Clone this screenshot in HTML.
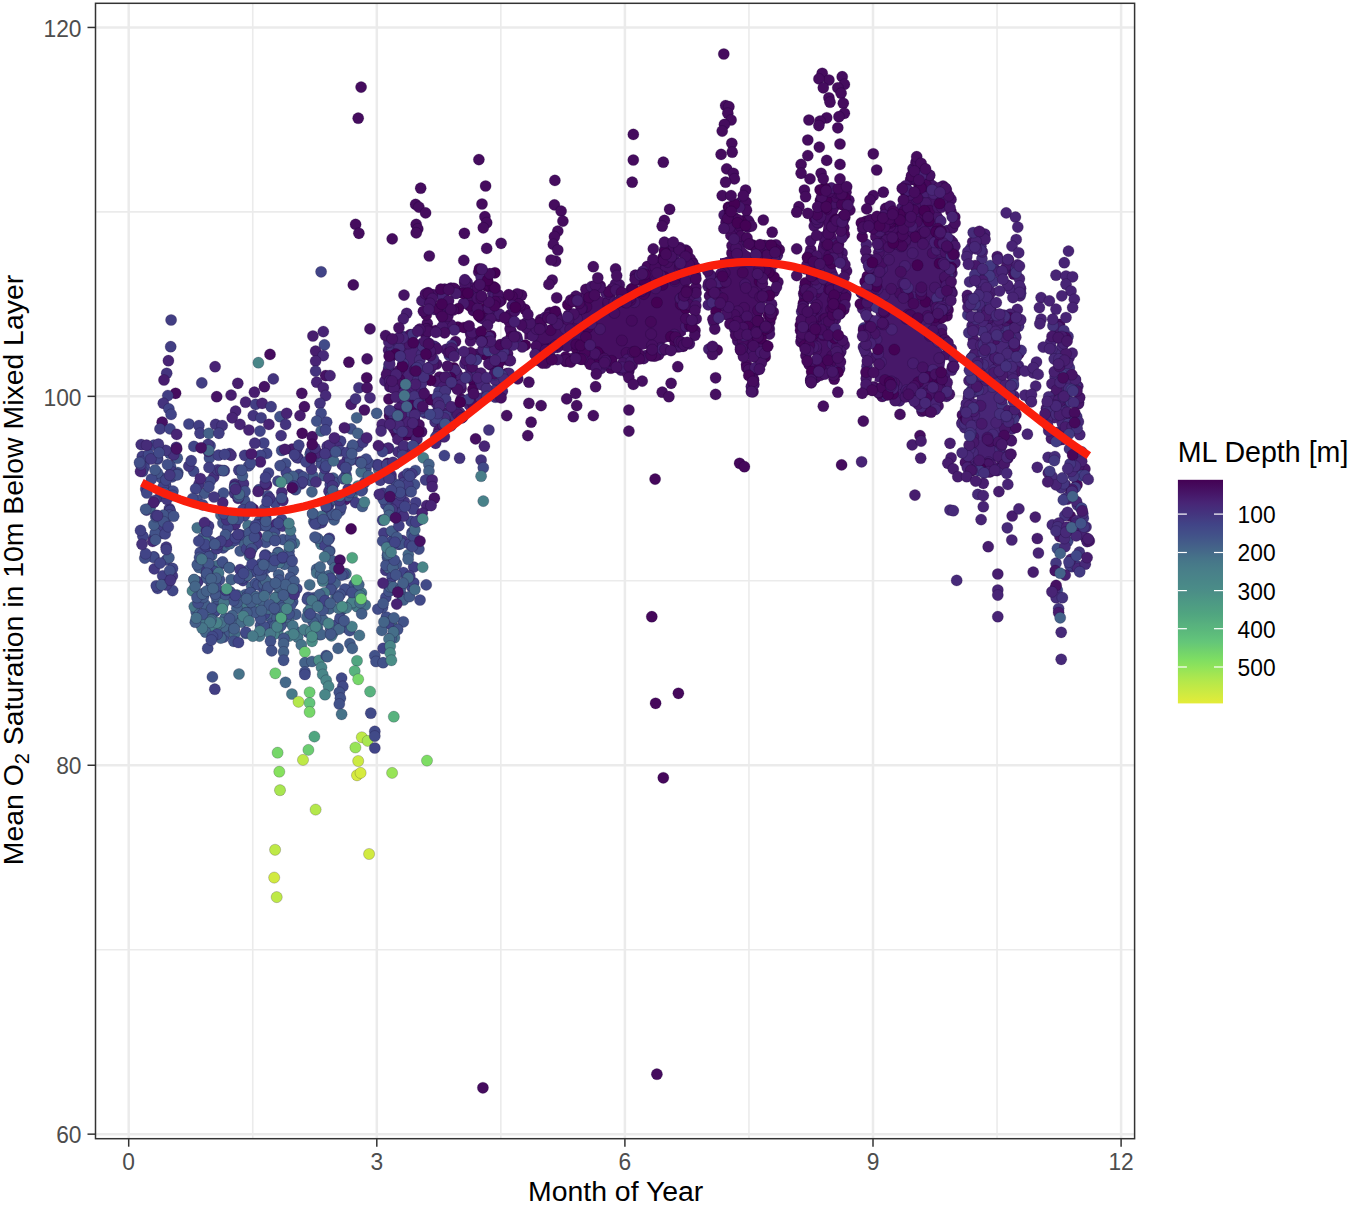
<!DOCTYPE html><html><head><meta charset="utf-8"><style>html,body{margin:0;padding:0;background:#fff;}svg{display:block;}text{font-family:"Liberation Sans",sans-serif;}g.pts circle{stroke:rgba(20,0,45,0.2);stroke-width:1.0}</style></head><body>
<svg width="1350" height="1205" viewBox="0 0 1350 1205">
<rect x="0" y="0" width="1350" height="1205" fill="#fff"/>
<line x1="252.75" y1="3.3" x2="252.75" y2="1138.7" stroke="#ebebeb" stroke-width="1.6"/><line x1="500.85" y1="3.3" x2="500.85" y2="1138.7" stroke="#ebebeb" stroke-width="1.6"/><line x1="748.95" y1="3.3" x2="748.95" y2="1138.7" stroke="#ebebeb" stroke-width="1.6"/><line x1="997.05" y1="3.3" x2="997.05" y2="1138.7" stroke="#ebebeb" stroke-width="1.6"/><line x1="95.5" y1="949.70" x2="1134.6" y2="949.70" stroke="#ebebeb" stroke-width="1.6"/><line x1="95.5" y1="580.80" x2="1134.6" y2="580.80" stroke="#ebebeb" stroke-width="1.6"/><line x1="95.5" y1="211.90" x2="1134.6" y2="211.90" stroke="#ebebeb" stroke-width="1.6"/><line x1="128.70" y1="3.3" x2="128.70" y2="1138.7" stroke="#ebebeb" stroke-width="2.5"/><line x1="376.80" y1="3.3" x2="376.80" y2="1138.7" stroke="#ebebeb" stroke-width="2.5"/><line x1="624.90" y1="3.3" x2="624.90" y2="1138.7" stroke="#ebebeb" stroke-width="2.5"/><line x1="873.00" y1="3.3" x2="873.00" y2="1138.7" stroke="#ebebeb" stroke-width="2.5"/><line x1="1121.10" y1="3.3" x2="1121.10" y2="1138.7" stroke="#ebebeb" stroke-width="2.5"/><line x1="95.5" y1="1134.15" x2="1134.6" y2="1134.15" stroke="#ebebeb" stroke-width="2.5"/><line x1="95.5" y1="765.25" x2="1134.6" y2="765.25" stroke="#ebebeb" stroke-width="2.5"/><line x1="95.5" y1="396.35" x2="1134.6" y2="396.35" stroke="#ebebeb" stroke-width="2.5"/><line x1="95.5" y1="27.45" x2="1134.6" y2="27.45" stroke="#ebebeb" stroke-width="2.5"/>
<g class="pts"><path d="M740.9,240.0 L740.8,239.7 L740.7,238.3 L740.7,236.9 L740.8,235.5 L741.9,227.8 L740.4,225.6 L739.7,224.4 L739.1,223.2 L738.7,221.9 L738.3,220.6 L738.1,219.2 L737.5,212.8 L736.3,213.1 L733.0,215.7 L733.0,237.8 L733.0,239.2 L732.9,240.0 L740.9,240.0Z" fill="#450d60"/><path d="M837.2,240.0 L837.3,239.2 L834.2,228.3 L833.8,227.0 L833.7,225.6 L833.6,224.2 L833.7,222.9 L833.9,221.5 L834.3,220.2 L834.8,218.9 L839.8,207.2 L838.0,197.4 L830.2,196.5 L828.6,196.7 L828.6,200.0 L828.5,201.7 L828.2,203.4 L824.0,220.2 L822.1,238.9 L822.0,240.0 L837.2,240.0Z" fill="#450d60"/><path d="M930.0,240.0 L930.0,164.4 L914.4,195.6 L911.2,198.8 L911.2,199.0 L911.5,200.3 L911.6,201.7 L911.6,203.1 L911.5,204.5 L911.2,205.9 L910.8,207.2 L910.3,208.5 L909.6,209.7 L908.9,210.9 L908.0,211.9 L907.0,212.9 L905.9,213.8 L904.8,214.6 L903.6,215.2 L902.3,215.8 L900.9,216.2 L899.6,216.4 L898.2,216.6 L896.8,216.6 L895.4,216.4 L894.1,216.2 L892.1,215.7 L884.5,223.3 L883.5,224.2 L882.5,225.0 L881.4,225.7 L880.3,226.2 L879.1,226.7 L877.9,227.1 L870.8,228.8 L870.8,237.8 L870.8,239.2 L870.6,240.0 L930.0,240.0Z" fill="#450d60"/><path d="M900.0,320.0 L936.9,320.0 L937.0,318.6 L937.2,317.2 L937.5,315.9 L938.0,314.6 L938.6,313.3 L939.3,312.1 L940.2,311.0 L941.1,310.0 L941.5,309.6 L942.3,301.9 L942.3,286.0 L942.3,284.9 L942.4,283.9 L944.8,268.3 L944.8,253.7 L944.8,252.3 L945.0,250.9 L945.4,249.6 L945.6,249.1 L944.9,248.6 L943.9,247.7 L942.9,246.7 L942.1,245.6 L941.3,244.4 L940.7,243.2 L940.1,241.9 L939.6,240.5 L939.3,239.1 L939.0,237.7 L939.0,236.2 L939.0,234.8 L939.2,233.3 L939.6,231.9 L940.1,230.6 L940.7,229.3 L941.5,228.1 L945.5,222.4 L945.8,220.6 L942.5,215.1 L941.9,213.9 L941.4,212.7 L941.0,211.4 L940.8,210.2 L940.6,208.8 L940.6,207.5 L940.7,206.2 L941.7,198.4 L938.8,194.4 L931.4,190.9 L930.2,190.3 L929.1,189.6 L928.0,188.7 L927.0,187.8 L926.1,186.7 L925.3,185.6 L924.7,184.4 L921.6,178.3 L921.3,177.9 L921.2,178.2 L920.8,179.5 L920.3,180.8 L919.6,182.0 L918.9,183.2 L918.0,184.2 L914.2,188.5 L914.2,200.5 L914.1,201.9 L913.9,203.2 L913.6,204.6 L913.1,205.9 L912.5,207.2 L911.8,208.3 L910.9,209.5 L910.0,210.5 L909.0,211.4 L907.9,212.3 L906.7,213.0 L905.4,213.6 L904.1,214.0 L902.8,214.4 L901.4,214.6 L900.0,214.6 L900.0,320.0Z" fill="#461466"/><path d="M992.9,320.0 L992.1,286.0 L990.5,277.7 L990.5,272.7 L990.2,272.7 L988.9,272.7 L987.5,272.6 L986.1,272.3 L984.8,271.9 L983.5,271.4 L982.3,270.7 L981.1,269.9 L980.0,269.1 L979.1,268.1 L978.2,267.0 L977.9,266.6 L978.0,268.1 L979.6,280.9 L979.7,282.2 L979.7,283.5 L979.6,284.8 L979.3,286.1 L976.5,297.4 L976.9,311.5 L977.4,312.1 L978.1,313.3 L978.7,314.6 L979.2,315.9 L979.5,317.2 L979.7,318.6 L979.8,320.0 L992.9,320.0Z" fill="#482676"/><path d="M420.0,440.0 L420.0,338.1 L417.7,339.9 L416.7,340.7 L415.7,341.3 L414.5,341.9 L413.4,342.3 L401.8,346.2 L397.7,348.9 L398.4,353.2 L398.6,354.5 L398.6,355.7 L398.5,356.9 L398.4,358.2 L395.3,374.3 L396.3,394.5 L398.3,414.4 L405.5,432.2 L405.9,433.6 L406.3,434.9 L406.4,436.3 L406.5,437.7 L406.4,439.1 L406.3,440.0 L420.0,440.0Z" fill="#482273"/><path d="M524.4,339.4 L524.8,339.3 L526.2,339.4 L527.6,339.5 L529.0,339.8 L530.3,340.3 L531.6,340.8 L532.8,341.5 L533.9,342.3 L535.0,343.2 L535.9,344.2 L536.8,345.3 L537.5,346.5 L538.2,347.7 L538.7,349.0 L538.8,349.3 L544.1,353.6 L545.5,352.7 L546.7,352.0 L547.9,351.4 L549.2,350.9 L550.6,350.6 L551.9,350.4 L553.3,350.3 L560.0,350.3 L561.4,350.4 L562.8,350.6 L564.1,350.9 L565.4,351.4 L566.7,352.0 L567.7,352.6 L569.2,351.8 L570.4,351.2 L571.7,350.8 L572.9,350.5 L574.2,350.3 L575.6,350.3 L584.4,350.3 L585.9,350.4 L587.3,350.6 L588.8,351.0 L590.1,351.5 L591.4,352.1 L592.7,352.9 L593.8,353.8 L594.8,354.8 L595.8,355.9 L597.8,358.6 L598.5,358.3 L599.8,357.7 L601.2,357.3 L602.6,357.1 L604.0,357.0 L605.4,357.0 L606.8,357.1 L608.1,357.4 L609.5,357.9 L610.8,358.4 L614.4,360.3 L615.5,359.9 L616.9,359.5 L618.3,359.3 L619.7,359.2 L621.1,359.2 L622.6,359.4 L623.9,359.7 L625.3,360.2 L626.1,360.6 L632.2,354.4 L633.2,353.6 L634.2,352.8 L635.2,352.1 L636.4,351.5 L637.6,351.1 L638.8,350.7 L655.6,346.5 L665.9,342.4 L667.2,341.9 L680.7,338.1 L685.9,334.6 L686.3,274.1 L684.7,259.2 L674.2,255.4 L671.6,256.7 L661.3,263.5 L654.0,274.5 L653.2,275.6 L652.4,276.5 L651.4,277.4 L650.4,278.2 L649.3,278.9 L648.1,279.5 L646.9,280.0 L645.7,280.4 L644.7,280.6 L642.5,288.3 L642.1,289.6 L641.5,290.9 L640.8,292.1 L640.0,293.2 L639.1,294.3 L638.1,295.2 L637.0,296.1 L635.8,296.8 L634.6,297.4 L633.3,297.9 L632.0,298.3 L630.6,298.5 L629.2,298.6 L627.9,298.6 L626.5,298.4 L625.1,298.1 L623.8,297.7 L622.6,297.1 L618.3,295.0 L618.2,295.1 L617.1,296.0 L615.9,296.7 L614.7,297.4 L613.4,297.9 L612.0,298.3 L610.7,298.5 L609.3,298.6 L607.9,298.6 L606.5,298.4 L605.1,298.1 L603.8,297.7 L602.6,297.1 L596.3,294.0 L594.2,295.3 L585.5,300.8 L580.1,304.3 L572.2,312.2 L571.3,313.1 L570.2,313.9 L569.1,314.6 L567.9,315.2 L566.7,315.7 L556.0,319.2 L550.3,324.1 L549.2,324.9 L548.1,325.7 L546.8,326.3 L545.5,326.8 L544.2,327.2 L536.6,328.8 L535.3,329.1 L533.9,329.2 L532.5,329.1 L531.1,329.0 L529.7,328.7 L528.4,328.2 L527.2,327.6 L526.7,327.4 L524.4,333.3 L524.4,339.4Z" fill="#460f61"/><path d="M720.0,311.6 L720.1,311.6 L721.5,311.4 L722.9,311.4 L724.2,311.5 L725.6,311.7 L727.0,312.1 L728.3,312.6 L735.8,315.9 L737.0,316.6 L738.1,317.3 L739.2,318.1 L740.2,319.1 L741.1,320.1 L741.9,321.2 L742.6,322.4 L743.2,323.7 L743.6,324.9 L743.9,326.3 L747.0,342.8 L753.3,359.5 L753.4,359.8 L758.2,351.8 L761.1,343.1 L759.3,330.9 L759.2,329.4 L759.2,327.9 L759.4,326.4 L759.7,325.0 L763.6,311.4 L763.6,295.6 L763.7,294.3 L763.8,293.0 L764.1,291.8 L764.5,290.6 L765.0,289.4 L765.6,288.3 L768.0,284.3 L763.3,275.9 L762.7,274.7 L762.2,273.5 L761.8,272.2 L761.5,270.9 L761.4,269.6 L761.4,268.2 L761.5,266.9 L761.8,265.6 L762.2,264.3 L762.7,263.1 L763.3,261.9 L767.7,254.2 L757.0,254.2 L755.6,254.1 L754.2,253.9 L752.9,253.6 L751.6,253.1 L750.3,252.5 L749.1,251.8 L748.0,250.9 L747.0,250.0 L746.0,249.0 L745.2,247.9 L744.5,246.7 L743.9,245.4 L743.4,244.1 L743.1,242.8 L742.9,241.4 L742.8,240.0 L733.9,240.0 L734.1,241.1 L734.2,242.5 L734.2,244.2 L734.1,245.6 L733.9,246.9 L733.6,248.3 L733.1,249.6 L732.5,250.8 L731.8,252.0 L730.9,253.2 L730.0,254.2 L729.0,255.1 L727.9,255.9 L726.7,256.7 L725.4,257.3 L724.1,257.7 L722.8,258.1 L721.4,258.3 L720.0,258.3 L720.0,311.6Z" fill="#460f61"/><path d="M819.4,240.0 L819.4,241.4 L819.2,242.8 L818.8,244.1 L818.4,245.4 L818.1,246.0 L816.3,263.6 L811.9,308.1 L809.8,328.6 L811.7,341.5 L815.8,355.8 L819.1,365.7 L820.3,365.1 L821.6,364.6 L822.9,364.1 L824.3,363.8 L825.7,363.7 L827.1,363.6 L828.4,363.7 L829.8,364.0 L830.3,364.1 L830.3,355.6 L830.3,354.2 L830.5,352.9 L830.8,351.7 L831.2,350.4 L831.8,349.2 L834.5,343.7 L833.1,341.8 L826.4,332.9 L825.7,331.8 L825.0,330.6 L824.5,329.4 L824.1,328.1 L823.8,326.8 L823.7,325.4 L823.6,324.1 L823.7,322.7 L823.9,321.4 L824.3,320.1 L824.8,318.8 L825.4,317.6 L826.1,316.5 L826.9,315.4 L836.3,304.1 L838.2,298.3 L834.7,289.9 L834.2,288.6 L833.9,287.3 L833.7,286.0 L833.6,284.6 L833.7,283.3 L833.8,281.9 L834.1,280.6 L834.6,279.3 L835.1,278.1 L837.7,272.9 L833.7,263.4 L833.1,261.9 L832.8,260.5 L832.6,259.0 L832.5,257.5 L832.6,256.0 L834.5,240.7 L834.7,240.0 L819.4,240.0Z" fill="#461163"/><path d="M953.3,302.2 L951.1,284.4 L955.6,262.2 L956.3,254.6 L956.3,254.6 L954.9,254.4 L953.6,254.0 L952.3,253.6 L951.0,253.0 L949.8,252.3 L948.7,251.4 L947.7,250.5 L946.8,249.5 L945.9,248.3 L945.2,247.2 L944.6,245.9 L944.6,245.8 L944.4,245.4 L944.0,244.1 L943.6,242.8 L943.4,241.4 L943.4,240.0 L872.4,240.0 L876.0,254.3 L876.3,256.0 L876.4,257.8 L876.4,275.6 L876.3,277.0 L876.1,278.5 L875.7,279.9 L875.2,281.3 L868.0,297.4 L868.1,297.8 L868.5,299.1 L869.0,301.5 L874.4,310.5 L875.0,311.8 L875.6,313.1 L876.0,314.5 L876.3,315.9 L876.4,317.4 L876.3,318.8 L876.2,320.3 L875.8,321.7 L875.4,323.0 L871.9,331.6 L871.9,344.9 L876.0,361.0 L876.2,362.3 L876.4,363.6 L876.4,364.9 L876.3,366.2 L874.4,381.4 L874.7,381.5 L876.1,381.7 L877.4,382.0 L878.8,382.5 L880.0,383.1 L881.2,383.8 L882.3,384.6 L883.3,385.5 L884.3,386.5 L885.5,386.3 L886.8,386.0 L888.2,385.9 L889.5,385.9 L890.9,386.0 L892.2,386.2 L893.5,386.6 L894.8,387.1 L896.0,387.8 L897.2,388.5 L898.2,389.4 L899.2,390.3 L899.4,390.5 L904.4,388.8 L905.8,388.4 L907.2,388.2 L908.6,388.1 L910.0,388.1 L911.4,388.3 L912.8,388.6 L914.2,389.1 L915.5,389.7 L916.7,390.4 L917.8,391.3 L918.9,392.2 L925.6,398.9 L926.5,399.9 L927.3,401.0 L927.6,401.4 L929.7,401.4 L932.2,398.9 L933.3,397.9 L934.6,397.0 L935.9,396.2 L939.2,394.6 L938.4,393.0 L937.9,391.7 L937.4,390.3 L937.1,388.8 L937.0,387.4 L937.0,385.9 L937.1,384.5 L937.4,383.1 L937.9,381.7 L938.4,380.3 L944.1,369.1 L945.5,359.1 L942.9,351.3 L935.6,342.2 L934.8,341.0 L934.0,339.8 L933.5,338.4 L933.0,337.1 L932.7,335.6 L932.5,334.2 L932.5,332.8 L932.6,331.3 L934.2,320.5 L934.5,319.1 L934.9,317.8 L935.4,316.5 L936.0,315.3 L936.8,314.1 L937.7,313.0 L938.6,312.1 L939.7,311.2 L940.9,310.4 L942.1,309.7 L943.4,309.2 L944.7,308.8 L946.1,308.5 L947.4,308.4 L948.8,308.4 L950.2,308.5 L951.5,308.7 L953.3,302.2Z" fill="#471869"/><path d="M1006.1,440.0 L1005.9,438.9 L1005.8,437.5 L1005.8,372.7 L1005.9,371.3 L1006.1,370.0 L1006.4,368.6 L1006.9,367.3 L1007.5,366.1 L1008.2,364.9 L1009.1,363.7 L1010.0,362.7 L1011.0,361.8 L1012.1,361.0 L1013.3,360.2 L1014.6,359.6 L1015.9,359.2 L1017.2,358.8 L1018.6,358.6 L1020.0,358.6 L1020.0,313.3 L979.5,315.0 L979.9,315.6 L980.5,316.9 L981.0,318.2 L981.4,319.5 L981.6,320.9 L981.7,322.3 L981.7,323.7 L981.5,325.0 L981.2,326.4 L979.3,333.0 L982.3,342.2 L982.7,343.6 L983.0,345.1 L983.0,346.5 L983.0,348.0 L982.8,349.4 L978.6,370.3 L978.6,384.4 L978.5,386.4 L976.2,402.0 L976.0,403.3 L975.7,404.5 L971.6,416.6 L970.1,427.1 L972.2,432.4 L972.7,433.7 L973.0,435.1 L973.2,436.5 L973.2,437.9 L973.1,439.2 L973.0,440.0 L1006.1,440.0Z" fill="#482676"/><path d="M1068.9,440.0 L1068.9,439.1 L1069.0,437.7 L1070.4,428.8 L1068.9,414.0 L1068.8,412.4 L1068.9,410.9 L1070.3,399.6 L1067.7,383.8 L1063.9,376.3 L1063.9,376.7 L1063.8,378.2 L1063.5,379.7 L1063.1,381.1 L1058.5,393.3 L1055.7,407.4 L1055.7,420.6 L1059.5,433.9 L1059.8,435.3 L1060.0,436.7 L1060.0,438.1 L1059.9,439.4 L1059.8,440.0 L1068.9,440.0ZM1059.4,343.7 L1059.8,344.5 L1059.4,343.6 L1059.4,343.5 L1059.4,343.7Z" fill="#482676"/><path d="M973.0,440.0 L973.1,440.8 L973.2,442.1 L973.2,443.5 L973.0,444.9 L972.7,446.3 L972.2,447.6 L970.8,451.1 L973.1,457.0 L975.3,462.4 L978.3,463.6 L985.3,463.6 L994.7,461.7 L995.0,461.7 L995.2,461.0 L995.6,459.6 L996.2,458.2 L996.9,456.8 L997.8,455.6 L1004.4,447.4 L1005.6,440.2 L1005.7,440.0 L973.0,440.0Z" fill="#471f70"/><circle cx="800.9" cy="341.7" r="5.6" fill="#460e61"/><circle cx="984.7" cy="234.0" r="5.6" fill="#471d6f"/><circle cx="1057.5" cy="438.5" r="5.6" fill="#471b6d"/><circle cx="993.4" cy="281.3" r="5.6" fill="#45307c"/><circle cx="842.1" cy="252.9" r="5.6" fill="#461668"/><circle cx="223.1" cy="547.9" r="5.6" fill="#414a88"/><circle cx="399.2" cy="544.3" r="5.6" fill="#435e89"/><circle cx="951.1" cy="253.3" r="5.6" fill="#461567"/><circle cx="490.7" cy="335.5" r="5.6" fill="#45075a"/><circle cx="211.4" cy="585.1" r="5.6" fill="#414787"/><circle cx="608.2" cy="304.4" r="5.6" fill="#460e61"/><circle cx="901.6" cy="245.9" r="5.6" fill="#47196b"/><circle cx="1057.4" cy="548.6" r="5.6" fill="#424e88"/><circle cx="972.0" cy="357.3" r="5.6" fill="#462f7b"/><circle cx="913.1" cy="363.3" r="5.6" fill="#471c6e"/><circle cx="464.9" cy="363.7" r="5.6" fill="#471e70"/><circle cx="223.8" cy="637.1" r="5.6" fill="#425089"/><circle cx="259.4" cy="521.2" r="5.6" fill="#425489"/><circle cx="921.0" cy="392.4" r="5.6" fill="#471d6f"/><circle cx="758.9" cy="351.4" r="5.6" fill="#450b5d"/><circle cx="327.4" cy="510.1" r="5.6" fill="#472777"/><circle cx="477.5" cy="299.9" r="5.6" fill="#461062"/><circle cx="402.7" cy="336.8" r="5.6" fill="#482172"/><circle cx="431.8" cy="414.9" r="5.6" fill="#414888"/><circle cx="987.7" cy="469.8" r="5.6" fill="#45075a"/><circle cx="936.2" cy="304.4" r="5.6" fill="#471769"/><circle cx="387.5" cy="557.6" r="5.6" fill="#435889"/><circle cx="582.9" cy="302.3" r="5.6" fill="#450d5f"/><circle cx="193.6" cy="471.2" r="5.6" fill="#414988"/><circle cx="355.9" cy="600.2" r="5.6" fill="#477989"/><circle cx="492.7" cy="293.4" r="5.6" fill="#471b6c"/><circle cx="402.6" cy="365.7" r="5.6" fill="#471f71"/><circle cx="943.0" cy="395.5" r="5.6" fill="#47186a"/><circle cx="476.9" cy="299.3" r="5.6" fill="#461567"/><circle cx="866.4" cy="244.4" r="5.6" fill="#482071"/><circle cx="403.6" cy="476.6" r="5.6" fill="#45327d"/><circle cx="645.1" cy="290.3" r="5.6" fill="#450a5c"/><circle cx="313.8" cy="521.4" r="5.6" fill="#445f89"/><circle cx="969.3" cy="422.9" r="5.6" fill="#482172"/><circle cx="142.3" cy="456.4" r="5.6" fill="#423f84"/><circle cx="809.3" cy="331.6" r="5.6" fill="#45085a"/><circle cx="981.4" cy="346.6" r="5.6" fill="#462c7a"/><circle cx="946.7" cy="298.0" r="5.6" fill="#440154"/><circle cx="896.5" cy="385.8" r="5.6" fill="#471c6d"/><circle cx="826.4" cy="245.0" r="5.6" fill="#450c5f"/><circle cx="1013.7" cy="411.9" r="5.6" fill="#443780"/><circle cx="1055.8" cy="353.4" r="5.6" fill="#462c79"/><circle cx="1012.2" cy="428.9" r="5.6" fill="#482576"/><circle cx="905.0" cy="241.9" r="5.6" fill="#461264"/><circle cx="740.1" cy="204.0" r="5.6" fill="#450c5e"/><circle cx="839.6" cy="293.9" r="5.6" fill="#45085b"/><circle cx="814.6" cy="219.2" r="5.6" fill="#440255"/><circle cx="835.9" cy="219.4" r="5.6" fill="#440154"/><circle cx="940.8" cy="220.9" r="5.6" fill="#482374"/><circle cx="731.9" cy="252.9" r="5.6" fill="#45085b"/><circle cx="656.9" cy="302.5" r="5.6" fill="#440154"/><circle cx="550.4" cy="357.1" r="5.6" fill="#460f62"/><circle cx="207.5" cy="611.4" r="5.6" fill="#414a88"/><circle cx="774.1" cy="263.9" r="5.6" fill="#461062"/><circle cx="732.2" cy="323.8" r="5.6" fill="#440154"/><circle cx="141.2" cy="444.6" r="5.6" fill="#45317c"/><circle cx="392.0" cy="423.0" r="5.6" fill="#472777"/><circle cx="245.0" cy="604.9" r="5.6" fill="#467889"/><circle cx="995.3" cy="269.8" r="5.6" fill="#471f70"/><circle cx="1069.3" cy="389.6" r="5.6" fill="#472a78"/><circle cx="734.7" cy="329.0" r="5.6" fill="#461567"/><circle cx="469.8" cy="301.9" r="5.6" fill="#461365"/><circle cx="345.0" cy="495.4" r="5.6" fill="#488089"/><circle cx="916.4" cy="206.0" r="5.6" fill="#461063"/><circle cx="456.6" cy="372.7" r="5.6" fill="#461264"/><circle cx="203.0" cy="537.5" r="5.6" fill="#435789"/><circle cx="942.1" cy="242.8" r="5.6" fill="#462b79"/><circle cx="880.2" cy="323.7" r="5.6" fill="#471f71"/><circle cx="999.1" cy="364.4" r="5.6" fill="#471a6b"/><circle cx="204.5" cy="561.0" r="5.6" fill="#424e88"/><circle cx="438.2" cy="410.0" r="5.6" fill="#462f7b"/><circle cx="968.9" cy="393.3" r="5.6" fill="#471d6f"/><circle cx="871.2" cy="358.3" r="5.6" fill="#461566"/><circle cx="1016.5" cy="366.6" r="5.6" fill="#472777"/><circle cx="831.4" cy="288.0" r="5.6" fill="#450659"/><circle cx="383.8" cy="533.1" r="5.6" fill="#433d83"/><circle cx="835.3" cy="319.4" r="5.6" fill="#461567"/><circle cx="511.9" cy="314.1" r="5.6" fill="#461567"/><circle cx="235.0" cy="484.0" r="5.6" fill="#45307c"/><circle cx="210.1" cy="445.8" r="5.6" fill="#414687"/><circle cx="331.5" cy="579.4" r="5.6" fill="#467489"/><circle cx="1015.9" cy="414.7" r="5.6" fill="#461365"/><circle cx="666.7" cy="255.4" r="5.6" fill="#450a5c"/><circle cx="1058.6" cy="403.3" r="5.6" fill="#471a6b"/><circle cx="336.0" cy="596.8" r="5.6" fill="#456a89"/><circle cx="278.0" cy="552.4" r="5.6" fill="#424c88"/><circle cx="404.2" cy="336.8" r="5.6" fill="#423f84"/><circle cx="628.9" cy="370.8" r="5.6" fill="#450e60"/><circle cx="947.1" cy="315.8" r="5.6" fill="#45095b"/><circle cx="245.5" cy="594.5" r="5.6" fill="#435989"/><circle cx="469.7" cy="405.4" r="5.6" fill="#482375"/><circle cx="932.9" cy="369.9" r="5.6" fill="#482374"/><circle cx="507.6" cy="353.8" r="5.6" fill="#461466"/><circle cx="236.9" cy="608.3" r="5.6" fill="#446089"/><circle cx="951.9" cy="273.1" r="5.6" fill="#47196b"/><circle cx="863.4" cy="347.0" r="5.6" fill="#482273"/><circle cx="197.3" cy="527.8" r="5.6" fill="#457089"/><circle cx="966.4" cy="423.5" r="5.6" fill="#482273"/><circle cx="1052.1" cy="402.2" r="5.6" fill="#450e60"/><circle cx="275.2" cy="503.0" r="5.6" fill="#414687"/><circle cx="815.6" cy="377.7" r="5.6" fill="#460e61"/><circle cx="392.7" cy="532.2" r="5.6" fill="#414286"/><circle cx="352.0" cy="496.1" r="5.6" fill="#456d89"/><circle cx="230.0" cy="631.9" r="5.6" fill="#435a89"/><circle cx="865.7" cy="297.5" r="5.6" fill="#461466"/><circle cx="758.7" cy="348.1" r="5.6" fill="#461264"/><circle cx="899.6" cy="400.8" r="5.6" fill="#471f70"/><circle cx="321.1" cy="544.3" r="5.6" fill="#467489"/><circle cx="962.4" cy="415.0" r="5.6" fill="#461163"/><circle cx="631.5" cy="299.5" r="5.6" fill="#460f61"/><circle cx="1060.7" cy="397.0" r="5.6" fill="#472776"/><circle cx="833.8" cy="334.8" r="5.6" fill="#450d5f"/><circle cx="361.4" cy="592.9" r="5.6" fill="#467689"/><circle cx="276.1" cy="597.7" r="5.6" fill="#446089"/><circle cx="211.6" cy="555.4" r="5.6" fill="#435e89"/><circle cx="949.9" cy="271.9" r="5.6" fill="#461062"/><circle cx="473.9" cy="382.0" r="5.6" fill="#440356"/><circle cx="250.0" cy="572.9" r="5.6" fill="#435889"/><circle cx="950.3" cy="275.1" r="5.6" fill="#461567"/><circle cx="898.7" cy="219.9" r="5.6" fill="#450a5c"/><circle cx="815.1" cy="264.4" r="5.6" fill="#471e6f"/><circle cx="1004.8" cy="410.9" r="5.6" fill="#482374"/><circle cx="295.8" cy="614.4" r="5.6" fill="#435c89"/><circle cx="455.5" cy="341.6" r="5.6" fill="#450d5f"/><circle cx="674.8" cy="281.1" r="5.6" fill="#461466"/><circle cx="823.9" cy="236.8" r="5.6" fill="#461163"/><circle cx="590.8" cy="356.1" r="5.6" fill="#440356"/><circle cx="1058.2" cy="404.2" r="5.6" fill="#44367f"/><circle cx="415.4" cy="470.5" r="5.6" fill="#425089"/><circle cx="978.8" cy="247.1" r="5.6" fill="#47196b"/><circle cx="708.8" cy="349.1" r="5.6" fill="#471f70"/><circle cx="584.1" cy="307.7" r="5.6" fill="#450c5e"/><circle cx="472.3" cy="296.7" r="5.6" fill="#471a6c"/><circle cx="204.8" cy="553.1" r="5.6" fill="#423e84"/><circle cx="599.9" cy="329.1" r="5.6" fill="#461768"/><circle cx="973.4" cy="460.5" r="5.6" fill="#482172"/><circle cx="277.2" cy="609.5" r="5.6" fill="#457089"/><circle cx="333.4" cy="632.3" r="5.6" fill="#456d89"/><circle cx="939.5" cy="378.5" r="5.6" fill="#471e6f"/><circle cx="662.6" cy="284.9" r="5.6" fill="#440154"/><circle cx="916.6" cy="319.9" r="5.6" fill="#450c5f"/><circle cx="913.0" cy="168.6" r="5.6" fill="#461264"/><circle cx="336.8" cy="624.7" r="5.6" fill="#424d88"/><circle cx="1010.4" cy="439.8" r="5.6" fill="#482172"/><circle cx="483.2" cy="318.7" r="5.6" fill="#482374"/><circle cx="766.2" cy="345.7" r="5.6" fill="#440154"/><circle cx="1068.0" cy="336.5" r="5.6" fill="#45317d"/><circle cx="995.1" cy="339.3" r="5.6" fill="#461264"/><circle cx="901.1" cy="246.5" r="5.6" fill="#461365"/><circle cx="651.9" cy="356.0" r="5.6" fill="#450a5d"/><circle cx="686.0" cy="326.5" r="5.6" fill="#47196b"/><circle cx="831.1" cy="309.7" r="5.6" fill="#45095c"/><circle cx="492.5" cy="315.0" r="5.6" fill="#461667"/><circle cx="842.8" cy="222.1" r="5.6" fill="#461668"/><circle cx="506.8" cy="373.5" r="5.6" fill="#440154"/><circle cx="628.6" cy="298.4" r="5.6" fill="#440558"/><circle cx="328.8" cy="504.9" r="5.6" fill="#414286"/><circle cx="929.9" cy="191.1" r="5.6" fill="#440356"/><circle cx="1078.6" cy="402.6" r="5.6" fill="#472877"/><circle cx="385.0" cy="380.9" r="5.6" fill="#482172"/><circle cx="511.2" cy="331.8" r="5.6" fill="#461567"/><circle cx="144.0" cy="462.7" r="5.6" fill="#425089"/><circle cx="390.8" cy="357.1" r="5.6" fill="#471769"/><circle cx="243.0" cy="580.6" r="5.6" fill="#423f84"/><circle cx="1071.8" cy="566.7" r="5.6" fill="#443880"/><circle cx="925.5" cy="301.8" r="5.6" fill="#440154"/><circle cx="476.4" cy="334.3" r="5.6" fill="#450d5f"/><circle cx="949.2" cy="263.7" r="5.6" fill="#471a6c"/><circle cx="868.6" cy="340.3" r="5.6" fill="#471769"/><circle cx="258.7" cy="525.0" r="5.6" fill="#472877"/><circle cx="254.6" cy="545.0" r="5.6" fill="#435789"/><circle cx="752.9" cy="245.2" r="5.6" fill="#45085b"/><circle cx="774.2" cy="291.2" r="5.6" fill="#460e61"/><circle cx="967.7" cy="299.7" r="5.6" fill="#47196b"/><circle cx="969.0" cy="380.6" r="5.6" fill="#471e6f"/><circle cx="385.7" cy="501.1" r="5.6" fill="#472877"/><circle cx="866.7" cy="373.5" r="5.6" fill="#461163"/><circle cx="389.5" cy="415.8" r="5.6" fill="#460e60"/><circle cx="411.7" cy="586.7" r="5.6" fill="#414687"/><circle cx="257.8" cy="602.4" r="5.6" fill="#446189"/><circle cx="385.8" cy="570.4" r="5.6" fill="#433a81"/><circle cx="971.9" cy="358.2" r="5.6" fill="#472978"/><circle cx="873.0" cy="264.0" r="5.6" fill="#440154"/><circle cx="763.8" cy="298.2" r="5.6" fill="#461163"/><circle cx="768.1" cy="291.6" r="5.6" fill="#450b5d"/><circle cx="900.7" cy="294.2" r="5.6" fill="#482374"/><circle cx="389.7" cy="622.9" r="5.6" fill="#414888"/><circle cx="975.1" cy="368.4" r="5.6" fill="#482676"/><circle cx="670.7" cy="257.7" r="5.6" fill="#461062"/><circle cx="744.0" cy="307.9" r="5.6" fill="#460e60"/><circle cx="400.7" cy="515.8" r="5.6" fill="#435b89"/><circle cx="377.2" cy="464.7" r="5.6" fill="#424c88"/><circle cx="299.0" cy="474.6" r="5.6" fill="#414487"/><circle cx="922.2" cy="233.8" r="5.6" fill="#45095b"/><circle cx="920.3" cy="172.3" r="5.6" fill="#47196b"/><circle cx="1057.3" cy="590.1" r="5.6" fill="#414988"/><circle cx="842.4" cy="260.0" r="5.6" fill="#461365"/><circle cx="398.2" cy="451.9" r="5.6" fill="#462e7a"/><circle cx="777.4" cy="255.2" r="5.6" fill="#47196a"/><circle cx="484.1" cy="273.0" r="5.6" fill="#461264"/><circle cx="400.6" cy="512.2" r="5.6" fill="#456a89"/><circle cx="946.1" cy="299.1" r="5.6" fill="#461062"/><circle cx="251.7" cy="586.5" r="5.6" fill="#446589"/><circle cx="289.0" cy="551.3" r="5.6" fill="#435a89"/><circle cx="910.6" cy="179.7" r="5.6" fill="#450a5d"/><circle cx="894.2" cy="382.9" r="5.6" fill="#461163"/><circle cx="423.5" cy="396.4" r="5.6" fill="#482676"/><circle cx="275.0" cy="558.7" r="5.6" fill="#425389"/><circle cx="995.1" cy="357.6" r="5.6" fill="#471e6f"/><circle cx="495.2" cy="295.3" r="5.6" fill="#471d6e"/><circle cx="883.3" cy="222.5" r="5.6" fill="#450659"/><circle cx="320.4" cy="541.1" r="5.6" fill="#467889"/><circle cx="946.7" cy="354.5" r="5.6" fill="#461163"/><circle cx="260.5" cy="625.4" r="5.6" fill="#425289"/><circle cx="913.9" cy="170.4" r="5.6" fill="#471f70"/><circle cx="587.6" cy="327.7" r="5.6" fill="#440456"/><circle cx="908.1" cy="314.5" r="5.6" fill="#450b5d"/><circle cx="277.8" cy="632.6" r="5.6" fill="#487d89"/><circle cx="820.4" cy="200.4" r="5.6" fill="#450759"/><circle cx="453.7" cy="351.5" r="5.6" fill="#462d7a"/><circle cx="446.1" cy="349.4" r="5.6" fill="#471b6d"/><circle cx="752.6" cy="385.0" r="5.6" fill="#450d5f"/><circle cx="288.7" cy="621.6" r="5.6" fill="#467489"/><circle cx="233.4" cy="623.0" r="5.6" fill="#446789"/><circle cx="416.8" cy="439.4" r="5.6" fill="#443880"/><circle cx="207.9" cy="444.4" r="5.6" fill="#433a81"/><circle cx="1018.8" cy="353.8" r="5.6" fill="#460f61"/><circle cx="258.9" cy="489.7" r="5.6" fill="#414888"/><circle cx="737.7" cy="311.3" r="5.6" fill="#461062"/><circle cx="1086.0" cy="527.0" r="5.6" fill="#462c79"/><circle cx="1011.5" cy="374.9" r="5.6" fill="#482475"/><circle cx="214.8" cy="611.8" r="5.6" fill="#425089"/><circle cx="1056.5" cy="432.7" r="5.6" fill="#472877"/><circle cx="316.6" cy="569.2" r="5.6" fill="#446189"/><circle cx="774.2" cy="255.7" r="5.6" fill="#45095b"/><circle cx="823.1" cy="335.1" r="5.6" fill="#45095b"/><circle cx="238.8" cy="470.2" r="5.6" fill="#423e84"/><circle cx="366.0" cy="468.8" r="5.6" fill="#424d88"/><circle cx="669.1" cy="254.4" r="5.6" fill="#471869"/><circle cx="669.3" cy="247.6" r="5.6" fill="#450c5f"/><circle cx="599.7" cy="365.9" r="5.6" fill="#440154"/><circle cx="248.7" cy="465.9" r="5.6" fill="#424d88"/><circle cx="406.3" cy="435.2" r="5.6" fill="#440154"/><circle cx="981.0" cy="285.1" r="5.6" fill="#462b79"/><circle cx="175.6" cy="457.0" r="5.6" fill="#471e6f"/><circle cx="229.5" cy="453.7" r="5.6" fill="#423f84"/><circle cx="396.7" cy="505.2" r="5.6" fill="#414386"/><circle cx="753.5" cy="292.4" r="5.6" fill="#460f61"/><circle cx="938.1" cy="405.9" r="5.6" fill="#461163"/><circle cx="735.6" cy="326.3" r="5.6" fill="#440154"/><circle cx="154.3" cy="568.9" r="5.6" fill="#433a82"/><circle cx="810.8" cy="249.7" r="5.6" fill="#460f61"/><circle cx="1059.7" cy="439.9" r="5.6" fill="#482676"/><circle cx="576.9" cy="349.7" r="5.6" fill="#450658"/><circle cx="396.4" cy="564.0" r="5.6" fill="#425689"/><circle cx="583.1" cy="297.6" r="5.6" fill="#450e60"/><circle cx="226.0" cy="539.3" r="5.6" fill="#425289"/><circle cx="521.5" cy="295.2" r="5.6" fill="#450d5f"/><circle cx="884.5" cy="312.4" r="5.6" fill="#45075a"/><circle cx="843.4" cy="228.3" r="5.6" fill="#450c5f"/><circle cx="1001.1" cy="466.5" r="5.6" fill="#461264"/><circle cx="203.8" cy="593.6" r="5.6" fill="#425589"/><circle cx="972.4" cy="361.8" r="5.6" fill="#462f7b"/><circle cx="225.8" cy="545.3" r="5.6" fill="#446289"/><circle cx="905.1" cy="234.1" r="5.6" fill="#461365"/><circle cx="967.1" cy="410.8" r="5.6" fill="#482273"/><circle cx="1015.5" cy="318.8" r="5.6" fill="#462c79"/><circle cx="287.1" cy="590.1" r="5.6" fill="#414386"/><circle cx="421.7" cy="354.2" r="5.6" fill="#472b79"/><circle cx="319.2" cy="603.4" r="5.6" fill="#425189"/><circle cx="281.7" cy="519.5" r="5.6" fill="#414487"/><circle cx="1057.2" cy="360.3" r="5.6" fill="#471f71"/><circle cx="623.6" cy="367.7" r="5.6" fill="#450b5e"/><circle cx="1014.9" cy="335.7" r="5.6" fill="#471d6f"/><circle cx="906.1" cy="396.2" r="5.6" fill="#471869"/><circle cx="492.0" cy="345.2" r="5.6" fill="#450659"/><circle cx="644.8" cy="292.1" r="5.6" fill="#45085b"/><circle cx="498.7" cy="316.3" r="5.6" fill="#450b5e"/><circle cx="385.8" cy="597.4" r="5.6" fill="#414a88"/><circle cx="540.6" cy="319.6" r="5.6" fill="#45075a"/><circle cx="664.1" cy="277.0" r="5.6" fill="#440456"/><circle cx="935.7" cy="241.6" r="5.6" fill="#461668"/><circle cx="1057.3" cy="337.9" r="5.6" fill="#471a6b"/><circle cx="816.0" cy="292.6" r="5.6" fill="#450a5d"/><circle cx="392.6" cy="625.9" r="5.6" fill="#456b89"/><circle cx="204.3" cy="493.4" r="5.6" fill="#435889"/><circle cx="993.0" cy="440.1" r="5.6" fill="#450759"/><circle cx="743.3" cy="320.4" r="5.6" fill="#450d5f"/><circle cx="1054.9" cy="589.2" r="5.6" fill="#462b79"/><circle cx="981.1" cy="235.9" r="5.6" fill="#472777"/><circle cx="467.2" cy="282.5" r="5.6" fill="#47196b"/><circle cx="498.1" cy="384.4" r="5.6" fill="#45337d"/><circle cx="292.7" cy="601.6" r="5.6" fill="#425389"/><circle cx="160.5" cy="496.4" r="5.6" fill="#423e84"/><circle cx="451.5" cy="424.4" r="5.6" fill="#471f71"/><circle cx="848.9" cy="200.3" r="5.6" fill="#460f62"/><circle cx="1008.4" cy="371.0" r="5.6" fill="#471c6e"/><circle cx="296.6" cy="449.6" r="5.6" fill="#45327d"/><circle cx="943.0" cy="186.0" r="5.6" fill="#450c5f"/><circle cx="880.8" cy="362.1" r="5.6" fill="#471d6e"/><circle cx="449.4" cy="378.3" r="5.6" fill="#472a79"/><circle cx="209.4" cy="458.0" r="5.6" fill="#424e88"/><circle cx="401.2" cy="338.2" r="5.6" fill="#461466"/><circle cx="317.6" cy="524.1" r="5.6" fill="#435d89"/><circle cx="695.9" cy="287.5" r="5.6" fill="#450b5e"/><circle cx="1004.9" cy="428.6" r="5.6" fill="#471769"/><circle cx="470.3" cy="353.8" r="5.6" fill="#460f61"/><circle cx="277.1" cy="584.4" r="5.6" fill="#487c89"/><circle cx="874.3" cy="272.9" r="5.6" fill="#450d5f"/><circle cx="1059.5" cy="324.4" r="5.6" fill="#460f61"/><circle cx="358.9" cy="488.9" r="5.6" fill="#425189"/><circle cx="1085.7" cy="537.8" r="5.6" fill="#472777"/><circle cx="484.2" cy="383.6" r="5.6" fill="#460f61"/><circle cx="986.8" cy="465.3" r="5.6" fill="#471d6f"/><circle cx="429.8" cy="368.3" r="5.6" fill="#482172"/><circle cx="979.8" cy="346.7" r="5.6" fill="#471d6e"/><circle cx="322.8" cy="456.6" r="5.6" fill="#414888"/><circle cx="800.3" cy="325.1" r="5.6" fill="#440456"/><circle cx="417.8" cy="384.1" r="5.6" fill="#482576"/><circle cx="635.3" cy="275.2" r="5.6" fill="#450d5f"/><circle cx="826.6" cy="321.9" r="5.6" fill="#461567"/><circle cx="549.7" cy="312.5" r="5.6" fill="#450c5e"/><circle cx="328.8" cy="581.9" r="5.6" fill="#435a89"/><circle cx="908.0" cy="318.5" r="5.6" fill="#461668"/><circle cx="935.4" cy="319.0" r="5.6" fill="#471d6e"/><circle cx="157.6" cy="588.4" r="5.6" fill="#414587"/><circle cx="386.4" cy="617.0" r="5.6" fill="#424f89"/><circle cx="945.7" cy="279.9" r="5.6" fill="#440154"/><circle cx="310.2" cy="454.3" r="5.6" fill="#435c89"/><circle cx="354.2" cy="597.6" r="5.6" fill="#456f89"/><circle cx="983.8" cy="351.8" r="5.6" fill="#482273"/><circle cx="457.2" cy="292.7" r="5.6" fill="#461365"/><circle cx="403.2" cy="483.2" r="5.6" fill="#424185"/><circle cx="745.2" cy="284.4" r="5.6" fill="#461567"/><circle cx="309.4" cy="462.2" r="5.6" fill="#433a81"/><circle cx="761.4" cy="278.2" r="5.6" fill="#45075a"/><circle cx="810.7" cy="380.4" r="5.6" fill="#461365"/><circle cx="713.8" cy="322.2" r="5.6" fill="#482576"/><circle cx="396.3" cy="433.2" r="5.6" fill="#461062"/><circle cx="990.1" cy="441.2" r="5.6" fill="#450e60"/><circle cx="264.7" cy="508.8" r="5.6" fill="#424c88"/><circle cx="934.9" cy="330.1" r="5.6" fill="#471a6c"/><circle cx="993.1" cy="268.3" r="5.6" fill="#472a79"/><circle cx="619.3" cy="284.7" r="5.6" fill="#461163"/><circle cx="203.3" cy="568.9" r="5.6" fill="#446389"/><circle cx="1078.4" cy="403.8" r="5.6" fill="#461668"/><circle cx="760.2" cy="297.0" r="5.6" fill="#450c5e"/><circle cx="631.4" cy="292.6" r="5.6" fill="#440457"/><circle cx="1069.2" cy="401.9" r="5.6" fill="#472978"/><circle cx="368.6" cy="462.9" r="5.6" fill="#424c88"/><circle cx="247.5" cy="570.7" r="5.6" fill="#425189"/><circle cx="393.4" cy="634.9" r="5.6" fill="#477a89"/><circle cx="237.0" cy="602.4" r="5.6" fill="#435b89"/><circle cx="878.7" cy="252.6" r="5.6" fill="#461365"/><circle cx="548.1" cy="349.1" r="5.6" fill="#440154"/><circle cx="891.7" cy="329.5" r="5.6" fill="#482273"/><circle cx="470.4" cy="367.8" r="5.6" fill="#443880"/><circle cx="1056.1" cy="585.4" r="5.6" fill="#461163"/><circle cx="169.7" cy="453.2" r="5.6" fill="#425089"/><circle cx="324.1" cy="475.7" r="5.6" fill="#435989"/><circle cx="1073.0" cy="420.5" r="5.6" fill="#462d7a"/><circle cx="841.8" cy="221.3" r="5.6" fill="#440154"/><circle cx="487.2" cy="286.4" r="5.6" fill="#440255"/><circle cx="1060.4" cy="334.4" r="5.6" fill="#482273"/><circle cx="1065.4" cy="485.2" r="5.6" fill="#482374"/><circle cx="645.8" cy="355.6" r="5.6" fill="#461264"/><circle cx="922.0" cy="411.2" r="5.6" fill="#461365"/><circle cx="586.4" cy="306.8" r="5.6" fill="#45075a"/><circle cx="540.3" cy="356.6" r="5.6" fill="#450b5d"/><circle cx="457.2" cy="410.6" r="5.6" fill="#433c82"/><circle cx="1014.6" cy="363.7" r="5.6" fill="#461062"/><circle cx="388.5" cy="369.3" r="5.6" fill="#471e70"/><circle cx="430.2" cy="369.6" r="5.6" fill="#482071"/><circle cx="1083.3" cy="518.2" r="5.6" fill="#443780"/><circle cx="832.2" cy="326.5" r="5.6" fill="#450b5e"/><circle cx="197.7" cy="581.7" r="5.6" fill="#443880"/><circle cx="1013.5" cy="355.2" r="5.6" fill="#471b6d"/><circle cx="285.6" cy="463.6" r="5.6" fill="#425089"/><circle cx="884.4" cy="294.8" r="5.6" fill="#47196b"/><circle cx="1070.3" cy="516.1" r="5.6" fill="#461062"/><circle cx="1067.0" cy="399.7" r="5.6" fill="#471a6c"/><circle cx="1063.3" cy="439.4" r="5.6" fill="#471869"/><circle cx="229.9" cy="543.7" r="5.6" fill="#446589"/><circle cx="935.7" cy="303.9" r="5.6" fill="#461163"/><circle cx="573.2" cy="358.7" r="5.6" fill="#461466"/><circle cx="466.9" cy="377.7" r="5.6" fill="#471f70"/><circle cx="464.6" cy="282.3" r="5.6" fill="#461567"/><circle cx="213.7" cy="477.1" r="5.6" fill="#45307c"/><circle cx="1017.3" cy="309.4" r="5.6" fill="#482172"/><circle cx="341.6" cy="610.0" r="5.6" fill="#435c89"/><circle cx="1059.4" cy="409.2" r="5.6" fill="#45327d"/><circle cx="461.1" cy="388.5" r="5.6" fill="#461365"/><circle cx="403.0" cy="449.4" r="5.6" fill="#44367f"/><circle cx="976.0" cy="465.9" r="5.6" fill="#482172"/><circle cx="965.5" cy="409.5" r="5.6" fill="#472978"/><circle cx="734.5" cy="315.0" r="5.6" fill="#450d5f"/><circle cx="494.9" cy="379.8" r="5.6" fill="#472777"/><circle cx="972.1" cy="325.8" r="5.6" fill="#482475"/><circle cx="358.2" cy="600.8" r="5.6" fill="#467289"/><circle cx="436.6" cy="364.1" r="5.6" fill="#461365"/><circle cx="478.8" cy="284.7" r="5.6" fill="#450b5d"/><circle cx="929.6" cy="191.4" r="5.6" fill="#450a5d"/><circle cx="1006.4" cy="319.5" r="5.6" fill="#45337d"/><circle cx="415.7" cy="502.5" r="5.6" fill="#423e84"/><circle cx="812.9" cy="365.5" r="5.6" fill="#461365"/><circle cx="757.8" cy="330.3" r="5.6" fill="#45075a"/><circle cx="442.9" cy="293.0" r="5.6" fill="#472a78"/><circle cx="676.3" cy="252.6" r="5.6" fill="#461466"/><circle cx="237.2" cy="595.2" r="5.6" fill="#456e89"/><circle cx="345.8" cy="627.4" r="5.6" fill="#424d88"/><circle cx="1002.6" cy="318.9" r="5.6" fill="#462f7b"/><circle cx="268.3" cy="615.7" r="5.6" fill="#446689"/><circle cx="153.7" cy="537.9" r="5.6" fill="#424f89"/><circle cx="219.4" cy="565.1" r="5.6" fill="#425389"/><circle cx="457.2" cy="387.7" r="5.6" fill="#45327d"/><circle cx="294.3" cy="543.2" r="5.6" fill="#456f89"/><circle cx="837.8" cy="303.6" r="5.6" fill="#45075a"/><circle cx="809.7" cy="254.1" r="5.6" fill="#461264"/><circle cx="749.3" cy="222.9" r="5.6" fill="#450e60"/><circle cx="428.1" cy="292.7" r="5.6" fill="#460f61"/><circle cx="916.8" cy="221.7" r="5.6" fill="#450b5e"/><circle cx="571.7" cy="314.0" r="5.6" fill="#450d60"/><circle cx="967.8" cy="314.9" r="5.6" fill="#44367f"/><circle cx="234.5" cy="493.3" r="5.6" fill="#44377f"/><circle cx="1073.7" cy="471.0" r="5.6" fill="#433b82"/><circle cx="816.5" cy="308.9" r="5.6" fill="#461365"/><circle cx="421.9" cy="300.6" r="5.6" fill="#471b6c"/><circle cx="709.5" cy="295.9" r="5.6" fill="#450d5f"/><circle cx="948.2" cy="276.6" r="5.6" fill="#462d7a"/><circle cx="334.1" cy="519.9" r="5.6" fill="#435d89"/><circle cx="806.7" cy="345.8" r="5.6" fill="#450c5e"/><circle cx="1080.9" cy="533.9" r="5.6" fill="#482273"/><circle cx="988.7" cy="317.8" r="5.6" fill="#471e6f"/><circle cx="976.4" cy="267.8" r="5.6" fill="#471a6b"/><circle cx="649.7" cy="274.5" r="5.6" fill="#461062"/><circle cx="425.1" cy="413.0" r="5.6" fill="#462e7b"/><circle cx="802.6" cy="339.8" r="5.6" fill="#450e60"/><circle cx="837.4" cy="280.5" r="5.6" fill="#461062"/><circle cx="928.4" cy="411.2" r="5.6" fill="#482576"/><circle cx="242.7" cy="535.5" r="5.6" fill="#456989"/><circle cx="621.1" cy="370.1" r="5.6" fill="#471769"/><circle cx="1014.2" cy="369.9" r="5.6" fill="#472777"/><circle cx="1074.1" cy="448.3" r="5.6" fill="#482676"/><circle cx="1050.3" cy="410.7" r="5.6" fill="#450b5d"/><circle cx="647.4" cy="266.3" r="5.6" fill="#450a5d"/><circle cx="758.1" cy="310.4" r="5.6" fill="#45085b"/><circle cx="240.2" cy="551.0" r="5.6" fill="#435789"/><circle cx="924.6" cy="410.1" r="5.6" fill="#45095b"/><circle cx="388.5" cy="502.1" r="5.6" fill="#44357e"/><circle cx="255.7" cy="583.1" r="5.6" fill="#425389"/><circle cx="310.8" cy="480.7" r="5.6" fill="#424f89"/><circle cx="768.5" cy="315.3" r="5.6" fill="#440457"/><circle cx="1055.1" cy="377.0" r="5.6" fill="#472877"/><circle cx="421.9" cy="411.4" r="5.6" fill="#424085"/><circle cx="944.5" cy="376.4" r="5.6" fill="#461567"/><circle cx="436.5" cy="403.4" r="5.6" fill="#472978"/><circle cx="537.9" cy="360.3" r="5.6" fill="#461466"/><circle cx="749.7" cy="353.4" r="5.6" fill="#450b5d"/><circle cx="985.6" cy="464.6" r="5.6" fill="#471b6c"/><circle cx="1001.0" cy="458.4" r="5.6" fill="#47196b"/><circle cx="410.3" cy="334.7" r="5.6" fill="#461264"/><circle cx="929.9" cy="335.9" r="5.6" fill="#461163"/><circle cx="831.6" cy="263.4" r="5.6" fill="#440457"/><circle cx="319.3" cy="597.9" r="5.6" fill="#446289"/><circle cx="954.0" cy="358.9" r="5.6" fill="#471f71"/><circle cx="435.1" cy="421.8" r="5.6" fill="#45307c"/><circle cx="283.0" cy="539.6" r="5.6" fill="#425489"/><circle cx="818.6" cy="223.0" r="5.6" fill="#450b5d"/><circle cx="761.9" cy="267.0" r="5.6" fill="#440154"/><circle cx="975.2" cy="370.1" r="5.6" fill="#482273"/><circle cx="383.0" cy="449.1" r="5.6" fill="#45337d"/><circle cx="974.8" cy="305.2" r="5.6" fill="#482676"/><circle cx="361.2" cy="472.0" r="5.6" fill="#456c89"/><circle cx="445.4" cy="391.1" r="5.6" fill="#44357e"/><circle cx="901.9" cy="395.1" r="5.6" fill="#461668"/><circle cx="772.9" cy="245.9" r="5.6" fill="#440255"/><circle cx="1015.9" cy="427.5" r="5.6" fill="#460e61"/><circle cx="877.4" cy="289.2" r="5.6" fill="#47196a"/><circle cx="1051.9" cy="383.8" r="5.6" fill="#471f70"/><circle cx="968.8" cy="397.1" r="5.6" fill="#461365"/><circle cx="869.4" cy="267.9" r="5.6" fill="#471b6d"/><circle cx="722.5" cy="282.8" r="5.6" fill="#450659"/><circle cx="200.2" cy="552.4" r="5.6" fill="#414b88"/><circle cx="274.4" cy="628.2" r="5.6" fill="#456789"/><circle cx="565.9" cy="361.5" r="5.6" fill="#45095c"/><circle cx="459.2" cy="376.8" r="5.6" fill="#471f70"/><circle cx="1008.6" cy="390.1" r="5.6" fill="#47186a"/><circle cx="891.2" cy="381.4" r="5.6" fill="#471769"/><circle cx="685.9" cy="250.1" r="5.6" fill="#450e60"/><circle cx="403.4" cy="572.5" r="5.6" fill="#414487"/><circle cx="474.4" cy="288.1" r="5.6" fill="#460f61"/><circle cx="1048.3" cy="472.9" r="5.6" fill="#482173"/><circle cx="593.2" cy="354.2" r="5.6" fill="#450b5e"/><circle cx="925.7" cy="203.0" r="5.6" fill="#471769"/><circle cx="488.8" cy="285.0" r="5.6" fill="#440356"/><circle cx="1055.8" cy="437.9" r="5.6" fill="#482375"/><circle cx="233.5" cy="600.6" r="5.6" fill="#425189"/><circle cx="213.6" cy="627.1" r="5.6" fill="#414787"/><circle cx="832.2" cy="319.8" r="5.6" fill="#461264"/><circle cx="329.0" cy="491.2" r="5.6" fill="#44347e"/><circle cx="481.0" cy="317.7" r="5.6" fill="#461668"/><circle cx="583.0" cy="352.1" r="5.6" fill="#461466"/><circle cx="393.6" cy="428.2" r="5.6" fill="#461668"/><circle cx="332.1" cy="586.5" r="5.6" fill="#435d89"/><circle cx="321.7" cy="522.6" r="5.6" fill="#423e83"/><circle cx="217.0" cy="601.0" r="5.6" fill="#456d89"/><circle cx="683.2" cy="346.3" r="5.6" fill="#45075a"/><circle cx="878.0" cy="353.7" r="5.6" fill="#471d6f"/><circle cx="509.7" cy="318.3" r="5.6" fill="#461365"/><circle cx="193.9" cy="446.4" r="5.6" fill="#414687"/><circle cx="814.3" cy="364.9" r="5.6" fill="#450e60"/><circle cx="807.5" cy="350.4" r="5.6" fill="#461567"/><circle cx="984.4" cy="466.9" r="5.6" fill="#482374"/><circle cx="142.9" cy="536.3" r="5.6" fill="#414387"/><circle cx="893.2" cy="387.6" r="5.6" fill="#47196b"/><circle cx="936.9" cy="325.3" r="5.6" fill="#450c5f"/><circle cx="805.8" cy="341.4" r="5.6" fill="#460f61"/><circle cx="675.9" cy="338.8" r="5.6" fill="#461768"/><circle cx="836.1" cy="283.6" r="5.6" fill="#461264"/><circle cx="408.5" cy="431.7" r="5.6" fill="#471a6c"/><circle cx="1000.4" cy="335.8" r="5.6" fill="#44347e"/><circle cx="708.3" cy="304.9" r="5.6" fill="#471f71"/><circle cx="265.7" cy="542.4" r="5.6" fill="#425289"/><circle cx="457.9" cy="327.0" r="5.6" fill="#440356"/><circle cx="145.8" cy="489.0" r="5.6" fill="#424185"/><circle cx="972.8" cy="452.6" r="5.6" fill="#472877"/><circle cx="862.3" cy="236.9" r="5.6" fill="#45075a"/><circle cx="329.7" cy="514.2" r="5.6" fill="#414587"/><circle cx="1002.9" cy="441.0" r="5.6" fill="#482071"/><circle cx="689.8" cy="325.5" r="5.6" fill="#440255"/><circle cx="761.3" cy="262.8" r="5.6" fill="#440456"/><circle cx="834.3" cy="222.1" r="5.6" fill="#45075a"/><circle cx="252.2" cy="611.4" r="5.6" fill="#477989"/><circle cx="321.2" cy="463.6" r="5.6" fill="#424d88"/><circle cx="206.5" cy="530.4" r="5.6" fill="#45317c"/><circle cx="941.9" cy="298.1" r="5.6" fill="#471c6e"/><circle cx="224.3" cy="470.7" r="5.6" fill="#433c83"/><circle cx="510.1" cy="328.8" r="5.6" fill="#450e60"/><circle cx="868.5" cy="289.3" r="5.6" fill="#461365"/><circle cx="1011.4" cy="440.8" r="5.6" fill="#461668"/><circle cx="935.0" cy="287.6" r="5.6" fill="#461668"/><circle cx="1007.3" cy="267.2" r="5.6" fill="#462c7a"/><circle cx="819.3" cy="288.2" r="5.6" fill="#47196b"/><circle cx="421.3" cy="396.0" r="5.6" fill="#44367f"/><circle cx="877.7" cy="322.2" r="5.6" fill="#461062"/><circle cx="713.9" cy="277.8" r="5.6" fill="#440154"/><circle cx="289.1" cy="636.1" r="5.6" fill="#488089"/><circle cx="382.8" cy="495.7" r="5.6" fill="#424c88"/><circle cx="1084.9" cy="468.9" r="5.6" fill="#471769"/><circle cx="615.6" cy="284.0" r="5.6" fill="#461264"/><circle cx="769.8" cy="322.1" r="5.6" fill="#45095c"/><circle cx="680.8" cy="304.5" r="5.6" fill="#440456"/><circle cx="459.7" cy="412.8" r="5.6" fill="#472a78"/><circle cx="243.5" cy="483.7" r="5.6" fill="#45327d"/><circle cx="392.2" cy="620.2" r="5.6" fill="#477989"/><circle cx="829.3" cy="255.5" r="5.6" fill="#450a5d"/><circle cx="479.1" cy="311.7" r="5.6" fill="#471e6f"/><circle cx="382.5" cy="607.4" r="5.6" fill="#424f89"/><circle cx="656.2" cy="263.0" r="5.6" fill="#450d5f"/><circle cx="270.4" cy="583.9" r="5.6" fill="#446389"/><circle cx="292.0" cy="449.2" r="5.6" fill="#471d6e"/><circle cx="497.4" cy="357.1" r="5.6" fill="#45337d"/><circle cx="332.5" cy="514.2" r="5.6" fill="#435789"/><circle cx="494.2" cy="390.6" r="5.6" fill="#45337d"/><circle cx="652.8" cy="352.3" r="5.6" fill="#471a6c"/><circle cx="415.1" cy="369.6" r="5.6" fill="#462b79"/><circle cx="872.6" cy="390.3" r="5.6" fill="#461163"/><circle cx="339.7" cy="503.0" r="5.6" fill="#424f89"/><circle cx="233.3" cy="524.8" r="5.6" fill="#414888"/><circle cx="348.2" cy="488.9" r="5.6" fill="#443780"/><circle cx="912.3" cy="397.6" r="5.6" fill="#450659"/><circle cx="422.9" cy="346.4" r="5.6" fill="#45317c"/><circle cx="220.9" cy="515.0" r="5.6" fill="#446389"/><circle cx="724.1" cy="215.1" r="5.6" fill="#461466"/><circle cx="392.0" cy="413.2" r="5.6" fill="#461466"/><circle cx="1015.8" cy="337.2" r="5.6" fill="#482575"/><circle cx="966.5" cy="403.9" r="5.6" fill="#461466"/><circle cx="439.5" cy="377.0" r="5.6" fill="#450e60"/><circle cx="169.4" cy="508.6" r="5.6" fill="#433b82"/><circle cx="223.4" cy="493.1" r="5.6" fill="#425289"/><circle cx="329.4" cy="608.8" r="5.6" fill="#446389"/><circle cx="399.4" cy="355.1" r="5.6" fill="#461769"/><circle cx="450.8" cy="324.7" r="5.6" fill="#461567"/><circle cx="1010.3" cy="338.1" r="5.6" fill="#44347e"/><circle cx="258.2" cy="584.8" r="5.6" fill="#424f89"/><circle cx="161.3" cy="477.8" r="5.6" fill="#424e88"/><circle cx="280.2" cy="605.2" r="5.6" fill="#425689"/><circle cx="442.8" cy="431.7" r="5.6" fill="#433a81"/><circle cx="280.8" cy="625.7" r="5.6" fill="#435889"/><circle cx="507.0" cy="360.0" r="5.6" fill="#482374"/><circle cx="962.3" cy="422.7" r="5.6" fill="#450e60"/><circle cx="437.7" cy="310.0" r="5.6" fill="#461365"/><circle cx="230.0" cy="591.8" r="5.6" fill="#425589"/><circle cx="157.4" cy="472.9" r="5.6" fill="#425489"/><circle cx="414.6" cy="447.2" r="5.6" fill="#414787"/><circle cx="879.1" cy="246.7" r="5.6" fill="#471b6d"/><circle cx="213.4" cy="633.3" r="5.6" fill="#487e89"/><circle cx="841.7" cy="203.9" r="5.6" fill="#440154"/><circle cx="322.8" cy="619.6" r="5.6" fill="#446489"/><circle cx="748.7" cy="339.3" r="5.6" fill="#450b5d"/><circle cx="245.9" cy="612.9" r="5.6" fill="#456d89"/><circle cx="916.0" cy="162.3" r="5.6" fill="#450c5e"/><circle cx="164.9" cy="493.9" r="5.6" fill="#414387"/><circle cx="988.6" cy="462.2" r="5.6" fill="#471d6e"/><circle cx="769.3" cy="329.0" r="5.6" fill="#461465"/><circle cx="264.4" cy="590.3" r="5.6" fill="#414a88"/><circle cx="921.1" cy="396.8" r="5.6" fill="#461668"/><circle cx="918.8" cy="164.2" r="5.6" fill="#461264"/><circle cx="594.9" cy="362.7" r="5.6" fill="#450558"/><circle cx="750.3" cy="244.4" r="5.6" fill="#45085b"/><circle cx="593.3" cy="287.0" r="5.6" fill="#461768"/><circle cx="216.7" cy="548.7" r="5.6" fill="#433d83"/><circle cx="550.6" cy="330.1" r="5.6" fill="#450659"/><circle cx="390.9" cy="478.4" r="5.6" fill="#462e7b"/><circle cx="925.9" cy="192.2" r="5.6" fill="#471e6f"/><circle cx="210.8" cy="581.3" r="5.6" fill="#456a89"/><circle cx="413.7" cy="567.0" r="5.6" fill="#423f84"/><circle cx="979.2" cy="463.3" r="5.6" fill="#471d6e"/><circle cx="598.1" cy="364.6" r="5.6" fill="#450e60"/><circle cx="918.6" cy="177.6" r="5.6" fill="#45075a"/><circle cx="882.2" cy="396.5" r="5.6" fill="#461062"/><circle cx="312.1" cy="630.7" r="5.6" fill="#445e89"/><circle cx="162.7" cy="575.8" r="5.6" fill="#424085"/><circle cx="1006.3" cy="392.8" r="5.6" fill="#482374"/><circle cx="325.0" cy="468.5" r="5.6" fill="#433981"/><circle cx="974.6" cy="331.1" r="5.6" fill="#45327d"/><circle cx="948.8" cy="259.9" r="5.6" fill="#471f70"/><circle cx="869.4" cy="319.4" r="5.6" fill="#450b5d"/><circle cx="1054.2" cy="417.6" r="5.6" fill="#482071"/><circle cx="412.1" cy="532.5" r="5.6" fill="#414787"/><circle cx="352.1" cy="447.1" r="5.6" fill="#435889"/><circle cx="453.9" cy="367.9" r="5.6" fill="#440154"/><circle cx="278.3" cy="553.2" r="5.6" fill="#446589"/><circle cx="593.7" cy="359.6" r="5.6" fill="#440154"/><circle cx="950.7" cy="290.1" r="5.6" fill="#45085b"/><circle cx="740.9" cy="202.2" r="5.6" fill="#461264"/><circle cx="1067.5" cy="499.1" r="5.6" fill="#482172"/><circle cx="946.7" cy="230.7" r="5.6" fill="#482071"/><circle cx="208.8" cy="556.7" r="5.6" fill="#425089"/><circle cx="313.1" cy="476.1" r="5.6" fill="#435a89"/><circle cx="921.0" cy="407.0" r="5.6" fill="#472777"/><circle cx="421.6" cy="431.8" r="5.6" fill="#461365"/><circle cx="414.6" cy="387.4" r="5.6" fill="#472071"/><circle cx="980.1" cy="374.1" r="5.6" fill="#45317c"/><circle cx="511.2" cy="337.1" r="5.6" fill="#440558"/><circle cx="873.1" cy="304.5" r="5.6" fill="#461567"/><circle cx="263.6" cy="584.3" r="5.6" fill="#435b89"/><circle cx="404.4" cy="501.6" r="5.6" fill="#44367f"/><circle cx="316.7" cy="573.1" r="5.6" fill="#467289"/><circle cx="177.3" cy="458.2" r="5.6" fill="#435889"/><circle cx="391.4" cy="637.3" r="5.6" fill="#425389"/><circle cx="905.0" cy="191.2" r="5.6" fill="#461466"/><circle cx="546.1" cy="363.1" r="5.6" fill="#461062"/><circle cx="427.9" cy="370.2" r="5.6" fill="#45337e"/><circle cx="168.3" cy="516.6" r="5.6" fill="#435689"/><circle cx="819.4" cy="327.7" r="5.6" fill="#460f61"/><circle cx="1008.8" cy="364.4" r="5.6" fill="#45307c"/><circle cx="414.6" cy="370.3" r="5.6" fill="#461365"/><circle cx="637.1" cy="292.1" r="5.6" fill="#45095b"/><circle cx="388.4" cy="567.8" r="5.6" fill="#446489"/><circle cx="806.5" cy="312.6" r="5.6" fill="#461566"/><circle cx="974.4" cy="354.3" r="5.6" fill="#462c79"/><circle cx="402.4" cy="596.7" r="5.6" fill="#456889"/><circle cx="833.7" cy="203.1" r="5.6" fill="#461365"/><circle cx="816.1" cy="350.2" r="5.6" fill="#461062"/><circle cx="157.7" cy="459.1" r="5.6" fill="#414787"/><circle cx="188.8" cy="466.1" r="5.6" fill="#433981"/><circle cx="695.5" cy="275.4" r="5.6" fill="#461264"/><circle cx="929.3" cy="210.7" r="5.6" fill="#45075a"/><circle cx="840.3" cy="197.4" r="5.6" fill="#450a5c"/><circle cx="436.2" cy="381.6" r="5.6" fill="#47196b"/><circle cx="1077.4" cy="505.1" r="5.6" fill="#45327d"/><circle cx="985.1" cy="274.9" r="5.6" fill="#472877"/><circle cx="952.1" cy="260.8" r="5.6" fill="#471f71"/><circle cx="920.5" cy="171.4" r="5.6" fill="#461264"/><circle cx="509.4" cy="321.5" r="5.6" fill="#450a5d"/><circle cx="274.7" cy="561.4" r="5.6" fill="#435989"/><circle cx="1077.1" cy="459.8" r="5.6" fill="#462c7a"/><circle cx="770.7" cy="261.6" r="5.6" fill="#450c5e"/><circle cx="975.7" cy="352.9" r="5.6" fill="#471d6e"/><circle cx="203.7" cy="594.5" r="5.6" fill="#467389"/><circle cx="1008.4" cy="259.8" r="5.6" fill="#461466"/><circle cx="397.8" cy="544.0" r="5.6" fill="#414487"/><circle cx="490.8" cy="306.8" r="5.6" fill="#482173"/><circle cx="811.8" cy="340.6" r="5.6" fill="#450b5e"/><circle cx="757.3" cy="369.8" r="5.6" fill="#461163"/><circle cx="431.2" cy="356.1" r="5.6" fill="#471c6e"/><circle cx="162.1" cy="533.4" r="5.6" fill="#414587"/><circle cx="417.3" cy="397.6" r="5.6" fill="#471b6d"/><circle cx="416.6" cy="438.4" r="5.6" fill="#482374"/><circle cx="1067.9" cy="373.0" r="5.6" fill="#462e7b"/><circle cx="147.6" cy="486.1" r="5.6" fill="#414387"/><circle cx="745.7" cy="219.7" r="5.6" fill="#460f61"/><circle cx="408.6" cy="491.1" r="5.6" fill="#414b88"/><circle cx="205.6" cy="546.3" r="5.6" fill="#424185"/><circle cx="844.2" cy="344.9" r="5.6" fill="#461264"/><circle cx="455.7" cy="290.1" r="5.6" fill="#45085a"/><circle cx="980.9" cy="246.2" r="5.6" fill="#472777"/><circle cx="970.8" cy="248.4" r="5.6" fill="#45317c"/><circle cx="806.8" cy="324.4" r="5.6" fill="#440154"/><circle cx="822.7" cy="333.7" r="5.6" fill="#47196b"/><circle cx="429.6" cy="367.0" r="5.6" fill="#471e70"/><circle cx="408.3" cy="554.6" r="5.6" fill="#446789"/><circle cx="244.5" cy="500.4" r="5.6" fill="#425389"/><circle cx="1069.5" cy="448.9" r="5.6" fill="#45347e"/><circle cx="1074.3" cy="428.2" r="5.6" fill="#45317c"/><circle cx="762.6" cy="264.3" r="5.6" fill="#461466"/><circle cx="234.8" cy="486.4" r="5.6" fill="#462d7a"/><circle cx="804.6" cy="299.3" r="5.6" fill="#461668"/><circle cx="194.0" cy="579.7" r="5.6" fill="#477b89"/><circle cx="1079.7" cy="397.5" r="5.6" fill="#461768"/><circle cx="928.4" cy="376.9" r="5.6" fill="#440457"/><circle cx="982.3" cy="275.5" r="5.6" fill="#472877"/><circle cx="443.7" cy="313.6" r="5.6" fill="#461163"/><circle cx="205.1" cy="604.7" r="5.6" fill="#445f89"/><circle cx="357.1" cy="606.7" r="5.6" fill="#477b89"/><circle cx="416.5" cy="401.3" r="5.6" fill="#462d7a"/><circle cx="347.3" cy="459.7" r="5.6" fill="#45327d"/><circle cx="290.7" cy="537.7" r="5.6" fill="#425689"/><circle cx="173.7" cy="454.7" r="5.6" fill="#45307c"/><circle cx="937.1" cy="384.0" r="5.6" fill="#45095b"/><circle cx="365.3" cy="605.1" r="5.6" fill="#467389"/><circle cx="470.7" cy="302.7" r="5.6" fill="#460f61"/><circle cx="809.7" cy="320.7" r="5.6" fill="#45095b"/><circle cx="249.6" cy="555.8" r="5.6" fill="#446289"/><circle cx="267.2" cy="590.0" r="5.6" fill="#435789"/><circle cx="403.3" cy="621.8" r="5.6" fill="#425389"/><circle cx="468.1" cy="376.8" r="5.6" fill="#45347e"/><circle cx="555.7" cy="317.7" r="5.6" fill="#461264"/><circle cx="510.1" cy="314.8" r="5.6" fill="#450b5d"/><circle cx="893.3" cy="221.5" r="5.6" fill="#450c5e"/><circle cx="331.8" cy="499.8" r="5.6" fill="#425489"/><circle cx="165.1" cy="484.3" r="5.6" fill="#425589"/><circle cx="939.3" cy="358.1" r="5.6" fill="#471869"/><circle cx="873.3" cy="387.5" r="5.6" fill="#471a6c"/><circle cx="456.6" cy="413.1" r="5.6" fill="#472877"/><circle cx="238.1" cy="498.4" r="5.6" fill="#472b79"/><circle cx="335.3" cy="583.1" r="5.6" fill="#446089"/><circle cx="758.9" cy="274.8" r="5.6" fill="#461062"/><circle cx="981.9" cy="258.8" r="5.6" fill="#462c79"/><circle cx="708.1" cy="286.2" r="5.6" fill="#471b6c"/><circle cx="746.9" cy="316.6" r="5.6" fill="#461264"/><circle cx="954.3" cy="254.7" r="5.6" fill="#471769"/><circle cx="655.3" cy="267.0" r="5.6" fill="#450b5e"/><circle cx="938.2" cy="233.9" r="5.6" fill="#461163"/><circle cx="668.7" cy="257.9" r="5.6" fill="#45085a"/><circle cx="867.4" cy="276.3" r="5.6" fill="#450659"/><circle cx="843.6" cy="188.3" r="5.6" fill="#45085b"/><circle cx="517.5" cy="339.7" r="5.6" fill="#462e7b"/><circle cx="983.4" cy="352.3" r="5.6" fill="#472978"/><circle cx="939.2" cy="314.0" r="5.6" fill="#471d6e"/><circle cx="450.8" cy="288.2" r="5.6" fill="#461062"/><circle cx="947.6" cy="256.3" r="5.6" fill="#471a6c"/><circle cx="260.5" cy="525.2" r="5.6" fill="#435c89"/><circle cx="992.1" cy="386.9" r="5.6" fill="#462d7a"/><circle cx="1059.9" cy="536.6" r="5.6" fill="#461667"/><circle cx="311.5" cy="469.0" r="5.6" fill="#443780"/><circle cx="769.5" cy="334.1" r="5.6" fill="#461365"/><circle cx="455.0" cy="370.2" r="5.6" fill="#472877"/><circle cx="885.6" cy="208.4" r="5.6" fill="#461163"/><circle cx="279.9" cy="592.5" r="5.6" fill="#498489"/><circle cx="948.1" cy="309.9" r="5.6" fill="#450b5d"/><circle cx="545.7" cy="317.0" r="5.6" fill="#461567"/><circle cx="587.3" cy="355.2" r="5.6" fill="#461264"/><circle cx="1002.1" cy="404.5" r="5.6" fill="#45317c"/><circle cx="1009.8" cy="316.1" r="5.6" fill="#482172"/><circle cx="340.0" cy="510.9" r="5.6" fill="#425189"/><circle cx="837.7" cy="252.2" r="5.6" fill="#450d60"/><circle cx="557.2" cy="347.4" r="5.6" fill="#450c5e"/><circle cx="1059.1" cy="438.4" r="5.6" fill="#45347e"/><circle cx="757.2" cy="328.2" r="5.6" fill="#450d5f"/><circle cx="197.0" cy="500.1" r="5.6" fill="#425089"/><circle cx="386.0" cy="565.3" r="5.6" fill="#425389"/><circle cx="1010.5" cy="289.3" r="5.6" fill="#482576"/><circle cx="801.6" cy="311.6" r="5.6" fill="#482071"/><circle cx="726.0" cy="222.5" r="5.6" fill="#450c5f"/><circle cx="824.1" cy="193.3" r="5.6" fill="#450b5e"/><circle cx="878.7" cy="273.0" r="5.6" fill="#471d6e"/><circle cx="346.0" cy="475.2" r="5.6" fill="#414a88"/><circle cx="617.4" cy="302.0" r="5.6" fill="#45085b"/><circle cx="441.4" cy="436.7" r="5.6" fill="#433c82"/><circle cx="430.5" cy="399.7" r="5.6" fill="#450659"/><circle cx="260.3" cy="564.9" r="5.6" fill="#424f89"/><circle cx="1078.5" cy="466.3" r="5.6" fill="#471769"/><circle cx="983.5" cy="312.6" r="5.6" fill="#443880"/><circle cx="427.3" cy="323.5" r="5.6" fill="#460e60"/><circle cx="1061.2" cy="487.9" r="5.6" fill="#45317c"/><circle cx="717.2" cy="350.0" r="5.6" fill="#45085b"/><circle cx="398.3" cy="502.4" r="5.6" fill="#443780"/><circle cx="473.3" cy="310.6" r="5.6" fill="#450d5f"/><circle cx="1014.1" cy="346.1" r="5.6" fill="#44357f"/><circle cx="832.6" cy="225.3" r="5.6" fill="#450b5d"/><circle cx="917.0" cy="180.4" r="5.6" fill="#461264"/><circle cx="567.8" cy="304.7" r="5.6" fill="#440255"/><circle cx="402.0" cy="345.8" r="5.6" fill="#471c6d"/><circle cx="542.3" cy="349.4" r="5.6" fill="#450b5e"/><circle cx="581.8" cy="308.2" r="5.6" fill="#461163"/><circle cx="991.2" cy="292.1" r="5.6" fill="#471f70"/><circle cx="243.7" cy="542.3" r="5.6" fill="#446189"/><circle cx="419.9" cy="360.1" r="5.6" fill="#472a78"/><circle cx="801.5" cy="337.3" r="5.6" fill="#450d5f"/><circle cx="758.3" cy="343.8" r="5.6" fill="#461163"/><circle cx="836.8" cy="255.9" r="5.6" fill="#461365"/><circle cx="874.6" cy="288.5" r="5.6" fill="#450e60"/><circle cx="866.0" cy="221.3" r="5.6" fill="#450b5d"/><circle cx="164.5" cy="490.7" r="5.6" fill="#435889"/><circle cx="612.4" cy="288.5" r="5.6" fill="#461264"/><circle cx="975.2" cy="265.5" r="5.6" fill="#47186a"/><circle cx="220.7" cy="638.1" r="5.6" fill="#446389"/><circle cx="488.9" cy="337.0" r="5.6" fill="#482273"/><circle cx="874.4" cy="387.1" r="5.6" fill="#450a5d"/><circle cx="360.1" cy="461.8" r="5.6" fill="#472a79"/><circle cx="415.0" cy="410.8" r="5.6" fill="#45095c"/><circle cx="355.6" cy="502.6" r="5.6" fill="#423e84"/><circle cx="929.5" cy="175.7" r="5.6" fill="#450d5f"/><circle cx="740.3" cy="226.2" r="5.6" fill="#45085b"/><circle cx="402.9" cy="542.0" r="5.6" fill="#414888"/><circle cx="162.8" cy="529.1" r="5.6" fill="#423e84"/><circle cx="1073.1" cy="429.8" r="5.6" fill="#482576"/><circle cx="1013.4" cy="349.6" r="5.6" fill="#482071"/><circle cx="481.9" cy="312.1" r="5.6" fill="#450b5d"/><circle cx="225.2" cy="618.0" r="5.6" fill="#446689"/><circle cx="982.6" cy="389.0" r="5.6" fill="#482676"/><circle cx="922.7" cy="367.4" r="5.6" fill="#461264"/><circle cx="345.3" cy="499.5" r="5.6" fill="#471a6c"/><circle cx="480.5" cy="383.9" r="5.6" fill="#482576"/><circle cx="217.6" cy="469.8" r="5.6" fill="#433c82"/><circle cx="946.5" cy="396.4" r="5.6" fill="#471e6f"/><circle cx="441.8" cy="421.6" r="5.6" fill="#471e6f"/><circle cx="978.3" cy="281.8" r="5.6" fill="#472777"/><circle cx="972.9" cy="318.7" r="5.6" fill="#472a78"/><circle cx="231.0" cy="455.3" r="5.6" fill="#462f7b"/><circle cx="804.7" cy="345.4" r="5.6" fill="#450558"/><circle cx="814.6" cy="281.2" r="5.6" fill="#461264"/><circle cx="169.9" cy="511.0" r="5.6" fill="#424f89"/><circle cx="816.1" cy="346.5" r="5.6" fill="#461567"/><circle cx="392.1" cy="576.9" r="5.6" fill="#414787"/><circle cx="402.5" cy="540.6" r="5.6" fill="#443880"/><circle cx="411.3" cy="521.4" r="5.6" fill="#414787"/><circle cx="973.3" cy="437.0" r="5.6" fill="#461567"/><circle cx="525.4" cy="345.1" r="5.6" fill="#440154"/><circle cx="443.2" cy="302.3" r="5.6" fill="#471e6f"/><circle cx="471.6" cy="335.2" r="5.6" fill="#450c5e"/><circle cx="222.7" cy="502.8" r="5.6" fill="#482576"/><circle cx="421.2" cy="408.5" r="5.6" fill="#462d7a"/><circle cx="166.2" cy="547.2" r="5.6" fill="#433a81"/><circle cx="1005.5" cy="384.8" r="5.6" fill="#471f70"/><circle cx="246.7" cy="548.8" r="5.6" fill="#414286"/><circle cx="267.8" cy="495.8" r="5.6" fill="#424c88"/><circle cx="871.0" cy="224.9" r="5.6" fill="#450558"/><circle cx="833.2" cy="258.2" r="5.6" fill="#47196a"/><circle cx="170.0" cy="510.6" r="5.6" fill="#423f84"/><circle cx="166.4" cy="559.9" r="5.6" fill="#414988"/><circle cx="575.9" cy="296.2" r="5.6" fill="#461062"/><circle cx="838.5" cy="192.5" r="5.6" fill="#461668"/><circle cx="1072.4" cy="428.9" r="5.6" fill="#45307c"/><circle cx="155.3" cy="533.0" r="5.6" fill="#425389"/><circle cx="497.6" cy="367.6" r="5.6" fill="#450659"/><circle cx="692.6" cy="271.0" r="5.6" fill="#440255"/><circle cx="997.1" cy="470.6" r="5.6" fill="#47186a"/><circle cx="194.1" cy="579.6" r="5.6" fill="#456a89"/><circle cx="391.8" cy="342.0" r="5.6" fill="#414888"/><circle cx="932.8" cy="253.1" r="5.6" fill="#460f62"/><circle cx="974.4" cy="391.9" r="5.6" fill="#472877"/><circle cx="313.5" cy="597.8" r="5.6" fill="#425289"/><circle cx="340.6" cy="441.2" r="5.6" fill="#424185"/><circle cx="501.0" cy="300.5" r="5.6" fill="#45075a"/><circle cx="1008.5" cy="319.4" r="5.6" fill="#47186a"/><circle cx="248.1" cy="525.5" r="5.6" fill="#467189"/><circle cx="944.4" cy="298.5" r="5.6" fill="#461163"/><circle cx="913.8" cy="392.0" r="5.6" fill="#471d6f"/><circle cx="1013.9" cy="418.6" r="5.6" fill="#44367f"/><circle cx="391.0" cy="475.1" r="5.6" fill="#472a78"/><circle cx="1056.2" cy="332.9" r="5.6" fill="#472776"/><circle cx="712.5" cy="354.5" r="5.6" fill="#461062"/><circle cx="983.1" cy="364.8" r="5.6" fill="#462c7a"/><circle cx="223.9" cy="626.6" r="5.6" fill="#456889"/><circle cx="349.7" cy="630.6" r="5.6" fill="#425289"/><circle cx="805.4" cy="268.8" r="5.6" fill="#471769"/><circle cx="740.9" cy="236.1" r="5.6" fill="#450a5c"/><circle cx="983.8" cy="319.9" r="5.6" fill="#482273"/><circle cx="447.5" cy="422.2" r="5.6" fill="#461667"/><circle cx="395.1" cy="464.1" r="5.6" fill="#424d88"/><circle cx="826.3" cy="209.5" r="5.6" fill="#45075a"/><circle cx="937.5" cy="243.2" r="5.6" fill="#461466"/><circle cx="895.6" cy="399.5" r="5.6" fill="#471f71"/><circle cx="846.6" cy="271.1" r="5.6" fill="#461063"/><circle cx="196.1" cy="611.7" r="5.6" fill="#445e89"/><circle cx="994.6" cy="320.0" r="5.6" fill="#471a6b"/><circle cx="399.4" cy="379.3" r="5.6" fill="#45095c"/><circle cx="997.5" cy="325.0" r="5.6" fill="#471e70"/><circle cx="1074.7" cy="430.1" r="5.6" fill="#461769"/><circle cx="898.7" cy="241.6" r="5.6" fill="#461163"/><circle cx="1070.6" cy="493.5" r="5.6" fill="#471f70"/><circle cx="634.3" cy="302.1" r="5.6" fill="#461466"/><circle cx="461.8" cy="417.2" r="5.6" fill="#424185"/><circle cx="333.1" cy="478.1" r="5.6" fill="#435b89"/><circle cx="1046.4" cy="408.4" r="5.6" fill="#471f70"/><circle cx="486.0" cy="351.6" r="5.6" fill="#461567"/><circle cx="816.1" cy="284.1" r="5.6" fill="#47196b"/><circle cx="678.1" cy="347.0" r="5.6" fill="#450b5d"/><circle cx="447.0" cy="386.8" r="5.6" fill="#472a78"/><circle cx="485.1" cy="354.7" r="5.6" fill="#440154"/><circle cx="233.0" cy="539.2" r="5.6" fill="#425089"/><circle cx="1067.7" cy="541.2" r="5.6" fill="#414687"/><circle cx="210.6" cy="611.2" r="5.6" fill="#457089"/><circle cx="329.8" cy="551.0" r="5.6" fill="#425689"/><circle cx="1075.4" cy="379.9" r="5.6" fill="#461365"/><circle cx="237.5" cy="620.7" r="5.6" fill="#446389"/><circle cx="469.0" cy="329.4" r="5.6" fill="#461567"/><circle cx="351.9" cy="459.9" r="5.6" fill="#424185"/><circle cx="587.5" cy="360.4" r="5.6" fill="#450b5e"/><circle cx="286.2" cy="617.1" r="5.6" fill="#456a89"/><circle cx="643.1" cy="271.2" r="5.6" fill="#47196a"/><circle cx="168.9" cy="557.7" r="5.6" fill="#435b89"/><circle cx="1077.0" cy="484.7" r="5.6" fill="#450b5d"/><circle cx="392.8" cy="542.5" r="5.6" fill="#414587"/><circle cx="169.6" cy="515.2" r="5.6" fill="#424c88"/><circle cx="626.5" cy="352.9" r="5.6" fill="#450b5d"/><circle cx="222.9" cy="523.1" r="5.6" fill="#425389"/><circle cx="905.4" cy="185.9" r="5.6" fill="#461466"/><circle cx="272.3" cy="623.5" r="5.6" fill="#425189"/><circle cx="994.4" cy="369.9" r="5.6" fill="#472777"/><circle cx="927.5" cy="218.4" r="5.6" fill="#440154"/><circle cx="589.6" cy="353.0" r="5.6" fill="#450b5d"/><circle cx="191.2" cy="460.7" r="5.6" fill="#424185"/><circle cx="990.2" cy="471.8" r="5.6" fill="#471a6b"/><circle cx="951.7" cy="370.2" r="5.6" fill="#471e6f"/><circle cx="751.3" cy="386.6" r="5.6" fill="#461567"/><circle cx="443.4" cy="391.4" r="5.6" fill="#44367f"/><circle cx="301.2" cy="483.8" r="5.6" fill="#433d83"/><circle cx="608.3" cy="302.0" r="5.6" fill="#450d5f"/><circle cx="1003.4" cy="270.6" r="5.6" fill="#482071"/><circle cx="544.3" cy="350.9" r="5.6" fill="#460e60"/><circle cx="397.6" cy="629.5" r="5.6" fill="#425289"/><circle cx="1072.3" cy="530.6" r="5.6" fill="#482374"/><circle cx="833.0" cy="247.5" r="5.6" fill="#460f61"/><circle cx="469.7" cy="305.8" r="5.6" fill="#440558"/><circle cx="828.2" cy="259.7" r="5.6" fill="#440356"/><circle cx="517.2" cy="293.8" r="5.6" fill="#450b5d"/><circle cx="971.6" cy="470.6" r="5.6" fill="#482071"/><circle cx="1058.6" cy="608.6" r="5.6" fill="#44367f"/><circle cx="821.3" cy="201.0" r="5.6" fill="#450659"/><circle cx="906.6" cy="390.2" r="5.6" fill="#471d6f"/><circle cx="172.7" cy="590.6" r="5.6" fill="#414787"/><circle cx="268.0" cy="584.2" r="5.6" fill="#467689"/><circle cx="509.7" cy="360.5" r="5.6" fill="#440154"/><circle cx="715.3" cy="319.6" r="5.6" fill="#460f61"/><circle cx="334.1" cy="483.0" r="5.6" fill="#414888"/><circle cx="241.6" cy="622.2" r="5.6" fill="#456b89"/><circle cx="202.6" cy="504.8" r="5.6" fill="#414787"/><circle cx="946.6" cy="261.7" r="5.6" fill="#462f7b"/><circle cx="941.7" cy="328.8" r="5.6" fill="#471e6f"/><circle cx="1011.0" cy="413.7" r="5.6" fill="#462e7b"/><circle cx="627.7" cy="373.5" r="5.6" fill="#461062"/><circle cx="263.7" cy="578.2" r="5.6" fill="#425489"/><circle cx="390.5" cy="583.8" r="5.6" fill="#424185"/><circle cx="219.1" cy="603.2" r="5.6" fill="#435789"/><circle cx="397.7" cy="418.2" r="5.6" fill="#461264"/><circle cx="906.3" cy="318.7" r="5.6" fill="#460f62"/><circle cx="234.0" cy="629.7" r="5.6" fill="#446589"/><circle cx="396.2" cy="424.2" r="5.6" fill="#482575"/><circle cx="952.6" cy="227.9" r="5.6" fill="#461264"/><circle cx="389.7" cy="410.8" r="5.6" fill="#461668"/><circle cx="398.2" cy="428.6" r="5.6" fill="#443880"/><circle cx="972.7" cy="242.0" r="5.6" fill="#47186a"/><circle cx="351.3" cy="603.7" r="5.6" fill="#477c89"/><circle cx="937.8" cy="302.2" r="5.6" fill="#461466"/><circle cx="695.9" cy="299.4" r="5.6" fill="#482273"/><circle cx="927.4" cy="186.3" r="5.6" fill="#450659"/><circle cx="813.2" cy="347.2" r="5.6" fill="#47196b"/><circle cx="941.6" cy="333.9" r="5.6" fill="#450d60"/><circle cx="747.1" cy="226.2" r="5.6" fill="#461567"/><circle cx="1069.0" cy="357.7" r="5.6" fill="#471e6f"/><circle cx="235.1" cy="524.4" r="5.6" fill="#462e7a"/><circle cx="218.5" cy="455.2" r="5.6" fill="#424085"/><circle cx="946.2" cy="387.8" r="5.6" fill="#461365"/><circle cx="592.2" cy="354.3" r="5.6" fill="#45095c"/><circle cx="493.6" cy="286.9" r="5.6" fill="#440154"/><circle cx="898.5" cy="216.3" r="5.6" fill="#45085b"/><circle cx="835.5" cy="220.8" r="5.6" fill="#450659"/><circle cx="476.9" cy="354.4" r="5.6" fill="#461264"/><circle cx="227.6" cy="528.2" r="5.6" fill="#414888"/><circle cx="972.4" cy="362.2" r="5.6" fill="#44367f"/><circle cx="728.4" cy="207.1" r="5.6" fill="#440154"/><circle cx="388.6" cy="350.2" r="5.6" fill="#471d6e"/><circle cx="277.9" cy="481.1" r="5.6" fill="#414687"/><circle cx="242.5" cy="475.7" r="5.6" fill="#435b89"/><circle cx="146.6" cy="510.1" r="5.6" fill="#423f84"/><circle cx="736.9" cy="321.7" r="5.6" fill="#450b5e"/><circle cx="172.4" cy="575.9" r="5.6" fill="#443881"/><circle cx="338.0" cy="596.9" r="5.6" fill="#456789"/><circle cx="844.9" cy="264.7" r="5.6" fill="#461264"/><circle cx="322.4" cy="603.6" r="5.6" fill="#414a88"/><circle cx="951.0" cy="247.6" r="5.6" fill="#482071"/><circle cx="329.3" cy="538.3" r="5.6" fill="#424085"/><circle cx="1054.8" cy="395.0" r="5.6" fill="#471f70"/><circle cx="773.3" cy="311.9" r="5.6" fill="#450a5c"/><circle cx="805.9" cy="355.6" r="5.6" fill="#450b5e"/><circle cx="153.9" cy="524.8" r="5.6" fill="#435c89"/><circle cx="969.6" cy="281.9" r="5.6" fill="#472a79"/><circle cx="686.8" cy="267.3" r="5.6" fill="#440154"/><circle cx="643.6" cy="274.7" r="5.6" fill="#450a5d"/><circle cx="245.0" cy="491.4" r="5.6" fill="#424f89"/><circle cx="804.5" cy="296.2" r="5.6" fill="#471769"/><circle cx="153.9" cy="445.2" r="5.6" fill="#414587"/><circle cx="1070.0" cy="565.4" r="5.6" fill="#433981"/><circle cx="435.5" cy="347.2" r="5.6" fill="#482273"/><circle cx="804.6" cy="287.5" r="5.6" fill="#471c6d"/><circle cx="251.9" cy="601.5" r="5.6" fill="#435a89"/><circle cx="498.4" cy="294.8" r="5.6" fill="#460f61"/><circle cx="934.7" cy="397.4" r="5.6" fill="#471769"/><circle cx="470.0" cy="367.2" r="5.6" fill="#471d6f"/><circle cx="976.3" cy="316.9" r="5.6" fill="#462e7b"/><circle cx="944.2" cy="309.3" r="5.6" fill="#461466"/><circle cx="674.5" cy="279.6" r="5.6" fill="#450659"/><circle cx="215.9" cy="594.6" r="5.6" fill="#445f89"/><circle cx="1048.1" cy="457.3" r="5.6" fill="#472978"/><circle cx="865.4" cy="311.6" r="5.6" fill="#461365"/><circle cx="358.2" cy="446.4" r="5.6" fill="#414988"/><circle cx="222.3" cy="607.5" r="5.6" fill="#467689"/><circle cx="344.2" cy="607.7" r="5.6" fill="#446489"/><circle cx="434.0" cy="309.4" r="5.6" fill="#471a6b"/><circle cx="346.3" cy="589.9" r="5.6" fill="#435789"/><circle cx="865.7" cy="251.2" r="5.6" fill="#461566"/><circle cx="352.7" cy="602.2" r="5.6" fill="#487f89"/><circle cx="712.6" cy="302.6" r="5.6" fill="#472978"/><circle cx="312.8" cy="513.7" r="5.6" fill="#423f84"/><circle cx="151.5" cy="479.0" r="5.6" fill="#414988"/><circle cx="903.6" cy="225.2" r="5.6" fill="#471a6c"/><circle cx="599.3" cy="354.9" r="5.6" fill="#440154"/><circle cx="446.5" cy="413.0" r="5.6" fill="#471c6d"/><circle cx="750.6" cy="354.0" r="5.6" fill="#471d6e"/><circle cx="680.4" cy="298.7" r="5.6" fill="#471769"/><circle cx="823.8" cy="319.3" r="5.6" fill="#450a5c"/><circle cx="976.6" cy="298.2" r="5.6" fill="#452f7b"/><circle cx="967.9" cy="307.1" r="5.6" fill="#471e6f"/><circle cx="495.1" cy="287.9" r="5.6" fill="#440457"/><circle cx="1051.9" cy="349.0" r="5.6" fill="#472a78"/><circle cx="490.9" cy="365.1" r="5.6" fill="#471c6d"/><circle cx="810.7" cy="240.8" r="5.6" fill="#461264"/><circle cx="947.1" cy="250.1" r="5.6" fill="#461667"/><circle cx="278.6" cy="574.5" r="5.6" fill="#435e89"/><circle cx="829.1" cy="289.4" r="5.6" fill="#440558"/><circle cx="157.0" cy="458.0" r="5.6" fill="#414787"/><circle cx="317.5" cy="456.0" r="5.6" fill="#425089"/><circle cx="398.8" cy="370.8" r="5.6" fill="#461365"/><circle cx="968.3" cy="398.5" r="5.6" fill="#482374"/><circle cx="382.6" cy="520.2" r="5.6" fill="#414587"/><circle cx="713.2" cy="285.6" r="5.6" fill="#460e61"/><circle cx="594.6" cy="357.2" r="5.6" fill="#450e60"/><circle cx="954.8" cy="217.0" r="5.6" fill="#450a5c"/><circle cx="251.8" cy="548.7" r="5.6" fill="#446089"/><circle cx="1010.1" cy="314.2" r="5.6" fill="#482071"/><circle cx="1065.0" cy="546.7" r="5.6" fill="#462b79"/><circle cx="1018.6" cy="326.3" r="5.6" fill="#462d7a"/><circle cx="240.1" cy="534.9" r="5.6" fill="#414587"/><circle cx="303.3" cy="476.9" r="5.6" fill="#424e88"/><circle cx="274.8" cy="584.8" r="5.6" fill="#435a89"/><circle cx="883.4" cy="324.4" r="5.6" fill="#460f61"/><circle cx="846.0" cy="192.3" r="5.6" fill="#450c5e"/><circle cx="385.8" cy="504.6" r="5.6" fill="#414587"/><circle cx="530.4" cy="322.7" r="5.6" fill="#461567"/><circle cx="945.4" cy="188.4" r="5.6" fill="#471c6e"/><circle cx="464.1" cy="327.5" r="5.6" fill="#450658"/><circle cx="253.6" cy="610.6" r="5.6" fill="#435d89"/><circle cx="928.6" cy="390.7" r="5.6" fill="#471769"/><circle cx="345.9" cy="573.7" r="5.6" fill="#467389"/><circle cx="989.7" cy="312.2" r="5.6" fill="#482172"/><circle cx="621.8" cy="295.1" r="5.6" fill="#450b5e"/><circle cx="1082.8" cy="513.6" r="5.6" fill="#462d7a"/><circle cx="597.3" cy="352.2" r="5.6" fill="#440154"/><circle cx="944.9" cy="293.1" r="5.6" fill="#461062"/><circle cx="845.7" cy="201.5" r="5.6" fill="#440457"/><circle cx="331.4" cy="635.9" r="5.6" fill="#477989"/><circle cx="688.5" cy="271.1" r="5.6" fill="#440154"/><circle cx="903.3" cy="283.6" r="5.6" fill="#461466"/><circle cx="906.9" cy="211.2" r="5.6" fill="#47186a"/><circle cx="485.3" cy="342.1" r="5.6" fill="#47196b"/><circle cx="618.0" cy="367.5" r="5.6" fill="#450c5e"/><circle cx="395.0" cy="513.8" r="5.6" fill="#482575"/><circle cx="1055.5" cy="433.1" r="5.6" fill="#472978"/><circle cx="440.5" cy="310.3" r="5.6" fill="#461566"/><circle cx="215.6" cy="566.2" r="5.6" fill="#456e89"/><circle cx="947.5" cy="285.9" r="5.6" fill="#47196b"/><circle cx="390.3" cy="542.1" r="5.6" fill="#414988"/><circle cx="443.2" cy="387.0" r="5.6" fill="#471c6e"/><circle cx="716.0" cy="311.8" r="5.6" fill="#440154"/><circle cx="969.5" cy="449.2" r="5.6" fill="#472a78"/><circle cx="1018.4" cy="365.6" r="5.6" fill="#472877"/><circle cx="331.7" cy="495.8" r="5.6" fill="#477b89"/><circle cx="746.0" cy="202.1" r="5.6" fill="#450b5d"/><circle cx="716.9" cy="294.7" r="5.6" fill="#461365"/><circle cx="325.1" cy="545.5" r="5.6" fill="#414386"/><circle cx="216.0" cy="596.2" r="5.6" fill="#435b89"/><circle cx="661.1" cy="347.8" r="5.6" fill="#461163"/><circle cx="536.2" cy="346.3" r="5.6" fill="#450d60"/><circle cx="244.7" cy="455.3" r="5.6" fill="#433d83"/><circle cx="320.8" cy="574.6" r="5.6" fill="#446789"/><circle cx="967.8" cy="251.9" r="5.6" fill="#482576"/><circle cx="1073.1" cy="430.3" r="5.6" fill="#45307c"/><circle cx="981.9" cy="331.1" r="5.6" fill="#462d7a"/><circle cx="912.6" cy="253.2" r="5.6" fill="#471b6c"/><circle cx="273.9" cy="634.3" r="5.6" fill="#498289"/><circle cx="946.9" cy="307.6" r="5.6" fill="#460f61"/><circle cx="950.4" cy="240.0" r="5.6" fill="#461567"/><circle cx="974.1" cy="404.3" r="5.6" fill="#482172"/><circle cx="809.3" cy="345.3" r="5.6" fill="#45085a"/><circle cx="378.7" cy="469.4" r="5.6" fill="#446489"/><circle cx="655.8" cy="351.7" r="5.6" fill="#450659"/><circle cx="270.4" cy="627.4" r="5.6" fill="#435789"/><circle cx="741.0" cy="350.8" r="5.6" fill="#45085b"/><circle cx="308.3" cy="611.5" r="5.6" fill="#456d89"/><circle cx="836.0" cy="197.1" r="5.6" fill="#450a5d"/><circle cx="1075.9" cy="565.3" r="5.6" fill="#433981"/><circle cx="524.9" cy="309.3" r="5.6" fill="#450659"/><circle cx="216.2" cy="609.8" r="5.6" fill="#414a88"/><circle cx="401.3" cy="543.4" r="5.6" fill="#425489"/><circle cx="815.8" cy="262.5" r="5.6" fill="#471f70"/><circle cx="695.0" cy="330.4" r="5.6" fill="#45095c"/><circle cx="1079.3" cy="552.2" r="5.6" fill="#44357e"/><circle cx="317.4" cy="538.3" r="5.6" fill="#435d89"/><circle cx="895.1" cy="400.7" r="5.6" fill="#47196a"/><circle cx="514.8" cy="311.1" r="5.6" fill="#461163"/><circle cx="596.7" cy="365.2" r="5.6" fill="#440356"/><circle cx="486.3" cy="276.7" r="5.6" fill="#450b5e"/><circle cx="610.8" cy="368.2" r="5.6" fill="#45075a"/><circle cx="728.8" cy="228.2" r="5.6" fill="#461365"/><circle cx="834.1" cy="364.7" r="5.6" fill="#450a5c"/><circle cx="759.9" cy="360.0" r="5.6" fill="#440255"/><circle cx="1076.5" cy="501.4" r="5.6" fill="#472776"/><circle cx="985.0" cy="239.2" r="5.6" fill="#471c6d"/><circle cx="1000.2" cy="449.0" r="5.6" fill="#462b79"/><circle cx="438.8" cy="430.5" r="5.6" fill="#471769"/><circle cx="870.9" cy="267.6" r="5.6" fill="#47196b"/><circle cx="441.0" cy="314.6" r="5.6" fill="#461163"/><circle cx="258.1" cy="491.5" r="5.6" fill="#482071"/><circle cx="811.2" cy="378.4" r="5.6" fill="#461163"/><circle cx="844.8" cy="217.4" r="5.6" fill="#450b5e"/><circle cx="808.5" cy="350.5" r="5.6" fill="#461365"/><circle cx="408.2" cy="343.7" r="5.6" fill="#471869"/><circle cx="748.1" cy="226.3" r="5.6" fill="#440457"/><circle cx="378.3" cy="465.2" r="5.6" fill="#423d83"/><circle cx="585.9" cy="289.3" r="5.6" fill="#450c5e"/><circle cx="143.7" cy="461.4" r="5.6" fill="#414286"/><circle cx="769.4" cy="257.9" r="5.6" fill="#450658"/><circle cx="825.0" cy="329.9" r="5.6" fill="#461365"/><circle cx="913.0" cy="297.4" r="5.6" fill="#471f70"/><circle cx="453.9" cy="288.3" r="5.6" fill="#45095c"/><circle cx="216.6" cy="626.0" r="5.6" fill="#467589"/><circle cx="472.9" cy="389.5" r="5.6" fill="#450558"/><circle cx="271.0" cy="530.0" r="5.6" fill="#424c88"/><circle cx="258.9" cy="604.0" r="5.6" fill="#477b89"/><circle cx="629.7" cy="363.7" r="5.6" fill="#440457"/><circle cx="1051.4" cy="438.6" r="5.6" fill="#471d6e"/><circle cx="650.9" cy="321.9" r="5.6" fill="#45095b"/><circle cx="499.5" cy="314.2" r="5.6" fill="#471b6d"/><circle cx="196.2" cy="621.3" r="5.6" fill="#446089"/><circle cx="364.5" cy="482.6" r="5.6" fill="#414487"/><circle cx="1087.1" cy="541.6" r="5.6" fill="#471f70"/><circle cx="389.0" cy="364.7" r="5.6" fill="#414587"/><circle cx="556.6" cy="315.1" r="5.6" fill="#461567"/><circle cx="466.9" cy="359.4" r="5.6" fill="#440356"/><circle cx="392.4" cy="348.9" r="5.6" fill="#462f7b"/><circle cx="328.8" cy="575.7" r="5.6" fill="#446389"/><circle cx="478.7" cy="272.1" r="5.6" fill="#461062"/><circle cx="269.6" cy="498.2" r="5.6" fill="#443780"/><circle cx="214.1" cy="571.7" r="5.6" fill="#424d88"/><circle cx="311.1" cy="607.2" r="5.6" fill="#477a89"/><circle cx="622.9" cy="293.6" r="5.6" fill="#461163"/><circle cx="591.6" cy="286.6" r="5.6" fill="#461567"/><circle cx="1067.0" cy="354.3" r="5.6" fill="#462d7a"/><circle cx="662.9" cy="350.4" r="5.6" fill="#450e60"/><circle cx="414.5" cy="484.6" r="5.6" fill="#425089"/><circle cx="805.9" cy="319.3" r="5.6" fill="#460f61"/><circle cx="973.8" cy="327.3" r="5.6" fill="#471c6e"/><circle cx="388.0" cy="550.6" r="5.6" fill="#433c83"/><circle cx="224.8" cy="593.7" r="5.6" fill="#456a89"/><circle cx="232.2" cy="615.7" r="5.6" fill="#446389"/><circle cx="256.6" cy="535.8" r="5.6" fill="#482676"/><circle cx="869.9" cy="267.6" r="5.6" fill="#47196b"/><circle cx="170.5" cy="466.5" r="5.6" fill="#424e88"/><circle cx="982.2" cy="315.1" r="5.6" fill="#462d7a"/><circle cx="330.2" cy="484.4" r="5.6" fill="#414487"/><circle cx="435.7" cy="330.5" r="5.6" fill="#45075a"/><circle cx="326.7" cy="461.2" r="5.6" fill="#425189"/><circle cx="631.4" cy="288.9" r="5.6" fill="#450c5e"/><circle cx="748.0" cy="340.3" r="5.6" fill="#45095c"/><circle cx="866.7" cy="342.7" r="5.6" fill="#482475"/><circle cx="862.6" cy="308.6" r="5.6" fill="#471d6f"/><circle cx="929.2" cy="401.8" r="5.6" fill="#45095c"/><circle cx="588.8" cy="359.2" r="5.6" fill="#450d5f"/><circle cx="907.9" cy="212.9" r="5.6" fill="#450659"/><circle cx="824.2" cy="279.4" r="5.6" fill="#461163"/><circle cx="241.6" cy="470.1" r="5.6" fill="#425189"/><circle cx="694.8" cy="335.3" r="5.6" fill="#450d5f"/><circle cx="394.4" cy="637.7" r="5.6" fill="#467489"/><circle cx="144.3" cy="467.2" r="5.6" fill="#414487"/><circle cx="816.5" cy="256.0" r="5.6" fill="#461365"/><circle cx="768.3" cy="272.5" r="5.6" fill="#461163"/><circle cx="403.1" cy="363.8" r="5.6" fill="#45347e"/><circle cx="1081.7" cy="451.9" r="5.6" fill="#45307c"/><circle cx="692.1" cy="276.7" r="5.6" fill="#450c5e"/><circle cx="287.1" cy="588.1" r="5.6" fill="#446789"/><circle cx="928.1" cy="180.2" r="5.6" fill="#440356"/><circle cx="154.7" cy="500.5" r="5.6" fill="#433d83"/><circle cx="998.9" cy="272.1" r="5.6" fill="#482273"/><circle cx="845.9" cy="294.8" r="5.6" fill="#461365"/><circle cx="708.6" cy="283.5" r="5.6" fill="#461365"/><circle cx="1074.1" cy="420.5" r="5.6" fill="#462e7b"/><circle cx="690.1" cy="306.6" r="5.6" fill="#450a5c"/><circle cx="813.4" cy="310.6" r="5.6" fill="#450659"/><circle cx="351.9" cy="626.5" r="5.6" fill="#487e89"/><circle cx="387.4" cy="555.2" r="5.6" fill="#435d89"/><circle cx="803.4" cy="303.3" r="5.6" fill="#440557"/><circle cx="746.5" cy="364.7" r="5.6" fill="#450a5c"/><circle cx="987.7" cy="463.9" r="5.6" fill="#460f61"/><circle cx="541.9" cy="326.8" r="5.6" fill="#461062"/><circle cx="992.8" cy="434.6" r="5.6" fill="#472978"/><circle cx="1065.8" cy="498.1" r="5.6" fill="#45327d"/><circle cx="541.8" cy="361.0" r="5.6" fill="#461668"/><circle cx="413.7" cy="582.8" r="5.6" fill="#414587"/><circle cx="481.7" cy="384.8" r="5.6" fill="#472777"/><circle cx="1052.3" cy="524.9" r="5.6" fill="#472a79"/><circle cx="238.6" cy="496.7" r="5.6" fill="#425389"/><circle cx="220.8" cy="470.4" r="5.6" fill="#45327d"/><circle cx="470.5" cy="341.1" r="5.6" fill="#461567"/><circle cx="979.5" cy="371.9" r="5.6" fill="#471d6e"/><circle cx="200.3" cy="564.7" r="5.6" fill="#424f89"/><circle cx="667.5" cy="262.0" r="5.6" fill="#450d5f"/><circle cx="763.3" cy="294.9" r="5.6" fill="#461264"/><circle cx="1008.5" cy="410.6" r="5.6" fill="#471869"/><circle cx="880.7" cy="241.0" r="5.6" fill="#450e60"/><circle cx="600.8" cy="368.6" r="5.6" fill="#471869"/><circle cx="194.3" cy="606.6" r="5.6" fill="#467789"/><circle cx="1048.7" cy="430.8" r="5.6" fill="#482375"/><circle cx="918.3" cy="382.1" r="5.6" fill="#450759"/><circle cx="578.9" cy="357.6" r="5.6" fill="#440558"/><circle cx="767.5" cy="252.8" r="5.6" fill="#47196a"/><circle cx="595.0" cy="353.6" r="5.6" fill="#461365"/><circle cx="427.3" cy="329.0" r="5.6" fill="#450a5d"/><circle cx="1021.1" cy="350.4" r="5.6" fill="#452f7b"/><circle cx="836.7" cy="296.0" r="5.6" fill="#461062"/><circle cx="222.6" cy="561.9" r="5.6" fill="#425289"/><circle cx="982.0" cy="280.6" r="5.6" fill="#472777"/><circle cx="590.1" cy="364.3" r="5.6" fill="#45085b"/><circle cx="466.2" cy="360.2" r="5.6" fill="#471769"/><circle cx="281.8" cy="492.4" r="5.6" fill="#462e7b"/><circle cx="712.2" cy="285.4" r="5.6" fill="#482676"/><circle cx="627.3" cy="359.7" r="5.6" fill="#471769"/><circle cx="840.8" cy="351.8" r="5.6" fill="#461768"/><circle cx="449.4" cy="355.4" r="5.6" fill="#44357f"/><circle cx="155.1" cy="469.9" r="5.6" fill="#435889"/><circle cx="861.3" cy="222.9" r="5.6" fill="#450659"/><circle cx="268.5" cy="473.0" r="5.6" fill="#414487"/><circle cx="343.8" cy="574.3" r="5.6" fill="#424f89"/><circle cx="444.1" cy="320.0" r="5.6" fill="#461567"/><circle cx="447.4" cy="366.2" r="5.6" fill="#461163"/><circle cx="535.1" cy="354.4" r="5.6" fill="#471c6d"/><circle cx="1008.6" cy="421.7" r="5.6" fill="#472777"/><circle cx="916.5" cy="180.6" r="5.6" fill="#450d5f"/><circle cx="584.7" cy="352.7" r="5.6" fill="#450659"/><circle cx="990.3" cy="265.5" r="5.6" fill="#433a81"/><circle cx="882.1" cy="269.1" r="5.6" fill="#471d6e"/><circle cx="413.3" cy="509.2" r="5.6" fill="#423f84"/><circle cx="838.9" cy="355.1" r="5.6" fill="#460e61"/><circle cx="265.3" cy="554.8" r="5.6" fill="#425389"/><circle cx="1069.4" cy="368.0" r="5.6" fill="#45337d"/><circle cx="901.9" cy="207.8" r="5.6" fill="#471a6c"/><circle cx="999.1" cy="314.6" r="5.6" fill="#471e6f"/><circle cx="1056.0" cy="563.2" r="5.6" fill="#443880"/><circle cx="330.7" cy="589.4" r="5.6" fill="#424f89"/><circle cx="1081.7" cy="475.7" r="5.6" fill="#414487"/><circle cx="477.1" cy="373.3" r="5.6" fill="#462c79"/><circle cx="148.8" cy="454.6" r="5.6" fill="#414888"/><circle cx="575.8" cy="315.5" r="5.6" fill="#440356"/><circle cx="632.2" cy="365.0" r="5.6" fill="#460f61"/><circle cx="892.4" cy="212.1" r="5.6" fill="#45085a"/><circle cx="319.8" cy="634.7" r="5.6" fill="#467189"/><circle cx="844.8" cy="197.7" r="5.6" fill="#440154"/><circle cx="265.2" cy="521.2" r="5.6" fill="#433b82"/><circle cx="724.7" cy="272.7" r="5.6" fill="#450c5e"/><circle cx="726.4" cy="314.6" r="5.6" fill="#461163"/><circle cx="552.5" cy="347.5" r="5.6" fill="#460f62"/><circle cx="1008.7" cy="330.3" r="5.6" fill="#45327d"/><circle cx="1012.1" cy="357.5" r="5.6" fill="#462c7a"/><circle cx="764.2" cy="245.3" r="5.6" fill="#45095b"/><circle cx="973.4" cy="442.2" r="5.6" fill="#47196a"/><circle cx="866.1" cy="353.5" r="5.6" fill="#471c6e"/><circle cx="350.1" cy="491.9" r="5.6" fill="#457089"/><circle cx="165.7" cy="485.9" r="5.6" fill="#424d88"/><circle cx="937.5" cy="306.5" r="5.6" fill="#471d6f"/><circle cx="832.1" cy="355.8" r="5.6" fill="#450c5e"/><circle cx="747.6" cy="242.2" r="5.6" fill="#461566"/><circle cx="481.2" cy="277.6" r="5.6" fill="#482071"/><circle cx="674.4" cy="334.7" r="5.6" fill="#461567"/><circle cx="257.1" cy="571.8" r="5.6" fill="#414a88"/><circle cx="550.5" cy="314.1" r="5.6" fill="#45085b"/><circle cx="605.9" cy="292.7" r="5.6" fill="#47186a"/><circle cx="863.9" cy="327.9" r="5.6" fill="#44357e"/><circle cx="826.4" cy="200.7" r="5.6" fill="#440154"/><circle cx="820.2" cy="375.4" r="5.6" fill="#450c5e"/><circle cx="905.0" cy="220.4" r="5.6" fill="#450b5e"/><circle cx="748.8" cy="351.2" r="5.6" fill="#450d5f"/><circle cx="265.8" cy="518.0" r="5.6" fill="#443780"/><circle cx="1020.6" cy="288.4" r="5.6" fill="#471d6f"/><circle cx="199.0" cy="567.5" r="5.6" fill="#446289"/><circle cx="912.0" cy="234.1" r="5.6" fill="#450d60"/><circle cx="964.8" cy="427.7" r="5.6" fill="#472978"/><circle cx="243.9" cy="515.1" r="5.6" fill="#414a88"/><circle cx="163.5" cy="515.1" r="5.6" fill="#425589"/><circle cx="952.1" cy="255.8" r="5.6" fill="#461768"/><circle cx="477.3" cy="398.5" r="5.6" fill="#471b6d"/><circle cx="526.4" cy="322.8" r="5.6" fill="#461163"/><circle cx="1000.4" cy="469.1" r="5.6" fill="#482576"/><circle cx="229.5" cy="567.6" r="5.6" fill="#456f89"/><circle cx="747.9" cy="326.5" r="5.6" fill="#440356"/><circle cx="172.1" cy="476.9" r="5.6" fill="#424c88"/><circle cx="499.2" cy="346.9" r="5.6" fill="#461163"/><circle cx="622.9" cy="363.1" r="5.6" fill="#461365"/><circle cx="199.1" cy="484.1" r="5.6" fill="#44347e"/><circle cx="685.9" cy="308.6" r="5.6" fill="#440154"/><circle cx="974.0" cy="391.4" r="5.6" fill="#462c7a"/><circle cx="289.0" cy="613.9" r="5.6" fill="#425289"/><circle cx="1058.4" cy="327.2" r="5.6" fill="#471c6e"/><circle cx="1068.5" cy="416.3" r="5.6" fill="#482273"/><circle cx="630.6" cy="300.2" r="5.6" fill="#450a5c"/><circle cx="952.7" cy="242.4" r="5.6" fill="#461264"/><circle cx="245.9" cy="633.5" r="5.6" fill="#456889"/><circle cx="976.8" cy="361.9" r="5.6" fill="#472777"/><circle cx="938.2" cy="207.2" r="5.6" fill="#461466"/><circle cx="888.6" cy="391.0" r="5.6" fill="#462c79"/><circle cx="570.4" cy="332.6" r="5.6" fill="#450b5d"/><circle cx="315.0" cy="537.0" r="5.6" fill="#435889"/><circle cx="1077.8" cy="386.3" r="5.6" fill="#471d6e"/><circle cx="660.3" cy="275.5" r="5.6" fill="#461667"/><circle cx="825.7" cy="318.5" r="5.6" fill="#450a5c"/><circle cx="265.8" cy="568.5" r="5.6" fill="#425089"/><circle cx="805.1" cy="317.5" r="5.6" fill="#45075a"/><circle cx="988.8" cy="317.8" r="5.6" fill="#461668"/><circle cx="643.7" cy="294.1" r="5.6" fill="#450558"/><circle cx="389.8" cy="386.7" r="5.6" fill="#482676"/><circle cx="829.7" cy="371.0" r="5.6" fill="#461264"/><circle cx="714.7" cy="289.2" r="5.6" fill="#440558"/><circle cx="950.5" cy="254.8" r="5.6" fill="#482172"/><circle cx="814.2" cy="226.1" r="5.6" fill="#461365"/><circle cx="208.2" cy="451.3" r="5.6" fill="#45327d"/><circle cx="840.3" cy="225.3" r="5.6" fill="#460f62"/><circle cx="904.0" cy="239.3" r="5.6" fill="#440356"/><circle cx="835.3" cy="244.5" r="5.6" fill="#471f70"/><circle cx="944.9" cy="339.8" r="5.6" fill="#450c5e"/><circle cx="397.9" cy="439.4" r="5.6" fill="#482172"/><circle cx="1062.4" cy="346.0" r="5.6" fill="#482576"/><circle cx="934.5" cy="336.7" r="5.6" fill="#461466"/><circle cx="904.3" cy="239.7" r="5.6" fill="#471a6c"/><circle cx="211.1" cy="628.0" r="5.6" fill="#487e89"/><circle cx="740.4" cy="334.8" r="5.6" fill="#461668"/><circle cx="565.4" cy="328.8" r="5.6" fill="#47196b"/><circle cx="266.5" cy="484.9" r="5.6" fill="#482071"/><circle cx="471.7" cy="292.0" r="5.6" fill="#461768"/><circle cx="495.4" cy="397.2" r="5.6" fill="#44357f"/><circle cx="576.9" cy="318.5" r="5.6" fill="#461465"/><circle cx="252.7" cy="535.3" r="5.6" fill="#433c82"/><circle cx="173.1" cy="474.9" r="5.6" fill="#425089"/><circle cx="154.0" cy="556.9" r="5.6" fill="#414787"/><circle cx="265.8" cy="580.9" r="5.6" fill="#456789"/><circle cx="334.4" cy="482.6" r="5.6" fill="#424d88"/><circle cx="290.8" cy="604.8" r="5.6" fill="#425189"/><circle cx="234.6" cy="540.6" r="5.6" fill="#414687"/><circle cx="1005.8" cy="320.7" r="5.6" fill="#461668"/><circle cx="217.7" cy="543.0" r="5.6" fill="#424c88"/><circle cx="915.4" cy="237.1" r="5.6" fill="#450658"/><circle cx="448.6" cy="352.6" r="5.6" fill="#461163"/><circle cx="978.2" cy="390.0" r="5.6" fill="#45317c"/><circle cx="809.2" cy="364.6" r="5.6" fill="#45095b"/><circle cx="387.4" cy="463.4" r="5.6" fill="#461566"/><circle cx="377.8" cy="609.1" r="5.6" fill="#424d88"/><circle cx="390.6" cy="477.9" r="5.6" fill="#443880"/><circle cx="917.5" cy="265.2" r="5.6" fill="#440154"/><circle cx="387.0" cy="464.8" r="5.6" fill="#424085"/><circle cx="407.7" cy="473.5" r="5.6" fill="#414587"/><circle cx="402.3" cy="595.8" r="5.6" fill="#435b89"/><circle cx="728.5" cy="307.1" r="5.6" fill="#461365"/><circle cx="487.0" cy="393.0" r="5.6" fill="#462d7a"/><circle cx="901.0" cy="240.0" r="5.6" fill="#450b5d"/><circle cx="803.0" cy="306.6" r="5.6" fill="#461365"/><circle cx="897.3" cy="220.8" r="5.6" fill="#461466"/><circle cx="1071.2" cy="382.3" r="5.6" fill="#482676"/><circle cx="498.9" cy="302.1" r="5.6" fill="#460e61"/><circle cx="409.8" cy="575.9" r="5.6" fill="#423d83"/><circle cx="885.9" cy="394.9" r="5.6" fill="#462d7a"/><circle cx="917.7" cy="180.7" r="5.6" fill="#461465"/><circle cx="286.3" cy="472.4" r="5.6" fill="#414487"/><circle cx="819.5" cy="217.6" r="5.6" fill="#460f61"/><circle cx="643.6" cy="358.6" r="5.6" fill="#461264"/><circle cx="807.0" cy="284.2" r="5.6" fill="#450e60"/><circle cx="742.7" cy="272.5" r="5.6" fill="#45085a"/><circle cx="989.6" cy="275.9" r="5.6" fill="#443880"/><circle cx="655.6" cy="288.3" r="5.6" fill="#461264"/><circle cx="398.9" cy="343.6" r="5.6" fill="#482071"/><circle cx="490.5" cy="318.8" r="5.6" fill="#461365"/><circle cx="526.5" cy="328.1" r="5.6" fill="#461264"/><circle cx="879.0" cy="364.3" r="5.6" fill="#461365"/><circle cx="397.6" cy="383.7" r="5.6" fill="#440255"/><circle cx="446.1" cy="415.8" r="5.6" fill="#433981"/><circle cx="1061.4" cy="373.8" r="5.6" fill="#433d83"/><circle cx="871.6" cy="387.0" r="5.6" fill="#461163"/><circle cx="340.0" cy="618.2" r="5.6" fill="#424d88"/><circle cx="832.8" cy="344.1" r="5.6" fill="#471f70"/><circle cx="1075.3" cy="487.5" r="5.6" fill="#433c83"/><circle cx="261.7" cy="563.4" r="5.6" fill="#425089"/><circle cx="1052.2" cy="476.6" r="5.6" fill="#462d7a"/><circle cx="753.8" cy="356.1" r="5.6" fill="#461466"/><circle cx="759.6" cy="281.4" r="5.6" fill="#440154"/><circle cx="409.5" cy="544.1" r="5.6" fill="#424185"/><circle cx="266.7" cy="453.4" r="5.6" fill="#414587"/><circle cx="1064.8" cy="515.6" r="5.6" fill="#45317d"/><circle cx="925.0" cy="185.5" r="5.6" fill="#450e60"/><circle cx="142.5" cy="471.5" r="5.6" fill="#414787"/><circle cx="210.9" cy="576.0" r="5.6" fill="#424c88"/><circle cx="737.7" cy="340.7" r="5.6" fill="#461264"/><circle cx="977.9" cy="466.7" r="5.6" fill="#471769"/><circle cx="908.0" cy="296.2" r="5.6" fill="#45095c"/><circle cx="1069.0" cy="388.6" r="5.6" fill="#462c7a"/><circle cx="843.0" cy="220.0" r="5.6" fill="#461365"/><circle cx="347.8" cy="495.9" r="5.6" fill="#425489"/><circle cx="995.6" cy="316.2" r="5.6" fill="#471c6d"/><circle cx="246.3" cy="576.3" r="5.6" fill="#424c88"/><circle cx="803.7" cy="293.4" r="5.6" fill="#450e60"/><circle cx="815.4" cy="326.0" r="5.6" fill="#440558"/><circle cx="893.1" cy="393.8" r="5.6" fill="#440457"/><circle cx="341.0" cy="507.2" r="5.6" fill="#424b88"/><circle cx="944.9" cy="277.1" r="5.6" fill="#461264"/><circle cx="260.9" cy="575.4" r="5.6" fill="#435689"/><circle cx="600.2" cy="285.8" r="5.6" fill="#450a5c"/><circle cx="152.7" cy="541.4" r="5.6" fill="#462b79"/><circle cx="877.4" cy="261.8" r="5.6" fill="#471a6b"/><circle cx="714.8" cy="329.1" r="5.6" fill="#450e60"/><circle cx="843.8" cy="227.6" r="5.6" fill="#450a5c"/><circle cx="432.9" cy="294.7" r="5.6" fill="#450e60"/><circle cx="827.4" cy="367.4" r="5.6" fill="#461264"/><circle cx="532.7" cy="335.8" r="5.6" fill="#471769"/><circle cx="687.4" cy="277.4" r="5.6" fill="#450759"/><circle cx="412.0" cy="535.1" r="5.6" fill="#435689"/><circle cx="198.1" cy="603.0" r="5.6" fill="#424f89"/><circle cx="811.1" cy="298.4" r="5.6" fill="#461668"/><circle cx="947.2" cy="382.5" r="5.6" fill="#471769"/><circle cx="336.1" cy="499.1" r="5.6" fill="#456a89"/><circle cx="354.1" cy="584.7" r="5.6" fill="#425589"/><circle cx="849.9" cy="210.1" r="5.6" fill="#450a5d"/><circle cx="641.6" cy="291.0" r="5.6" fill="#45075a"/><circle cx="425.5" cy="333.9" r="5.6" fill="#450c5e"/><circle cx="837.3" cy="225.1" r="5.6" fill="#450c5e"/><circle cx="246.8" cy="596.9" r="5.6" fill="#425489"/><circle cx="878.9" cy="393.0" r="5.6" fill="#45095b"/><circle cx="662.9" cy="257.7" r="5.6" fill="#440558"/><circle cx="1058.9" cy="523.0" r="5.6" fill="#472777"/><circle cx="264.3" cy="614.0" r="5.6" fill="#414787"/><circle cx="942.5" cy="234.4" r="5.6" fill="#482374"/><circle cx="419.0" cy="424.8" r="5.6" fill="#460f61"/><circle cx="315.5" cy="618.4" r="5.6" fill="#435e89"/><circle cx="1072.8" cy="418.8" r="5.6" fill="#462c79"/><circle cx="444.7" cy="289.2" r="5.6" fill="#450e60"/><circle cx="260.4" cy="455.3" r="5.6" fill="#414687"/><circle cx="777.9" cy="282.1" r="5.6" fill="#450d5f"/><circle cx="542.5" cy="363.1" r="5.6" fill="#45085a"/><circle cx="432.7" cy="364.9" r="5.6" fill="#471769"/><circle cx="451.7" cy="345.4" r="5.6" fill="#44347e"/><circle cx="298.1" cy="457.9" r="5.6" fill="#433c82"/><circle cx="444.2" cy="418.1" r="5.6" fill="#462c7a"/><circle cx="330.6" cy="629.2" r="5.6" fill="#435c89"/><circle cx="734.0" cy="217.5" r="5.6" fill="#461466"/><circle cx="935.6" cy="374.4" r="5.6" fill="#461163"/><circle cx="211.9" cy="543.5" r="5.6" fill="#446089"/><circle cx="982.7" cy="321.2" r="5.6" fill="#482576"/><circle cx="1061.1" cy="396.9" r="5.6" fill="#462e7b"/><circle cx="839.6" cy="368.8" r="5.6" fill="#47196b"/><circle cx="860.3" cy="303.9" r="5.6" fill="#440457"/><circle cx="343.4" cy="478.8" r="5.6" fill="#424e88"/><circle cx="921.2" cy="294.7" r="5.6" fill="#450a5c"/><circle cx="932.4" cy="185.7" r="5.6" fill="#461567"/><circle cx="329.0" cy="551.8" r="5.6" fill="#435c89"/><circle cx="219.5" cy="579.7" r="5.6" fill="#425289"/><circle cx="840.0" cy="313.8" r="5.6" fill="#47196b"/><circle cx="265.2" cy="483.1" r="5.6" fill="#45317d"/><circle cx="779.3" cy="249.7" r="5.6" fill="#45085a"/><circle cx="231.2" cy="579.6" r="5.6" fill="#446189"/><circle cx="552.0" cy="348.6" r="5.6" fill="#461668"/><circle cx="273.3" cy="529.1" r="5.6" fill="#446089"/><circle cx="836.6" cy="192.7" r="5.6" fill="#450b5d"/><circle cx="366.1" cy="459.1" r="5.6" fill="#414b88"/><circle cx="380.3" cy="480.3" r="5.6" fill="#433d83"/><circle cx="225.9" cy="536.2" r="5.6" fill="#424d88"/><circle cx="912.3" cy="397.8" r="5.6" fill="#45085b"/><circle cx="1055.2" cy="570.7" r="5.6" fill="#461567"/><circle cx="554.4" cy="313.6" r="5.6" fill="#460f61"/><circle cx="869.5" cy="306.0" r="5.6" fill="#461466"/><circle cx="470.8" cy="334.2" r="5.6" fill="#461163"/><circle cx="326.8" cy="506.4" r="5.6" fill="#462e7b"/><circle cx="622.4" cy="367.4" r="5.6" fill="#471a6c"/><circle cx="203.3" cy="597.4" r="5.6" fill="#435a89"/><circle cx="438.9" cy="391.9" r="5.6" fill="#433981"/><circle cx="329.0" cy="478.3" r="5.6" fill="#45337d"/><circle cx="383.2" cy="603.4" r="5.6" fill="#435889"/><circle cx="388.7" cy="623.4" r="5.6" fill="#414386"/><circle cx="876.4" cy="339.4" r="5.6" fill="#471f70"/><circle cx="165.2" cy="533.9" r="5.6" fill="#414587"/><circle cx="861.3" cy="292.9" r="5.6" fill="#440154"/><circle cx="295.5" cy="489.7" r="5.6" fill="#425089"/><circle cx="838.0" cy="372.4" r="5.6" fill="#440154"/><circle cx="973.5" cy="339.5" r="5.6" fill="#47196a"/><circle cx="800.5" cy="330.4" r="5.6" fill="#450759"/><circle cx="988.0" cy="300.7" r="5.6" fill="#44367f"/><circle cx="997.3" cy="256.5" r="5.6" fill="#461769"/><circle cx="891.6" cy="242.0" r="5.6" fill="#45075a"/><circle cx="177.8" cy="472.6" r="5.6" fill="#435a89"/><circle cx="773.9" cy="257.5" r="5.6" fill="#461667"/><circle cx="298.8" cy="445.2" r="5.6" fill="#424185"/><circle cx="1056.7" cy="390.1" r="5.6" fill="#461668"/><circle cx="866.2" cy="315.3" r="5.6" fill="#482676"/><circle cx="443.2" cy="295.0" r="5.6" fill="#450a5d"/><circle cx="823.3" cy="326.1" r="5.6" fill="#461264"/><circle cx="949.0" cy="295.7" r="5.6" fill="#450e60"/><circle cx="816.8" cy="305.0" r="5.6" fill="#460f61"/><circle cx="925.8" cy="184.7" r="5.6" fill="#45075a"/><circle cx="242.1" cy="578.1" r="5.6" fill="#424e88"/><circle cx="295.5" cy="631.4" r="5.6" fill="#456989"/><circle cx="264.3" cy="626.7" r="5.6" fill="#424f89"/><circle cx="207.3" cy="543.4" r="5.6" fill="#424185"/><circle cx="210.1" cy="481.3" r="5.6" fill="#414888"/><circle cx="867.0" cy="366.3" r="5.6" fill="#482475"/><circle cx="227.5" cy="541.6" r="5.6" fill="#44347e"/><circle cx="746.8" cy="367.9" r="5.6" fill="#45095c"/><circle cx="197.3" cy="564.7" r="5.6" fill="#435a89"/><circle cx="344.8" cy="589.1" r="5.6" fill="#424f89"/><circle cx="610.1" cy="294.2" r="5.6" fill="#450d5f"/><circle cx="730.9" cy="235.4" r="5.6" fill="#450c5e"/><circle cx="972.0" cy="389.4" r="5.6" fill="#424085"/><circle cx="391.7" cy="414.1" r="5.6" fill="#472877"/><circle cx="914.4" cy="386.2" r="5.6" fill="#460e61"/><circle cx="199.3" cy="614.2" r="5.6" fill="#446589"/><circle cx="386.5" cy="374.4" r="5.6" fill="#461365"/><circle cx="311.1" cy="451.5" r="5.6" fill="#433c82"/><circle cx="1060.3" cy="382.4" r="5.6" fill="#482475"/><circle cx="430.5" cy="380.3" r="5.6" fill="#440154"/><circle cx="756.3" cy="331.2" r="5.6" fill="#450b5d"/><circle cx="328.2" cy="539.8" r="5.6" fill="#425589"/><circle cx="937.1" cy="298.3" r="5.6" fill="#462d7a"/><circle cx="910.2" cy="200.4" r="5.6" fill="#450c5f"/><circle cx="1003.6" cy="315.0" r="5.6" fill="#472776"/><circle cx="362.3" cy="489.7" r="5.6" fill="#435789"/><circle cx="878.3" cy="392.1" r="5.6" fill="#461264"/><circle cx="413.1" cy="451.0" r="5.6" fill="#482475"/><circle cx="904.9" cy="266.1" r="5.6" fill="#471e6f"/><circle cx="843.8" cy="309.6" r="5.6" fill="#45095b"/><circle cx="974.8" cy="274.7" r="5.6" fill="#45327d"/><circle cx="936.8" cy="249.6" r="5.6" fill="#471d6e"/><circle cx="679.6" cy="268.1" r="5.6" fill="#461163"/><circle cx="418.1" cy="399.7" r="5.6" fill="#471c6e"/><circle cx="326.1" cy="506.3" r="5.6" fill="#414988"/><circle cx="756.3" cy="351.4" r="5.6" fill="#450b5d"/><circle cx="718.9" cy="282.1" r="5.6" fill="#471e6f"/><circle cx="834.2" cy="379.2" r="5.6" fill="#45095c"/><circle cx="308.1" cy="632.2" r="5.6" fill="#435789"/><circle cx="870.4" cy="259.7" r="5.6" fill="#461063"/><circle cx="511.9" cy="296.5" r="5.6" fill="#45075a"/><circle cx="968.8" cy="332.7" r="5.6" fill="#452f7b"/><circle cx="268.4" cy="608.7" r="5.6" fill="#456a89"/><circle cx="392.8" cy="567.7" r="5.6" fill="#446189"/><circle cx="933.7" cy="193.8" r="5.6" fill="#482071"/><circle cx="441.4" cy="403.7" r="5.6" fill="#414387"/><circle cx="313.2" cy="456.6" r="5.6" fill="#414687"/><circle cx="991.8" cy="465.3" r="5.6" fill="#47196b"/><circle cx="503.6" cy="352.2" r="5.6" fill="#462e7b"/><circle cx="680.3" cy="266.0" r="5.6" fill="#45075a"/><circle cx="436.8" cy="413.2" r="5.6" fill="#44367f"/><circle cx="946.3" cy="289.5" r="5.6" fill="#450d5f"/><circle cx="140.5" cy="471.4" r="5.6" fill="#482676"/><circle cx="729.5" cy="227.5" r="5.6" fill="#461062"/><circle cx="990.3" cy="315.2" r="5.6" fill="#482374"/><circle cx="826.7" cy="322.6" r="5.6" fill="#461264"/><circle cx="929.7" cy="175.1" r="5.6" fill="#461163"/><circle cx="391.3" cy="638.3" r="5.6" fill="#435d89"/><circle cx="487.6" cy="280.2" r="5.6" fill="#440154"/><circle cx="972.8" cy="344.3" r="5.6" fill="#482273"/><circle cx="463.5" cy="303.4" r="5.6" fill="#47196b"/><circle cx="166.3" cy="549.5" r="5.6" fill="#423f84"/><circle cx="1064.7" cy="431.5" r="5.6" fill="#461365"/><circle cx="409.3" cy="411.4" r="5.6" fill="#433b82"/><circle cx="571.5" cy="358.9" r="5.6" fill="#471b6d"/><circle cx="828.8" cy="321.3" r="5.6" fill="#450c5e"/><circle cx="487.5" cy="325.4" r="5.6" fill="#461667"/><circle cx="1011.2" cy="369.3" r="5.6" fill="#471d6e"/><circle cx="828.4" cy="233.9" r="5.6" fill="#450b5e"/><circle cx="767.2" cy="291.3" r="5.6" fill="#461062"/><circle cx="971.0" cy="432.9" r="5.6" fill="#44357f"/><circle cx="869.2" cy="372.3" r="5.6" fill="#471d6f"/><circle cx="1056.1" cy="597.7" r="5.6" fill="#462d7a"/><circle cx="260.5" cy="618.5" r="5.6" fill="#425289"/><circle cx="916.5" cy="199.0" r="5.6" fill="#461566"/><circle cx="342.3" cy="464.9" r="5.6" fill="#45307c"/><circle cx="434.0" cy="346.2" r="5.6" fill="#482576"/><circle cx="1048.7" cy="396.8" r="5.6" fill="#472b79"/><circle cx="740.6" cy="347.3" r="5.6" fill="#461264"/><circle cx="389.7" cy="588.7" r="5.6" fill="#414888"/><circle cx="876.3" cy="286.0" r="5.6" fill="#440255"/><circle cx="486.6" cy="388.6" r="5.6" fill="#462c79"/><circle cx="1016.3" cy="371.5" r="5.6" fill="#44367f"/><circle cx="1017.0" cy="366.9" r="5.6" fill="#472777"/><circle cx="770.3" cy="270.9" r="5.6" fill="#47196b"/><circle cx="339.2" cy="629.1" r="5.6" fill="#456789"/><circle cx="398.9" cy="408.2" r="5.6" fill="#471c6e"/><circle cx="472.2" cy="366.9" r="5.6" fill="#461062"/><circle cx="296.9" cy="457.5" r="5.6" fill="#433b82"/><circle cx="729.5" cy="207.9" r="5.6" fill="#440356"/><circle cx="1010.6" cy="351.4" r="5.6" fill="#472a78"/><circle cx="277.2" cy="617.7" r="5.6" fill="#445f89"/><circle cx="864.6" cy="350.0" r="5.6" fill="#482071"/><circle cx="866.2" cy="378.5" r="5.6" fill="#461668"/><circle cx="1054.3" cy="371.7" r="5.6" fill="#482071"/><circle cx="150.0" cy="508.2" r="5.6" fill="#446489"/><circle cx="368.6" cy="476.1" r="5.6" fill="#445f89"/><circle cx="827.8" cy="244.6" r="5.6" fill="#45085a"/><circle cx="761.1" cy="338.6" r="5.6" fill="#440255"/><circle cx="557.9" cy="319.7" r="5.6" fill="#461264"/><circle cx="556.0" cy="344.9" r="5.6" fill="#461163"/><circle cx="218.1" cy="544.5" r="5.6" fill="#44357f"/><circle cx="974.0" cy="302.3" r="5.6" fill="#472777"/><circle cx="921.3" cy="174.3" r="5.6" fill="#47196a"/><circle cx="890.0" cy="226.2" r="5.6" fill="#460e60"/><circle cx="267.8" cy="557.2" r="5.6" fill="#414587"/><circle cx="988.2" cy="464.4" r="5.6" fill="#461567"/><circle cx="1072.0" cy="489.5" r="5.6" fill="#471b6d"/><circle cx="1047.1" cy="410.6" r="5.6" fill="#462d7a"/><circle cx="880.7" cy="237.1" r="5.6" fill="#450a5c"/><circle cx="845.3" cy="297.7" r="5.6" fill="#45085b"/><circle cx="949.0" cy="299.4" r="5.6" fill="#47186a"/><circle cx="757.8" cy="256.3" r="5.6" fill="#461062"/><circle cx="461.3" cy="399.1" r="5.6" fill="#450a5c"/><circle cx="913.2" cy="390.5" r="5.6" fill="#461466"/><circle cx="321.4" cy="516.3" r="5.6" fill="#456e89"/><circle cx="1006.0" cy="337.2" r="5.6" fill="#482072"/><circle cx="971.2" cy="358.4" r="5.6" fill="#462f7b"/><circle cx="1013.7" cy="274.2" r="5.6" fill="#450a5d"/><circle cx="1062.4" cy="597.7" r="5.6" fill="#44347e"/><circle cx="472.1" cy="332.5" r="5.6" fill="#471769"/><circle cx="320.2" cy="566.9" r="5.6" fill="#456789"/><circle cx="656.0" cy="279.8" r="5.6" fill="#45095b"/><circle cx="939.2" cy="383.9" r="5.6" fill="#440154"/><circle cx="408.1" cy="559.2" r="5.6" fill="#446189"/><circle cx="774.0" cy="277.0" r="5.6" fill="#440154"/><circle cx="946.9" cy="248.6" r="5.6" fill="#482374"/><circle cx="473.5" cy="356.3" r="5.6" fill="#461466"/><circle cx="862.7" cy="228.5" r="5.6" fill="#461264"/><circle cx="1076.2" cy="535.8" r="5.6" fill="#472877"/><circle cx="225.5" cy="534.9" r="5.6" fill="#435789"/><circle cx="951.0" cy="211.7" r="5.6" fill="#450d5f"/><circle cx="477.7" cy="287.4" r="5.6" fill="#450c5f"/><circle cx="287.9" cy="559.8" r="5.6" fill="#435889"/><circle cx="1002.2" cy="318.5" r="5.6" fill="#482475"/><circle cx="710.3" cy="275.2" r="5.6" fill="#461768"/><circle cx="954.1" cy="245.9" r="5.6" fill="#482475"/><circle cx="801.3" cy="319.8" r="5.6" fill="#460f61"/><circle cx="581.2" cy="308.9" r="5.6" fill="#450d5f"/><circle cx="392.9" cy="462.4" r="5.6" fill="#45317d"/><circle cx="214.0" cy="580.8" r="5.6" fill="#425389"/><circle cx="1057.7" cy="527.0" r="5.6" fill="#452f7b"/><circle cx="153.3" cy="557.2" r="5.6" fill="#414b88"/><circle cx="403.7" cy="445.8" r="5.6" fill="#462c79"/><circle cx="276.3" cy="523.9" r="5.6" fill="#462c7a"/><circle cx="965.4" cy="462.4" r="5.6" fill="#461365"/><circle cx="937.9" cy="228.6" r="5.6" fill="#450659"/><circle cx="388.6" cy="448.2" r="5.6" fill="#414a88"/><circle cx="892.5" cy="221.1" r="5.6" fill="#45075a"/><circle cx="520.2" cy="305.1" r="5.6" fill="#45095c"/><circle cx="900.2" cy="293.3" r="5.6" fill="#450e60"/><circle cx="322.9" cy="610.1" r="5.6" fill="#425489"/><circle cx="1063.1" cy="397.9" r="5.6" fill="#482374"/><circle cx="924.8" cy="232.0" r="5.6" fill="#461062"/><circle cx="867.7" cy="345.0" r="5.6" fill="#47196b"/><circle cx="465.3" cy="285.3" r="5.6" fill="#461365"/><circle cx="625.1" cy="302.1" r="5.6" fill="#45095b"/><circle cx="426.3" cy="314.9" r="5.6" fill="#45095b"/><circle cx="284.6" cy="564.3" r="5.6" fill="#446089"/><circle cx="250.5" cy="592.8" r="5.6" fill="#425289"/><circle cx="638.1" cy="280.2" r="5.6" fill="#460f61"/><circle cx="274.7" cy="532.1" r="5.6" fill="#424b88"/><circle cx="906.2" cy="189.2" r="5.6" fill="#45095b"/><circle cx="1015.0" cy="327.6" r="5.6" fill="#482071"/><circle cx="840.5" cy="361.8" r="5.6" fill="#461062"/><circle cx="903.2" cy="241.9" r="5.6" fill="#461365"/><circle cx="1072.2" cy="353.1" r="5.6" fill="#482273"/><circle cx="811.3" cy="382.8" r="5.6" fill="#461264"/><circle cx="732.0" cy="245.6" r="5.6" fill="#450d5f"/><circle cx="759.2" cy="321.3" r="5.6" fill="#450659"/><circle cx="282.5" cy="526.1" r="5.6" fill="#443880"/><circle cx="422.0" cy="391.3" r="5.6" fill="#471e6f"/><circle cx="980.2" cy="467.8" r="5.6" fill="#440154"/><circle cx="398.6" cy="424.7" r="5.6" fill="#472877"/><circle cx="811.3" cy="270.9" r="5.6" fill="#461365"/><circle cx="752.4" cy="373.0" r="5.6" fill="#461365"/><circle cx="991.8" cy="335.6" r="5.6" fill="#482072"/><circle cx="308.2" cy="597.3" r="5.6" fill="#425089"/><circle cx="401.4" cy="512.7" r="5.6" fill="#433b82"/><circle cx="768.3" cy="327.3" r="5.6" fill="#461062"/><circle cx="548.6" cy="315.6" r="5.6" fill="#461163"/><circle cx="921.2" cy="290.8" r="5.6" fill="#471769"/><circle cx="242.9" cy="509.7" r="5.6" fill="#414487"/><circle cx="983.8" cy="341.0" r="5.6" fill="#482576"/><circle cx="841.9" cy="204.6" r="5.6" fill="#440557"/><circle cx="315.5" cy="521.8" r="5.6" fill="#414988"/><circle cx="282.8" cy="500.5" r="5.6" fill="#472978"/><circle cx="951.0" cy="199.4" r="5.6" fill="#461163"/><circle cx="752.1" cy="371.9" r="5.6" fill="#45085b"/><circle cx="539.8" cy="323.2" r="5.6" fill="#45075a"/><circle cx="430.5" cy="297.8" r="5.6" fill="#482071"/><circle cx="879.8" cy="224.3" r="5.6" fill="#460f62"/><circle cx="505.9" cy="342.6" r="5.6" fill="#471d6f"/><circle cx="428.8" cy="343.2" r="5.6" fill="#482475"/><circle cx="1013.2" cy="385.8" r="5.6" fill="#482575"/><circle cx="821.6" cy="370.1" r="5.6" fill="#461567"/><circle cx="239.1" cy="494.2" r="5.6" fill="#456789"/><circle cx="927.6" cy="316.0" r="5.6" fill="#450e60"/><circle cx="771.2" cy="316.8" r="5.6" fill="#440356"/><circle cx="924.4" cy="393.8" r="5.6" fill="#461062"/><circle cx="819.1" cy="271.4" r="5.6" fill="#461567"/><circle cx="881.1" cy="263.8" r="5.6" fill="#460e61"/><circle cx="802.9" cy="309.2" r="5.6" fill="#460f61"/><circle cx="400.6" cy="495.0" r="5.6" fill="#433b82"/><circle cx="976.8" cy="469.7" r="5.6" fill="#472676"/><circle cx="743.0" cy="327.8" r="5.6" fill="#461062"/><circle cx="891.5" cy="244.9" r="5.6" fill="#461365"/><circle cx="824.9" cy="374.1" r="5.6" fill="#461365"/><circle cx="764.6" cy="255.8" r="5.6" fill="#45095c"/><circle cx="256.8" cy="543.4" r="5.6" fill="#424185"/><circle cx="390.8" cy="412.9" r="5.6" fill="#461567"/><circle cx="621.2" cy="299.7" r="5.6" fill="#47186a"/><circle cx="346.4" cy="607.9" r="5.6" fill="#477a89"/><circle cx="426.1" cy="329.1" r="5.6" fill="#450e60"/><circle cx="988.5" cy="296.7" r="5.6" fill="#471d6e"/><circle cx="804.8" cy="291.5" r="5.6" fill="#440457"/><circle cx="257.1" cy="601.4" r="5.6" fill="#477c89"/><circle cx="894.3" cy="349.6" r="5.6" fill="#440255"/><circle cx="1007.7" cy="458.4" r="5.6" fill="#461567"/><circle cx="818.1" cy="264.3" r="5.6" fill="#450b5d"/><circle cx="479.5" cy="268.8" r="5.6" fill="#440255"/><circle cx="913.8" cy="210.4" r="5.6" fill="#45085a"/><circle cx="630.2" cy="297.7" r="5.6" fill="#450a5d"/><circle cx="208.1" cy="620.2" r="5.6" fill="#446589"/><circle cx="1063.8" cy="330.5" r="5.6" fill="#45317c"/><circle cx="192.4" cy="590.9" r="5.6" fill="#498289"/><circle cx="946.3" cy="189.9" r="5.6" fill="#440558"/><circle cx="579.2" cy="303.4" r="5.6" fill="#45095b"/><circle cx="814.7" cy="372.1" r="5.6" fill="#45085a"/><circle cx="358.0" cy="486.0" r="5.6" fill="#477a89"/><circle cx="1065.7" cy="337.6" r="5.6" fill="#450b5e"/><circle cx="836.7" cy="347.3" r="5.6" fill="#461264"/><circle cx="696.2" cy="318.8" r="5.6" fill="#461063"/><circle cx="275.7" cy="597.6" r="5.6" fill="#456f89"/><circle cx="1052.4" cy="401.3" r="5.6" fill="#472071"/><circle cx="1007.0" cy="264.9" r="5.6" fill="#47186a"/><circle cx="1084.9" cy="475.4" r="5.6" fill="#433981"/><circle cx="910.4" cy="315.2" r="5.6" fill="#45095b"/><circle cx="972.8" cy="372.4" r="5.6" fill="#482374"/><circle cx="326.1" cy="466.1" r="5.6" fill="#414888"/><circle cx="722.5" cy="298.3" r="5.6" fill="#450a5c"/><circle cx="866.0" cy="372.1" r="5.6" fill="#45085b"/><circle cx="464.8" cy="279.7" r="5.6" fill="#461668"/><circle cx="473.1" cy="404.4" r="5.6" fill="#461062"/><circle cx="1066.9" cy="527.1" r="5.6" fill="#482374"/><circle cx="1014.7" cy="346.7" r="5.6" fill="#460f61"/><circle cx="886.8" cy="208.4" r="5.6" fill="#45095c"/><circle cx="293.3" cy="570.3" r="5.6" fill="#435a89"/><circle cx="764.6" cy="329.9" r="5.6" fill="#440154"/><circle cx="332.3" cy="560.8" r="5.6" fill="#446089"/><circle cx="936.1" cy="231.7" r="5.6" fill="#440356"/><circle cx="658.6" cy="354.8" r="5.6" fill="#461062"/><circle cx="896.0" cy="243.7" r="5.6" fill="#461264"/><circle cx="687.1" cy="260.5" r="5.6" fill="#450659"/><circle cx="998.4" cy="361.0" r="5.6" fill="#471b6c"/><circle cx="980.9" cy="345.3" r="5.6" fill="#482072"/><circle cx="220.9" cy="622.5" r="5.6" fill="#467189"/><circle cx="917.4" cy="198.1" r="5.6" fill="#45095b"/><circle cx="1064.4" cy="538.5" r="5.6" fill="#472a78"/><circle cx="433.4" cy="359.1" r="5.6" fill="#462c7a"/><circle cx="258.4" cy="607.5" r="5.6" fill="#467589"/><circle cx="1050.6" cy="342.5" r="5.6" fill="#482475"/><circle cx="273.0" cy="558.0" r="5.6" fill="#435a89"/><circle cx="748.9" cy="369.8" r="5.6" fill="#460f61"/><circle cx="397.2" cy="414.4" r="5.6" fill="#471c6d"/><circle cx="945.2" cy="345.4" r="5.6" fill="#471a6c"/><circle cx="1054.9" cy="456.6" r="5.6" fill="#462e7b"/><circle cx="317.4" cy="627.7" r="5.6" fill="#456c89"/><circle cx="913.5" cy="303.5" r="5.6" fill="#45095c"/><circle cx="165.7" cy="450.3" r="5.6" fill="#443880"/><circle cx="387.7" cy="448.4" r="5.6" fill="#482576"/><circle cx="1009.7" cy="317.9" r="5.6" fill="#45095b"/><circle cx="664.7" cy="249.8" r="5.6" fill="#461466"/><circle cx="815.2" cy="279.6" r="5.6" fill="#461163"/><circle cx="1001.9" cy="399.3" r="5.6" fill="#482273"/><circle cx="403.5" cy="516.1" r="5.6" fill="#45337e"/><circle cx="548.0" cy="317.9" r="5.6" fill="#450a5d"/><circle cx="1075.5" cy="385.3" r="5.6" fill="#462e7b"/><circle cx="316.0" cy="482.0" r="5.6" fill="#45317c"/><circle cx="1070.8" cy="559.4" r="5.6" fill="#482172"/><circle cx="389.0" cy="591.2" r="5.6" fill="#425489"/><circle cx="260.4" cy="462.0" r="5.6" fill="#471f71"/><circle cx="1004.6" cy="316.6" r="5.6" fill="#462d7a"/><circle cx="212.2" cy="619.6" r="5.6" fill="#456989"/><circle cx="1008.5" cy="335.4" r="5.6" fill="#47186a"/><circle cx="273.3" cy="537.8" r="5.6" fill="#446489"/><circle cx="494.9" cy="272.8" r="5.6" fill="#440154"/><circle cx="297.7" cy="637.2" r="5.6" fill="#467889"/><circle cx="631.4" cy="361.5" r="5.6" fill="#47196a"/><circle cx="875.9" cy="236.5" r="5.6" fill="#450d5f"/><circle cx="423.0" cy="376.6" r="5.6" fill="#482374"/><circle cx="264.8" cy="555.9" r="5.6" fill="#424186"/><circle cx="832.8" cy="300.1" r="5.6" fill="#45085b"/><circle cx="279.2" cy="562.7" r="5.6" fill="#456f89"/><circle cx="816.6" cy="235.4" r="5.6" fill="#450e60"/><circle cx="555.3" cy="311.3" r="5.6" fill="#440356"/><circle cx="961.9" cy="423.7" r="5.6" fill="#472676"/><circle cx="906.1" cy="289.3" r="5.6" fill="#450c5e"/><circle cx="568.5" cy="315.2" r="5.6" fill="#461264"/><circle cx="946.4" cy="285.8" r="5.6" fill="#47186a"/><circle cx="917.9" cy="318.1" r="5.6" fill="#450558"/><circle cx="674.0" cy="247.3" r="5.6" fill="#450c5e"/><circle cx="1007.4" cy="353.7" r="5.6" fill="#472776"/><circle cx="392.4" cy="412.8" r="5.6" fill="#440154"/><circle cx="173.0" cy="491.1" r="5.6" fill="#424b88"/><circle cx="821.0" cy="329.5" r="5.6" fill="#450c5f"/><circle cx="1081.2" cy="508.7" r="5.6" fill="#433c83"/><circle cx="976.5" cy="467.8" r="5.6" fill="#471d6e"/><circle cx="759.9" cy="361.1" r="5.6" fill="#450c5e"/><circle cx="306.0" cy="461.9" r="5.6" fill="#414386"/><circle cx="1019.4" cy="278.7" r="5.6" fill="#482374"/><circle cx="941.7" cy="207.1" r="5.6" fill="#461567"/><circle cx="1004.2" cy="435.6" r="5.6" fill="#45095c"/><circle cx="418.3" cy="431.7" r="5.6" fill="#440356"/><circle cx="414.4" cy="396.4" r="5.6" fill="#45337d"/><circle cx="884.9" cy="242.1" r="5.6" fill="#471b6d"/><circle cx="282.1" cy="558.0" r="5.6" fill="#414988"/><circle cx="418.9" cy="549.1" r="5.6" fill="#424f89"/><circle cx="166.0" cy="585.0" r="5.6" fill="#433b82"/><circle cx="463.3" cy="293.3" r="5.6" fill="#440255"/><circle cx="315.1" cy="523.9" r="5.6" fill="#414787"/><circle cx="979.0" cy="378.2" r="5.6" fill="#471a6b"/><circle cx="687.9" cy="273.7" r="5.6" fill="#461667"/><circle cx="817.4" cy="222.2" r="5.6" fill="#461466"/><circle cx="745.9" cy="287.8" r="5.6" fill="#461062"/><circle cx="209.3" cy="567.5" r="5.6" fill="#457089"/><circle cx="195.2" cy="586.5" r="5.6" fill="#446689"/><circle cx="919.1" cy="185.1" r="5.6" fill="#440154"/><circle cx="747.0" cy="237.9" r="5.6" fill="#45095c"/><circle cx="324.4" cy="592.8" r="5.6" fill="#477989"/><circle cx="414.3" cy="537.1" r="5.6" fill="#414b88"/><circle cx="874.5" cy="333.6" r="5.6" fill="#461365"/><circle cx="876.5" cy="307.3" r="5.6" fill="#45307c"/><circle cx="402.6" cy="455.6" r="5.6" fill="#423f84"/><circle cx="302.3" cy="482.1" r="5.6" fill="#433d83"/><circle cx="632.9" cy="288.5" r="5.6" fill="#440154"/><circle cx="483.0" cy="349.4" r="5.6" fill="#471f70"/><circle cx="1016.4" cy="268.6" r="5.6" fill="#45327d"/><circle cx="479.1" cy="316.0" r="5.6" fill="#440255"/><circle cx="753.0" cy="391.8" r="5.6" fill="#450e60"/><circle cx="955.1" cy="223.1" r="5.6" fill="#461062"/><circle cx="234.5" cy="487.6" r="5.6" fill="#425189"/><circle cx="1076.4" cy="520.9" r="5.6" fill="#472877"/><circle cx="403.5" cy="600.0" r="5.6" fill="#446189"/><circle cx="687.3" cy="252.0" r="5.6" fill="#450659"/><circle cx="313.1" cy="622.3" r="5.6" fill="#435d89"/><circle cx="155.7" cy="516.6" r="5.6" fill="#435689"/><circle cx="399.2" cy="348.3" r="5.6" fill="#462c79"/><circle cx="936.8" cy="309.1" r="5.6" fill="#461163"/><circle cx="268.1" cy="587.1" r="5.6" fill="#435889"/><circle cx="831.4" cy="284.5" r="5.6" fill="#450c5f"/><circle cx="966.4" cy="404.1" r="5.6" fill="#482475"/><circle cx="494.2" cy="347.3" r="5.6" fill="#471f71"/><circle cx="764.1" cy="260.2" r="5.6" fill="#461062"/><circle cx="402.5" cy="366.5" r="5.6" fill="#440356"/><circle cx="680.8" cy="298.5" r="5.6" fill="#47196a"/><circle cx="1020.7" cy="319.7" r="5.6" fill="#482374"/><circle cx="454.2" cy="330.0" r="5.6" fill="#482374"/><circle cx="467.3" cy="376.7" r="5.6" fill="#482071"/><circle cx="982.3" cy="251.8" r="5.6" fill="#482273"/><circle cx="690.8" cy="295.0" r="5.6" fill="#461163"/><circle cx="775.9" cy="244.8" r="5.6" fill="#450c5f"/><circle cx="721.0" cy="273.6" r="5.6" fill="#460e61"/><circle cx="504.8" cy="317.7" r="5.6" fill="#450a5d"/><circle cx="291.0" cy="544.5" r="5.6" fill="#435a89"/><circle cx="945.5" cy="305.7" r="5.6" fill="#482172"/><circle cx="688.7" cy="304.6" r="5.6" fill="#450c5e"/><circle cx="838.5" cy="244.6" r="5.6" fill="#45095c"/><circle cx="938.3" cy="240.7" r="5.6" fill="#460f61"/><circle cx="903.9" cy="224.4" r="5.6" fill="#461063"/><circle cx="1016.3" cy="371.3" r="5.6" fill="#461466"/><circle cx="829.2" cy="191.7" r="5.6" fill="#450c5e"/><circle cx="905.4" cy="240.1" r="5.6" fill="#461062"/><circle cx="424.9" cy="341.2" r="5.6" fill="#461768"/><circle cx="476.0" cy="359.4" r="5.6" fill="#440154"/><circle cx="476.2" cy="359.8" r="5.6" fill="#44367f"/><circle cx="998.6" cy="456.3" r="5.6" fill="#471b6c"/><circle cx="436.9" cy="349.0" r="5.6" fill="#461163"/><circle cx="163.7" cy="521.8" r="5.6" fill="#425489"/><circle cx="980.9" cy="297.2" r="5.6" fill="#471d6e"/><circle cx="904.6" cy="210.7" r="5.6" fill="#45075a"/><circle cx="892.8" cy="388.6" r="5.6" fill="#482172"/><circle cx="994.2" cy="372.8" r="5.6" fill="#471a6b"/><circle cx="477.5" cy="298.0" r="5.6" fill="#461163"/><circle cx="988.4" cy="471.8" r="5.6" fill="#47196a"/><circle cx="633.2" cy="352.2" r="5.6" fill="#450c5f"/><circle cx="692.5" cy="262.4" r="5.6" fill="#450b5d"/><circle cx="479.8" cy="284.7" r="5.6" fill="#461163"/><circle cx="1014.8" cy="409.4" r="5.6" fill="#471f70"/><circle cx="156.3" cy="585.8" r="5.6" fill="#414687"/><circle cx="508.7" cy="294.7" r="5.6" fill="#45085a"/><circle cx="1046.6" cy="418.6" r="5.6" fill="#482676"/><circle cx="883.6" cy="310.7" r="5.6" fill="#450e60"/><circle cx="886.5" cy="240.3" r="5.6" fill="#461163"/><circle cx="536.5" cy="329.1" r="5.6" fill="#461566"/><circle cx="680.6" cy="275.1" r="5.6" fill="#450a5d"/><circle cx="396.8" cy="484.6" r="5.6" fill="#424d88"/><circle cx="1013.9" cy="396.0" r="5.6" fill="#471e70"/><circle cx="292.7" cy="625.8" r="5.6" fill="#467489"/><circle cx="974.2" cy="415.0" r="5.6" fill="#482173"/><circle cx="262.4" cy="600.8" r="5.6" fill="#446489"/><circle cx="1047.0" cy="419.6" r="5.6" fill="#482676"/><circle cx="844.2" cy="277.3" r="5.6" fill="#461264"/><circle cx="391.6" cy="531.1" r="5.6" fill="#435d89"/><circle cx="748.2" cy="220.6" r="5.6" fill="#450d5f"/><circle cx="171.8" cy="471.9" r="5.6" fill="#433c83"/><circle cx="996.3" cy="422.7" r="5.6" fill="#482273"/><circle cx="651.7" cy="351.3" r="5.6" fill="#440154"/><circle cx="882.2" cy="387.4" r="5.6" fill="#45085b"/><circle cx="323.2" cy="519.7" r="5.6" fill="#425289"/><circle cx="937.9" cy="307.3" r="5.6" fill="#461567"/><circle cx="887.9" cy="394.8" r="5.6" fill="#440457"/><circle cx="952.1" cy="292.9" r="5.6" fill="#471869"/><circle cx="847.8" cy="205.2" r="5.6" fill="#461466"/><circle cx="1056.2" cy="414.3" r="5.6" fill="#472b79"/><circle cx="921.4" cy="287.4" r="5.6" fill="#450e60"/><circle cx="1063.8" cy="483.7" r="5.6" fill="#44367f"/><circle cx="771.6" cy="304.2" r="5.6" fill="#461466"/><circle cx="813.5" cy="334.1" r="5.6" fill="#440255"/><circle cx="980.5" cy="405.8" r="5.6" fill="#47186a"/><circle cx="965.0" cy="423.5" r="5.6" fill="#462c7a"/><circle cx="769.2" cy="245.4" r="5.6" fill="#460f62"/><circle cx="844.3" cy="234.4" r="5.6" fill="#450659"/><circle cx="940.7" cy="262.2" r="5.6" fill="#471b6d"/><circle cx="280.1" cy="587.8" r="5.6" fill="#446289"/><circle cx="865.7" cy="389.9" r="5.6" fill="#450c5e"/><circle cx="1067.7" cy="363.3" r="5.6" fill="#482374"/><circle cx="296.8" cy="588.8" r="5.6" fill="#414a88"/><circle cx="866.3" cy="259.6" r="5.6" fill="#461668"/><circle cx="1066.0" cy="353.8" r="5.6" fill="#47196a"/><circle cx="223.8" cy="602.8" r="5.6" fill="#467489"/><circle cx="747.9" cy="342.6" r="5.6" fill="#45095b"/><circle cx="226.8" cy="519.7" r="5.6" fill="#44347e"/><circle cx="265.5" cy="477.5" r="5.6" fill="#424186"/><circle cx="767.1" cy="255.4" r="5.6" fill="#450a5d"/><circle cx="775.6" cy="249.9" r="5.6" fill="#440356"/><circle cx="845.0" cy="305.1" r="5.6" fill="#461466"/><circle cx="389.8" cy="381.0" r="5.6" fill="#471c6d"/><circle cx="282.8" cy="594.3" r="5.6" fill="#456d89"/><circle cx="462.8" cy="417.0" r="5.6" fill="#482374"/><circle cx="401.2" cy="414.6" r="5.6" fill="#471a6b"/><circle cx="510.4" cy="360.6" r="5.6" fill="#47196b"/><circle cx="935.2" cy="402.8" r="5.6" fill="#482374"/><circle cx="725.6" cy="281.6" r="5.6" fill="#461062"/><circle cx="936.5" cy="307.5" r="5.6" fill="#461163"/><circle cx="812.2" cy="275.0" r="5.6" fill="#461365"/><circle cx="843.4" cy="287.6" r="5.6" fill="#450c5f"/><circle cx="1016.6" cy="356.8" r="5.6" fill="#462e7b"/><circle cx="952.4" cy="260.1" r="5.6" fill="#461062"/><circle cx="947.3" cy="394.0" r="5.6" fill="#471d6e"/><circle cx="884.3" cy="215.0" r="5.6" fill="#461567"/><circle cx="863.5" cy="227.2" r="5.6" fill="#460e60"/><circle cx="768.7" cy="272.3" r="5.6" fill="#440154"/><circle cx="407.7" cy="484.6" r="5.6" fill="#423f84"/><circle cx="896.7" cy="241.7" r="5.6" fill="#461466"/><circle cx="509.0" cy="373.3" r="5.6" fill="#482374"/><circle cx="307.3" cy="599.4" r="5.6" fill="#424c88"/><circle cx="146.6" cy="445.2" r="5.6" fill="#462c79"/><circle cx="199.5" cy="557.6" r="5.6" fill="#425289"/><circle cx="214.7" cy="581.8" r="5.6" fill="#446189"/><circle cx="327.2" cy="446.4" r="5.6" fill="#45337e"/><circle cx="816.6" cy="219.1" r="5.6" fill="#461567"/><circle cx="312.6" cy="513.6" r="5.6" fill="#435e89"/><circle cx="161.5" cy="584.9" r="5.6" fill="#435889"/><circle cx="488.4" cy="351.0" r="5.6" fill="#433c82"/><circle cx="986.0" cy="380.4" r="5.6" fill="#471b6c"/><circle cx="293.6" cy="634.2" r="5.6" fill="#488189"/><circle cx="1070.6" cy="414.8" r="5.6" fill="#45095b"/><circle cx="489.8" cy="273.7" r="5.6" fill="#450b5d"/><circle cx="411.8" cy="473.9" r="5.6" fill="#433b82"/><circle cx="425.5" cy="293.9" r="5.6" fill="#460f61"/><circle cx="253.1" cy="530.5" r="5.6" fill="#414487"/><circle cx="144.8" cy="558.1" r="5.6" fill="#424f89"/><circle cx="870.2" cy="226.0" r="5.6" fill="#440154"/><circle cx="631.8" cy="320.7" r="5.6" fill="#450b5e"/><circle cx="712.0" cy="291.1" r="5.6" fill="#440457"/><circle cx="732.5" cy="207.5" r="5.6" fill="#461062"/><circle cx="736.2" cy="248.3" r="5.6" fill="#461163"/><circle cx="319.6" cy="594.7" r="5.6" fill="#446189"/><circle cx="991.1" cy="305.4" r="5.6" fill="#472877"/><circle cx="982.5" cy="280.6" r="5.6" fill="#471c6d"/><circle cx="696.1" cy="292.9" r="5.6" fill="#450d5f"/><circle cx="765.2" cy="356.8" r="5.6" fill="#440154"/><circle cx="927.4" cy="329.4" r="5.6" fill="#471c6d"/><circle cx="1073.4" cy="476.3" r="5.6" fill="#44377f"/><circle cx="1089.3" cy="540.9" r="5.6" fill="#461668"/><circle cx="755.3" cy="367.6" r="5.6" fill="#471b6d"/><circle cx="1076.7" cy="416.8" r="5.6" fill="#45317c"/><circle cx="495.6" cy="368.8" r="5.6" fill="#450a5d"/><circle cx="281.7" cy="450.5" r="5.6" fill="#424d88"/><circle cx="690.1" cy="258.6" r="5.6" fill="#450b5d"/><circle cx="905.6" cy="396.9" r="5.6" fill="#461466"/><circle cx="1054.2" cy="359.0" r="5.6" fill="#472a78"/><circle cx="771.1" cy="245.2" r="5.6" fill="#440356"/><circle cx="481.1" cy="331.6" r="5.6" fill="#440356"/><circle cx="765.4" cy="270.3" r="5.6" fill="#450659"/><circle cx="758.2" cy="274.3" r="5.6" fill="#450e60"/><circle cx="1079.7" cy="452.4" r="5.6" fill="#472877"/><circle cx="652.9" cy="259.4" r="5.6" fill="#450c5f"/><circle cx="234.7" cy="634.3" r="5.6" fill="#456f89"/><circle cx="397.4" cy="382.9" r="5.6" fill="#461062"/><circle cx="641.6" cy="280.2" r="5.6" fill="#440456"/><circle cx="271.9" cy="566.5" r="5.6" fill="#435b89"/><circle cx="610.6" cy="363.6" r="5.6" fill="#461264"/><circle cx="565.5" cy="356.9" r="5.6" fill="#45075a"/><circle cx="870.4" cy="219.6" r="5.6" fill="#450a5d"/><circle cx="983.6" cy="344.8" r="5.6" fill="#462d7a"/><circle cx="814.2" cy="268.8" r="5.6" fill="#461668"/><circle cx="209.3" cy="569.1" r="5.6" fill="#414a88"/><circle cx="251.1" cy="602.3" r="5.6" fill="#445e89"/><circle cx="494.7" cy="348.9" r="5.6" fill="#471a6c"/><circle cx="289.5" cy="556.5" r="5.6" fill="#425189"/><circle cx="635.1" cy="279.3" r="5.6" fill="#450d5f"/><circle cx="437.4" cy="308.7" r="5.6" fill="#450759"/><circle cx="172.5" cy="568.4" r="5.6" fill="#414687"/><circle cx="802.3" cy="333.8" r="5.6" fill="#460f61"/><circle cx="735.6" cy="335.1" r="5.6" fill="#450b5e"/><circle cx="1011.5" cy="374.5" r="5.6" fill="#482475"/><circle cx="805.3" cy="282.9" r="5.6" fill="#440356"/><circle cx="1079.8" cy="434.7" r="5.6" fill="#482576"/><circle cx="984.0" cy="376.3" r="5.6" fill="#462c79"/><circle cx="399.0" cy="485.7" r="5.6" fill="#424b88"/><circle cx="470.7" cy="352.7" r="5.6" fill="#460f61"/><circle cx="339.6" cy="500.4" r="5.6" fill="#443880"/><circle cx="948.6" cy="250.7" r="5.6" fill="#471b6d"/><circle cx="712.9" cy="319.3" r="5.6" fill="#450d5f"/><circle cx="812.5" cy="275.1" r="5.6" fill="#450b5d"/><circle cx="389.7" cy="364.0" r="5.6" fill="#482576"/><circle cx="404.9" cy="506.6" r="5.6" fill="#414487"/><circle cx="496.4" cy="363.8" r="5.6" fill="#450c5e"/><circle cx="288.9" cy="599.7" r="5.6" fill="#467389"/><circle cx="689.4" cy="343.8" r="5.6" fill="#461466"/><circle cx="917.6" cy="161.8" r="5.6" fill="#450d5f"/><circle cx="680.0" cy="344.4" r="5.6" fill="#450d60"/><circle cx="995.6" cy="331.6" r="5.6" fill="#482273"/><circle cx="456.1" cy="418.5" r="5.6" fill="#45337d"/><circle cx="333.6" cy="460.9" r="5.6" fill="#456a89"/><circle cx="457.9" cy="414.5" r="5.6" fill="#47196a"/><circle cx="890.3" cy="222.8" r="5.6" fill="#440457"/><circle cx="499.0" cy="362.5" r="5.6" fill="#440457"/><circle cx="753.4" cy="379.2" r="5.6" fill="#450c5e"/><circle cx="442.9" cy="296.5" r="5.6" fill="#482273"/><circle cx="485.2" cy="308.3" r="5.6" fill="#440154"/><circle cx="761.4" cy="362.8" r="5.6" fill="#461264"/><circle cx="275.1" cy="597.9" r="5.6" fill="#467589"/><circle cx="604.7" cy="363.8" r="5.6" fill="#461365"/><circle cx="317.5" cy="452.8" r="5.6" fill="#472777"/><circle cx="500.1" cy="344.7" r="5.6" fill="#45085b"/><circle cx="1059.4" cy="366.5" r="5.6" fill="#461667"/><circle cx="177.4" cy="474.3" r="5.6" fill="#424b88"/><circle cx="973.7" cy="387.5" r="5.6" fill="#471f71"/><circle cx="402.4" cy="431.8" r="5.6" fill="#44347e"/><circle cx="663.7" cy="260.1" r="5.6" fill="#45095c"/><circle cx="979.2" cy="305.4" r="5.6" fill="#462f7b"/><circle cx="741.0" cy="221.4" r="5.6" fill="#440154"/><circle cx="939.4" cy="314.6" r="5.6" fill="#471b6d"/><circle cx="840.5" cy="230.3" r="5.6" fill="#440356"/><circle cx="967.4" cy="295.4" r="5.6" fill="#47186a"/><circle cx="1059.6" cy="411.1" r="5.6" fill="#482575"/><circle cx="450.9" cy="425.9" r="5.6" fill="#45327d"/><circle cx="195.6" cy="488.9" r="5.6" fill="#414587"/><circle cx="979.5" cy="470.7" r="5.6" fill="#433a81"/><circle cx="445.0" cy="391.0" r="5.6" fill="#45337d"/><circle cx="867.3" cy="339.2" r="5.6" fill="#471d6e"/><circle cx="863.5" cy="330.0" r="5.6" fill="#450a5d"/><circle cx="1002.4" cy="374.9" r="5.6" fill="#471a6b"/><circle cx="833.5" cy="375.1" r="5.6" fill="#460f61"/><circle cx="1059.1" cy="359.0" r="5.6" fill="#472978"/><circle cx="684.9" cy="261.6" r="5.6" fill="#45085a"/><circle cx="279.3" cy="580.3" r="5.6" fill="#425689"/><circle cx="223.9" cy="513.7" r="5.6" fill="#414787"/><circle cx="208.6" cy="450.4" r="5.6" fill="#456889"/><circle cx="979.3" cy="304.5" r="5.6" fill="#472978"/><circle cx="210.7" cy="541.7" r="5.6" fill="#414988"/><circle cx="749.0" cy="244.1" r="5.6" fill="#45085b"/><circle cx="746.5" cy="210.2" r="5.6" fill="#450a5d"/><circle cx="839.8" cy="313.4" r="5.6" fill="#45085b"/><circle cx="831.4" cy="187.9" r="5.6" fill="#47196a"/><circle cx="1081.6" cy="508.0" r="5.6" fill="#414587"/><circle cx="293.0" cy="476.3" r="5.6" fill="#435e89"/><circle cx="941.9" cy="191.8" r="5.6" fill="#460e61"/><circle cx="711.1" cy="284.1" r="5.6" fill="#461264"/><circle cx="973.4" cy="411.3" r="5.6" fill="#471b6d"/><circle cx="867.3" cy="361.0" r="5.6" fill="#461769"/><circle cx="952.5" cy="366.7" r="5.6" fill="#460f61"/><circle cx="225.2" cy="594.4" r="5.6" fill="#425589"/><circle cx="840.5" cy="194.3" r="5.6" fill="#450b5e"/><circle cx="223.1" cy="470.6" r="5.6" fill="#425689"/><circle cx="810.4" cy="270.6" r="5.6" fill="#450e60"/><circle cx="891.3" cy="288.9" r="5.6" fill="#461264"/><circle cx="419.7" cy="365.8" r="5.6" fill="#462f7b"/><circle cx="934.9" cy="242.3" r="5.6" fill="#482072"/><circle cx="381.9" cy="630.4" r="5.6" fill="#446289"/><circle cx="1060.3" cy="401.0" r="5.6" fill="#47196b"/><circle cx="491.0" cy="361.6" r="5.6" fill="#45095c"/><circle cx="140.6" cy="464.5" r="5.6" fill="#423e83"/><circle cx="1011.8" cy="366.9" r="5.6" fill="#472877"/><circle cx="481.0" cy="373.1" r="5.6" fill="#471a6b"/><circle cx="172.6" cy="495.5" r="5.6" fill="#414888"/><circle cx="430.9" cy="300.4" r="5.6" fill="#450659"/><circle cx="220.7" cy="541.2" r="5.6" fill="#423f84"/><circle cx="394.3" cy="560.0" r="5.6" fill="#424f89"/><circle cx="391.4" cy="353.4" r="5.6" fill="#462f7b"/><circle cx="252.1" cy="564.2" r="5.6" fill="#414387"/><circle cx="330.9" cy="496.6" r="5.6" fill="#435789"/><circle cx="518.6" cy="304.1" r="5.6" fill="#45095b"/><circle cx="412.9" cy="334.5" r="5.6" fill="#45347e"/><circle cx="1045.0" cy="414.0" r="5.6" fill="#47196b"/><circle cx="382.5" cy="451.6" r="5.6" fill="#414487"/><circle cx="865.1" cy="281.7" r="5.6" fill="#440255"/><circle cx="841.9" cy="237.9" r="5.6" fill="#461668"/><circle cx="720.2" cy="303.2" r="5.6" fill="#461163"/><circle cx="692.0" cy="326.9" r="5.6" fill="#440457"/><circle cx="463.1" cy="400.8" r="5.6" fill="#472676"/><circle cx="150.9" cy="459.0" r="5.6" fill="#433981"/><circle cx="816.2" cy="365.9" r="5.6" fill="#450e60"/><circle cx="924.7" cy="214.0" r="5.6" fill="#45085a"/><circle cx="810.2" cy="336.8" r="5.6" fill="#461062"/><circle cx="983.8" cy="284.8" r="5.6" fill="#482676"/><circle cx="982.6" cy="268.9" r="5.6" fill="#472978"/><circle cx="752.8" cy="350.9" r="5.6" fill="#461466"/><circle cx="969.1" cy="445.1" r="5.6" fill="#471c6d"/><circle cx="974.3" cy="304.3" r="5.6" fill="#45327d"/><circle cx="810.9" cy="312.7" r="5.6" fill="#461164"/><circle cx="477.6" cy="308.6" r="5.6" fill="#461163"/><circle cx="919.1" cy="403.0" r="5.6" fill="#461567"/><circle cx="938.5" cy="187.9" r="5.6" fill="#461567"/><circle cx="455.5" cy="385.5" r="5.6" fill="#45095b"/><circle cx="427.6" cy="331.3" r="5.6" fill="#450e60"/><circle cx="821.6" cy="197.2" r="5.6" fill="#460e60"/><circle cx="443.2" cy="425.3" r="5.6" fill="#471f70"/><circle cx="771.0" cy="313.1" r="5.6" fill="#450c5f"/><circle cx="596.1" cy="367.6" r="5.6" fill="#461466"/><circle cx="880.8" cy="244.0" r="5.6" fill="#450e60"/><circle cx="1008.7" cy="454.9" r="5.6" fill="#47196a"/><circle cx="497.4" cy="396.2" r="5.6" fill="#471e70"/><circle cx="494.5" cy="374.7" r="5.6" fill="#423e84"/><circle cx="390.0" cy="586.6" r="5.6" fill="#445f89"/><circle cx="811.6" cy="371.7" r="5.6" fill="#440154"/><circle cx="683.5" cy="296.7" r="5.6" fill="#450a5d"/><circle cx="695.8" cy="306.0" r="5.6" fill="#461163"/><circle cx="254.9" cy="612.4" r="5.6" fill="#435989"/><circle cx="235.5" cy="537.7" r="5.6" fill="#414286"/><circle cx="930.1" cy="333.8" r="5.6" fill="#482172"/><circle cx="436.4" cy="418.6" r="5.6" fill="#424185"/><circle cx="683.4" cy="304.4" r="5.6" fill="#471a6c"/><circle cx="212.0" cy="608.2" r="5.6" fill="#425389"/><circle cx="214.5" cy="571.5" r="5.6" fill="#414a88"/><circle cx="259.6" cy="632.9" r="5.6" fill="#498289"/><circle cx="843.4" cy="215.9" r="5.6" fill="#450c5e"/><circle cx="565.7" cy="359.9" r="5.6" fill="#450b5d"/><circle cx="807.0" cy="264.9" r="5.6" fill="#461163"/><circle cx="654.9" cy="356.1" r="5.6" fill="#450a5c"/><circle cx="877.0" cy="216.4" r="5.6" fill="#45085b"/><circle cx="235.6" cy="489.3" r="5.6" fill="#462d7a"/><circle cx="428.3" cy="293.8" r="5.6" fill="#450a5c"/><circle cx="824.7" cy="208.3" r="5.6" fill="#440255"/><circle cx="876.4" cy="259.2" r="5.6" fill="#461365"/><circle cx="879.6" cy="231.3" r="5.6" fill="#47196a"/><circle cx="488.7" cy="308.3" r="5.6" fill="#471769"/><circle cx="361.3" cy="490.9" r="5.6" fill="#414b88"/><circle cx="163.0" cy="487.2" r="5.6" fill="#414286"/><circle cx="530.0" cy="323.5" r="5.6" fill="#461566"/><circle cx="941.9" cy="201.3" r="5.6" fill="#471769"/><circle cx="582.3" cy="359.2" r="5.6" fill="#461163"/><circle cx="943.9" cy="232.0" r="5.6" fill="#461466"/><circle cx="753.5" cy="380.3" r="5.6" fill="#450b5d"/><circle cx="980.7" cy="250.4" r="5.6" fill="#462b79"/><circle cx="876.7" cy="281.2" r="5.6" fill="#461466"/><circle cx="742.7" cy="341.3" r="5.6" fill="#450c5e"/><circle cx="679.2" cy="249.2" r="5.6" fill="#460f61"/><circle cx="980.6" cy="292.3" r="5.6" fill="#471f70"/><circle cx="352.3" cy="592.4" r="5.6" fill="#424f89"/><circle cx="922.6" cy="172.1" r="5.6" fill="#461667"/><circle cx="278.6" cy="523.2" r="5.6" fill="#414687"/><circle cx="249.3" cy="533.2" r="5.6" fill="#425589"/><circle cx="734.7" cy="205.5" r="5.6" fill="#461465"/><circle cx="360.2" cy="602.6" r="5.6" fill="#457089"/><circle cx="1074.5" cy="421.0" r="5.6" fill="#45327d"/><circle cx="968.0" cy="456.1" r="5.6" fill="#472777"/><circle cx="280.1" cy="465.7" r="5.6" fill="#424e88"/><circle cx="940.8" cy="292.9" r="5.6" fill="#471f71"/><circle cx="759.2" cy="269.6" r="5.6" fill="#450b5e"/><circle cx="208.6" cy="526.1" r="5.6" fill="#433c83"/><circle cx="390.5" cy="386.1" r="5.6" fill="#461466"/><circle cx="662.2" cy="349.1" r="5.6" fill="#471f70"/><circle cx="969.2" cy="405.9" r="5.6" fill="#482172"/><circle cx="304.3" cy="629.6" r="5.6" fill="#487e89"/><circle cx="753.4" cy="356.6" r="5.6" fill="#461264"/><circle cx="807.4" cy="257.5" r="5.6" fill="#440356"/><circle cx="621.9" cy="340.5" r="5.6" fill="#450b5e"/><circle cx="432.4" cy="298.7" r="5.6" fill="#461365"/><circle cx="248.6" cy="541.0" r="5.6" fill="#446389"/><circle cx="976.1" cy="319.1" r="5.6" fill="#462d7a"/><circle cx="417.9" cy="380.1" r="5.6" fill="#462f7b"/><circle cx="173.7" cy="516.2" r="5.6" fill="#425489"/><circle cx="941.8" cy="317.8" r="5.6" fill="#450658"/><circle cx="495.2" cy="301.7" r="5.6" fill="#45075a"/><circle cx="873.2" cy="228.6" r="5.6" fill="#450a5d"/><circle cx="945.3" cy="343.4" r="5.6" fill="#47196a"/><circle cx="976.8" cy="386.6" r="5.6" fill="#471769"/><circle cx="246.7" cy="612.9" r="5.6" fill="#435d89"/><circle cx="671.0" cy="336.7" r="5.6" fill="#440255"/><circle cx="200.0" cy="623.4" r="5.6" fill="#487d89"/><circle cx="811.1" cy="320.4" r="5.6" fill="#450c5e"/><circle cx="460.8" cy="384.9" r="5.6" fill="#482071"/><circle cx="743.4" cy="356.5" r="5.6" fill="#461163"/><circle cx="263.8" cy="443.0" r="5.6" fill="#414286"/><circle cx="259.5" cy="636.1" r="5.6" fill="#467789"/><circle cx="675.2" cy="343.1" r="5.6" fill="#450659"/><circle cx="608.9" cy="291.7" r="5.6" fill="#450658"/><circle cx="140.5" cy="530.4" r="5.6" fill="#424185"/><circle cx="451.6" cy="348.2" r="5.6" fill="#471a6b"/><circle cx="974.3" cy="301.0" r="5.6" fill="#461667"/><circle cx="614.3" cy="312.9" r="5.6" fill="#450d60"/><circle cx="841.7" cy="194.2" r="5.6" fill="#450a5c"/><circle cx="940.8" cy="231.1" r="5.6" fill="#450659"/><circle cx="975.8" cy="241.1" r="5.6" fill="#482172"/><circle cx="455.7" cy="293.5" r="5.6" fill="#471a6b"/><circle cx="729.7" cy="213.3" r="5.6" fill="#440557"/><circle cx="576.3" cy="344.4" r="5.6" fill="#440558"/><circle cx="890.9" cy="386.5" r="5.6" fill="#471b6d"/><circle cx="450.5" cy="352.0" r="5.6" fill="#461163"/><circle cx="388.2" cy="554.1" r="5.6" fill="#456a89"/><circle cx="889.1" cy="221.5" r="5.6" fill="#45085b"/><circle cx="986.4" cy="287.7" r="5.6" fill="#482273"/><circle cx="884.5" cy="226.9" r="5.6" fill="#450b5e"/><circle cx="250.6" cy="463.3" r="5.6" fill="#414a88"/><circle cx="1020.0" cy="295.9" r="5.6" fill="#482071"/><circle cx="1061.8" cy="336.5" r="5.6" fill="#471a6c"/><circle cx="756.6" cy="251.6" r="5.6" fill="#450658"/><circle cx="264.7" cy="525.8" r="5.6" fill="#424f89"/><circle cx="901.9" cy="245.7" r="5.6" fill="#45085b"/><circle cx="890.3" cy="206.0" r="5.6" fill="#461264"/><circle cx="249.3" cy="510.7" r="5.6" fill="#414687"/><circle cx="832.9" cy="314.7" r="5.6" fill="#450659"/><circle cx="290.2" cy="577.6" r="5.6" fill="#425689"/><circle cx="516.7" cy="336.6" r="5.6" fill="#461365"/><circle cx="388.8" cy="342.1" r="5.6" fill="#482374"/><circle cx="310.9" cy="631.4" r="5.6" fill="#498289"/><circle cx="939.7" cy="203.5" r="5.6" fill="#440154"/><circle cx="468.8" cy="399.1" r="5.6" fill="#433a81"/><circle cx="805.8" cy="289.7" r="5.6" fill="#461062"/><circle cx="760.9" cy="307.6" r="5.6" fill="#461667"/><circle cx="167.5" cy="464.5" r="5.6" fill="#425089"/><circle cx="256.2" cy="596.7" r="5.6" fill="#446589"/><circle cx="398.9" cy="525.8" r="5.6" fill="#424085"/><circle cx="356.3" cy="581.6" r="5.6" fill="#456a89"/><circle cx="995.4" cy="357.6" r="5.6" fill="#471b6d"/><circle cx="545.6" cy="349.9" r="5.6" fill="#450d5f"/><circle cx="942.0" cy="245.7" r="5.6" fill="#471a6c"/><circle cx="753.9" cy="384.4" r="5.6" fill="#461365"/><circle cx="830.7" cy="290.1" r="5.6" fill="#450b5d"/><circle cx="899.6" cy="214.7" r="5.6" fill="#440456"/><circle cx="893.3" cy="211.3" r="5.6" fill="#450659"/><circle cx="1004.4" cy="464.1" r="5.6" fill="#471869"/><circle cx="1076.2" cy="390.0" r="5.6" fill="#443780"/><circle cx="969.0" cy="393.4" r="5.6" fill="#462c7a"/><circle cx="450.6" cy="377.6" r="5.6" fill="#440356"/><circle cx="748.8" cy="375.5" r="5.6" fill="#440557"/><circle cx="841.0" cy="230.8" r="5.6" fill="#460e60"/><circle cx="145.6" cy="553.7" r="5.6" fill="#414487"/><circle cx="1054.3" cy="460.6" r="5.6" fill="#433981"/><circle cx="932.8" cy="330.7" r="5.6" fill="#461264"/><circle cx="203.2" cy="618.5" r="5.6" fill="#467689"/><circle cx="932.1" cy="189.9" r="5.6" fill="#482676"/><circle cx="838.9" cy="287.0" r="5.6" fill="#460e61"/><circle cx="737.0" cy="253.9" r="5.6" fill="#460f62"/><circle cx="953.8" cy="366.6" r="5.6" fill="#461567"/><circle cx="392.0" cy="509.4" r="5.6" fill="#44377f"/><circle cx="447.8" cy="316.2" r="5.6" fill="#460f61"/><circle cx="396.9" cy="537.4" r="5.6" fill="#435989"/><circle cx="328.5" cy="452.1" r="5.6" fill="#45347e"/><circle cx="834.0" cy="277.6" r="5.6" fill="#461768"/><circle cx="875.5" cy="320.8" r="5.6" fill="#482374"/><circle cx="461.4" cy="418.0" r="5.6" fill="#47196b"/><circle cx="506.4" cy="341.8" r="5.6" fill="#461365"/><circle cx="276.3" cy="609.4" r="5.6" fill="#435989"/><circle cx="840.3" cy="309.1" r="5.6" fill="#440154"/><circle cx="257.0" cy="598.7" r="5.6" fill="#446289"/><circle cx="954.9" cy="262.7" r="5.6" fill="#471a6c"/><circle cx="338.6" cy="608.4" r="5.6" fill="#467389"/><circle cx="480.8" cy="398.3" r="5.6" fill="#482576"/><circle cx="712.5" cy="346.3" r="5.6" fill="#461365"/><circle cx="1059.6" cy="415.0" r="5.6" fill="#471e6f"/><circle cx="1052.9" cy="325.8" r="5.6" fill="#45317c"/><circle cx="400.1" cy="492.5" r="5.6" fill="#414a88"/><circle cx="939.6" cy="263.5" r="5.6" fill="#440154"/><circle cx="243.4" cy="616.2" r="5.6" fill="#488089"/><circle cx="903.4" cy="297.9" r="5.6" fill="#461567"/><circle cx="941.1" cy="306.8" r="5.6" fill="#47196b"/><circle cx="998.5" cy="442.1" r="5.6" fill="#461466"/><circle cx="247.0" cy="575.4" r="5.6" fill="#446189"/><circle cx="935.3" cy="409.5" r="5.6" fill="#482576"/><circle cx="402.9" cy="337.9" r="5.6" fill="#482676"/><circle cx="430.5" cy="355.6" r="5.6" fill="#461365"/><circle cx="245.9" cy="632.2" r="5.6" fill="#414a88"/><circle cx="481.4" cy="298.3" r="5.6" fill="#450b5d"/><circle cx="1056.0" cy="484.9" r="5.6" fill="#482475"/><circle cx="334.7" cy="567.9" r="5.6" fill="#456a89"/><circle cx="941.1" cy="389.8" r="5.6" fill="#461264"/><circle cx="421.5" cy="383.6" r="5.6" fill="#462d7a"/><circle cx="437.5" cy="434.8" r="5.6" fill="#472877"/><circle cx="1075.7" cy="523.7" r="5.6" fill="#462e7b"/><circle cx="885.0" cy="380.0" r="5.6" fill="#45075a"/><circle cx="1010.0" cy="394.3" r="5.6" fill="#472a78"/><circle cx="928.7" cy="395.1" r="5.6" fill="#461365"/><circle cx="344.1" cy="620.7" r="5.6" fill="#435789"/><circle cx="900.5" cy="221.3" r="5.6" fill="#450659"/><circle cx="908.2" cy="391.3" r="5.6" fill="#461466"/><circle cx="909.4" cy="194.8" r="5.6" fill="#461365"/><circle cx="382.6" cy="541.1" r="5.6" fill="#424f89"/><circle cx="1058.8" cy="400.1" r="5.6" fill="#471e6f"/><circle cx="664.5" cy="252.0" r="5.6" fill="#440154"/><circle cx="419.7" cy="329.2" r="5.6" fill="#461264"/><circle cx="392.6" cy="413.2" r="5.6" fill="#462f7b"/><circle cx="512.2" cy="305.7" r="5.6" fill="#471a6c"/><circle cx="205.0" cy="541.2" r="5.6" fill="#457089"/><circle cx="557.6" cy="324.0" r="5.6" fill="#461567"/><circle cx="973.2" cy="232.5" r="5.6" fill="#462c79"/><circle cx="811.6" cy="292.5" r="5.6" fill="#461365"/><circle cx="861.3" cy="292.0" r="5.6" fill="#461667"/><circle cx="573.7" cy="314.0" r="5.6" fill="#461062"/><circle cx="867.2" cy="302.5" r="5.6" fill="#461567"/><circle cx="686.0" cy="318.7" r="5.6" fill="#450a5d"/><circle cx="912.3" cy="388.4" r="5.6" fill="#461668"/><circle cx="216.7" cy="622.8" r="5.6" fill="#498289"/><circle cx="281.2" cy="618.6" r="5.6" fill="#424f89"/><circle cx="1068.2" cy="423.9" r="5.6" fill="#45337e"/><circle cx="169.7" cy="570.6" r="5.6" fill="#424f89"/><circle cx="206.5" cy="576.1" r="5.6" fill="#446389"/><circle cx="611.7" cy="360.8" r="5.6" fill="#440558"/><circle cx="947.6" cy="343.1" r="5.6" fill="#461062"/><circle cx="833.2" cy="307.2" r="5.6" fill="#450558"/><circle cx="350.2" cy="453.1" r="5.6" fill="#425089"/><circle cx="412.1" cy="405.5" r="5.6" fill="#45075a"/><circle cx="900.3" cy="236.5" r="5.6" fill="#440558"/><circle cx="737.8" cy="219.6" r="5.6" fill="#45085a"/><circle cx="330.4" cy="578.5" r="5.6" fill="#414a88"/><circle cx="965.9" cy="418.8" r="5.6" fill="#440154"/><circle cx="934.7" cy="317.4" r="5.6" fill="#440356"/><circle cx="395.7" cy="354.0" r="5.6" fill="#440154"/><circle cx="388.9" cy="509.7" r="5.6" fill="#435b89"/><circle cx="205.6" cy="632.2" r="5.6" fill="#446689"/><circle cx="267.5" cy="536.4" r="5.6" fill="#446289"/><circle cx="987.2" cy="310.9" r="5.6" fill="#471b6c"/><circle cx="254.8" cy="443.2" r="5.6" fill="#45327d"/><circle cx="430.1" cy="351.0" r="5.6" fill="#47196a"/><circle cx="1071.4" cy="471.2" r="5.6" fill="#472978"/><circle cx="1056.2" cy="441.6" r="5.6" fill="#423e84"/><circle cx="153.6" cy="502.5" r="5.6" fill="#471f70"/><circle cx="907.7" cy="287.7" r="5.6" fill="#472a78"/><circle cx="759.9" cy="244.6" r="5.6" fill="#45075a"/><circle cx="215.3" cy="594.0" r="5.6" fill="#435889"/><circle cx="877.9" cy="349.3" r="5.6" fill="#440457"/><circle cx="834.2" cy="295.3" r="5.6" fill="#440457"/><circle cx="757.9" cy="336.9" r="5.6" fill="#45085b"/><circle cx="229.2" cy="567.8" r="5.6" fill="#435e89"/><circle cx="197.0" cy="597.5" r="5.6" fill="#425689"/><circle cx="478.4" cy="315.0" r="5.6" fill="#440154"/><circle cx="675.5" cy="337.1" r="5.6" fill="#45075a"/><circle cx="991.7" cy="312.1" r="5.6" fill="#471a6c"/><circle cx="753.5" cy="345.9" r="5.6" fill="#450e60"/><circle cx="287.4" cy="478.6" r="5.6" fill="#456989"/><circle cx="761.1" cy="352.2" r="5.6" fill="#47186a"/><circle cx="739.3" cy="207.3" r="5.6" fill="#461668"/><circle cx="389.7" cy="410.5" r="5.6" fill="#443880"/><circle cx="987.5" cy="341.6" r="5.6" fill="#482172"/><circle cx="1078.0" cy="568.4" r="5.6" fill="#472777"/><circle cx="999.4" cy="371.1" r="5.6" fill="#482273"/><circle cx="261.6" cy="569.4" r="5.6" fill="#424b88"/><circle cx="423.4" cy="311.3" r="5.6" fill="#450c5f"/><circle cx="437.3" cy="396.7" r="5.6" fill="#433a82"/><circle cx="623.4" cy="297.4" r="5.6" fill="#460f61"/><circle cx="394.0" cy="617.9" r="5.6" fill="#446089"/><circle cx="824.9" cy="188.2" r="5.6" fill="#440154"/><circle cx="918.0" cy="404.0" r="5.6" fill="#461769"/><circle cx="1056.0" cy="531.1" r="5.6" fill="#45307c"/><circle cx="1075.4" cy="379.5" r="5.6" fill="#482172"/><circle cx="389.1" cy="515.5" r="5.6" fill="#446389"/><circle cx="166.0" cy="479.9" r="5.6" fill="#414687"/><circle cx="727.7" cy="218.6" r="5.6" fill="#45075a"/><circle cx="580.9" cy="359.3" r="5.6" fill="#440558"/><circle cx="332.6" cy="486.0" r="5.6" fill="#44357e"/><circle cx="418.7" cy="403.9" r="5.6" fill="#443880"/><circle cx="258.8" cy="569.9" r="5.6" fill="#424c88"/><circle cx="591.2" cy="323.7" r="5.6" fill="#461567"/><circle cx="281.6" cy="498.0" r="5.6" fill="#425089"/><circle cx="947.7" cy="237.8" r="5.6" fill="#482576"/><circle cx="244.2" cy="515.7" r="5.6" fill="#424b88"/><circle cx="284.9" cy="449.3" r="5.6" fill="#471c6d"/><circle cx="907.9" cy="207.5" r="5.6" fill="#450d60"/><circle cx="734.4" cy="204.0" r="5.6" fill="#440154"/><circle cx="975.1" cy="280.5" r="5.6" fill="#482173"/><circle cx="718.7" cy="317.7" r="5.6" fill="#472877"/><circle cx="951.2" cy="348.8" r="5.6" fill="#47196a"/><circle cx="205.0" cy="544.5" r="5.6" fill="#414888"/><circle cx="206.9" cy="571.1" r="5.6" fill="#433c83"/><circle cx="1070.8" cy="401.9" r="5.6" fill="#44367f"/><circle cx="945.6" cy="252.5" r="5.6" fill="#461365"/><circle cx="383.1" cy="493.3" r="5.6" fill="#433b82"/><circle cx="775.1" cy="252.4" r="5.6" fill="#450d5f"/><circle cx="986.1" cy="337.6" r="5.6" fill="#472877"/><circle cx="1001.5" cy="445.5" r="5.6" fill="#471b6d"/><circle cx="411.2" cy="491.8" r="5.6" fill="#424e88"/><circle cx="386.8" cy="547.5" r="5.6" fill="#487d89"/><circle cx="914.3" cy="401.2" r="5.6" fill="#482071"/><circle cx="294.0" cy="581.3" r="5.6" fill="#435c89"/><circle cx="1007.7" cy="285.2" r="5.6" fill="#482273"/><circle cx="626.3" cy="302.6" r="5.6" fill="#450c5e"/><circle cx="457.5" cy="389.4" r="5.6" fill="#461062"/><circle cx="414.8" cy="529.8" r="5.6" fill="#456a89"/><circle cx="570.8" cy="362.1" r="5.6" fill="#45095b"/><circle cx="599.7" cy="287.6" r="5.6" fill="#461163"/><circle cx="954.9" cy="246.2" r="5.6" fill="#471769"/><circle cx="210.9" cy="620.2" r="5.6" fill="#456889"/><circle cx="259.8" cy="631.2" r="5.6" fill="#487e89"/><circle cx="892.0" cy="218.3" r="5.6" fill="#450b5e"/><circle cx="986.2" cy="315.3" r="5.6" fill="#47196b"/><circle cx="349.9" cy="492.5" r="5.6" fill="#414a88"/><circle cx="595.5" cy="285.3" r="5.6" fill="#461062"/><circle cx="604.2" cy="358.7" r="5.6" fill="#450d5f"/><circle cx="882.5" cy="323.0" r="5.6" fill="#461264"/><circle cx="454.1" cy="356.4" r="5.6" fill="#471f70"/><circle cx="336.7" cy="446.5" r="5.6" fill="#462e7b"/><circle cx="311.9" cy="600.3" r="5.6" fill="#467789"/><circle cx="226.0" cy="590.2" r="5.6" fill="#423e83"/><circle cx="156.5" cy="515.4" r="5.6" fill="#414888"/><circle cx="580.5" cy="345.4" r="5.6" fill="#440557"/><circle cx="350.2" cy="460.1" r="5.6" fill="#425289"/><circle cx="1076.9" cy="390.9" r="5.6" fill="#461365"/><circle cx="868.5" cy="265.4" r="5.6" fill="#482274"/><circle cx="307.0" cy="617.2" r="5.6" fill="#446589"/><circle cx="389.2" cy="478.5" r="5.6" fill="#433b82"/><circle cx="264.3" cy="596.0" r="5.6" fill="#456d89"/><circle cx="741.7" cy="348.5" r="5.6" fill="#461365"/><circle cx="820.2" cy="366.5" r="5.6" fill="#440558"/><circle cx="551.7" cy="319.0" r="5.6" fill="#461466"/><circle cx="869.3" cy="326.9" r="5.6" fill="#450e60"/><circle cx="605.5" cy="360.9" r="5.6" fill="#461365"/><circle cx="417.8" cy="331.1" r="5.6" fill="#461769"/><circle cx="908.6" cy="394.4" r="5.6" fill="#450e60"/><circle cx="494.6" cy="305.7" r="5.6" fill="#450659"/><circle cx="293.6" cy="486.0" r="5.6" fill="#423e84"/><circle cx="311.9" cy="491.9" r="5.6" fill="#446289"/><circle cx="416.9" cy="367.9" r="5.6" fill="#44357f"/><circle cx="522.2" cy="347.0" r="5.6" fill="#47196a"/><circle cx="1075.6" cy="525.1" r="5.6" fill="#482475"/><circle cx="902.7" cy="235.1" r="5.6" fill="#450a5d"/><circle cx="971.4" cy="316.6" r="5.6" fill="#482676"/><circle cx="737.5" cy="222.9" r="5.6" fill="#440255"/><circle cx="325.1" cy="600.6" r="5.6" fill="#414587"/><circle cx="820.3" cy="217.0" r="5.6" fill="#461264"/><circle cx="400.1" cy="356.3" r="5.6" fill="#45307c"/><circle cx="652.0" cy="345.4" r="5.6" fill="#460f61"/><circle cx="833.5" cy="304.0" r="5.6" fill="#45075a"/><circle cx="570.8" cy="300.0" r="5.6" fill="#450b5e"/><circle cx="937.8" cy="388.5" r="5.6" fill="#461163"/><circle cx="1052.0" cy="336.4" r="5.6" fill="#47186a"/><circle cx="757.0" cy="256.3" r="5.6" fill="#45085b"/><circle cx="836.7" cy="351.9" r="5.6" fill="#461768"/><circle cx="984.1" cy="473.0" r="5.6" fill="#45307c"/><circle cx="939.4" cy="242.9" r="5.6" fill="#450659"/><circle cx="341.6" cy="575.1" r="5.6" fill="#425289"/><circle cx="282.9" cy="608.2" r="5.6" fill="#435d89"/><circle cx="638.6" cy="354.2" r="5.6" fill="#45095b"/><circle cx="747.8" cy="227.1" r="5.6" fill="#450b5d"/><circle cx="383.2" cy="499.2" r="5.6" fill="#425089"/><circle cx="680.7" cy="346.3" r="5.6" fill="#461466"/><circle cx="409.5" cy="596.6" r="5.6" fill="#435b89"/><circle cx="158.4" cy="444.2" r="5.6" fill="#443880"/><circle cx="1071.9" cy="374.7" r="5.6" fill="#461365"/><circle cx="695.0" cy="310.5" r="5.6" fill="#450e60"/><circle cx="838.4" cy="314.5" r="5.6" fill="#461365"/><circle cx="943.3" cy="243.3" r="5.6" fill="#471b6c"/><circle cx="951.0" cy="293.0" r="5.6" fill="#461769"/><circle cx="744.1" cy="335.7" r="5.6" fill="#471a6c"/><circle cx="820.1" cy="189.8" r="5.6" fill="#440154"/><circle cx="762.4" cy="283.3" r="5.6" fill="#460f61"/><circle cx="926.2" cy="398.4" r="5.6" fill="#45085b"/><circle cx="644.7" cy="281.0" r="5.6" fill="#440154"/><circle cx="911.5" cy="175.8" r="5.6" fill="#45095b"/><circle cx="393.2" cy="587.1" r="5.6" fill="#446489"/><circle cx="951.4" cy="267.7" r="5.6" fill="#440154"/><circle cx="589.1" cy="297.5" r="5.6" fill="#450558"/><circle cx="487.5" cy="342.4" r="5.6" fill="#471f70"/><circle cx="752.8" cy="381.6" r="5.6" fill="#450c5e"/><circle cx="224.7" cy="454.4" r="5.6" fill="#414286"/><circle cx="729.9" cy="324.0" r="5.6" fill="#45095b"/><circle cx="769.9" cy="309.3" r="5.6" fill="#461466"/><circle cx="249.0" cy="621.1" r="5.6" fill="#477b89"/><circle cx="755.8" cy="254.6" r="5.6" fill="#461768"/><circle cx="911.7" cy="226.5" r="5.6" fill="#471b6c"/><circle cx="568.4" cy="320.2" r="5.6" fill="#461063"/><circle cx="200.4" cy="478.5" r="5.6" fill="#472a79"/><circle cx="972.1" cy="470.4" r="5.6" fill="#471f70"/><circle cx="986.7" cy="297.1" r="5.6" fill="#472777"/><circle cx="274.8" cy="560.4" r="5.6" fill="#414888"/><circle cx="1063.8" cy="343.5" r="5.6" fill="#482273"/><circle cx="340.1" cy="594.5" r="5.6" fill="#425389"/><circle cx="840.1" cy="262.9" r="5.6" fill="#482173"/><circle cx="423.8" cy="376.9" r="5.6" fill="#45307c"/><circle cx="322.9" cy="581.2" r="5.6" fill="#477c89"/><circle cx="139.5" cy="462.5" r="5.6" fill="#424f89"/><circle cx="690.4" cy="278.2" r="5.6" fill="#471a6c"/><circle cx="866.0" cy="384.5" r="5.6" fill="#47186a"/><circle cx="214.8" cy="544.2" r="5.6" fill="#435789"/><circle cx="949.4" cy="394.2" r="5.6" fill="#461466"/><circle cx="835.5" cy="328.8" r="5.6" fill="#482374"/><circle cx="837.9" cy="248.3" r="5.6" fill="#460f61"/><circle cx="928.8" cy="318.3" r="5.6" fill="#47186a"/><circle cx="448.6" cy="300.8" r="5.6" fill="#461164"/><circle cx="1068.9" cy="562.0" r="5.6" fill="#433b82"/><circle cx="1067.3" cy="412.4" r="5.6" fill="#471e6f"/><circle cx="870.4" cy="343.3" r="5.6" fill="#482273"/><circle cx="340.3" cy="451.0" r="5.6" fill="#424185"/><circle cx="969.1" cy="299.6" r="5.6" fill="#47196b"/><circle cx="394.9" cy="542.3" r="5.6" fill="#414587"/><circle cx="166.9" cy="499.3" r="5.6" fill="#443880"/><circle cx="999.9" cy="414.0" r="5.6" fill="#462e7b"/><circle cx="989.9" cy="309.3" r="5.6" fill="#482475"/><circle cx="1085.3" cy="564.2" r="5.6" fill="#472978"/><circle cx="757.6" cy="321.0" r="5.6" fill="#450759"/><circle cx="679.4" cy="341.8" r="5.6" fill="#461062"/><circle cx="414.8" cy="589.5" r="5.6" fill="#456d89"/><circle cx="269.6" cy="604.8" r="5.6" fill="#435a89"/><circle cx="210.1" cy="622.3" r="5.6" fill="#477989"/><circle cx="942.6" cy="309.9" r="5.6" fill="#461567"/><circle cx="202.5" cy="594.0" r="5.6" fill="#446389"/><circle cx="573.3" cy="301.3" r="5.6" fill="#45095b"/><circle cx="967.0" cy="419.9" r="5.6" fill="#471c6d"/><circle cx="684.1" cy="295.8" r="5.6" fill="#450c5f"/><circle cx="951.2" cy="256.2" r="5.6" fill="#462f7b"/><circle cx="321.0" cy="634.5" r="5.6" fill="#446489"/><circle cx="888.9" cy="247.2" r="5.6" fill="#461163"/><circle cx="1007.1" cy="457.3" r="5.6" fill="#482575"/><circle cx="948.7" cy="195.7" r="5.6" fill="#460e61"/><circle cx="739.3" cy="334.2" r="5.6" fill="#460f61"/><circle cx="414.8" cy="414.9" r="5.6" fill="#472978"/><circle cx="616.5" cy="367.1" r="5.6" fill="#461062"/><circle cx="714.5" cy="292.7" r="5.6" fill="#461163"/><circle cx="685.6" cy="270.6" r="5.6" fill="#471869"/><circle cx="971.6" cy="299.1" r="5.6" fill="#471e6f"/><circle cx="1064.5" cy="360.4" r="5.6" fill="#471d6e"/><circle cx="570.2" cy="329.3" r="5.6" fill="#461264"/><circle cx="974.9" cy="304.2" r="5.6" fill="#44357f"/><circle cx="246.6" cy="598.8" r="5.6" fill="#446289"/><circle cx="1058.6" cy="612.6" r="5.6" fill="#471a6c"/><circle cx="445.7" cy="399.4" r="5.6" fill="#433981"/><circle cx="1063.3" cy="499.9" r="5.6" fill="#423d83"/><circle cx="513.1" cy="345.1" r="5.6" fill="#482374"/><circle cx="254.5" cy="536.9" r="5.6" fill="#414b88"/><circle cx="1063.4" cy="396.8" r="5.6" fill="#462d7a"/><circle cx="828.0" cy="360.3" r="5.6" fill="#440558"/><circle cx="238.1" cy="534.4" r="5.6" fill="#433d83"/><circle cx="1083.9" cy="526.9" r="5.6" fill="#443780"/><circle cx="834.6" cy="338.4" r="5.6" fill="#440255"/><circle cx="657.2" cy="273.2" r="5.6" fill="#450e60"/><circle cx="177.2" cy="474.9" r="5.6" fill="#424f89"/><circle cx="920.5" cy="186.6" r="5.6" fill="#450b5e"/><circle cx="442.3" cy="326.8" r="5.6" fill="#47196b"/><circle cx="422.7" cy="406.5" r="5.6" fill="#461264"/><circle cx="240.0" cy="569.6" r="5.6" fill="#433b82"/><circle cx="438.2" cy="402.5" r="5.6" fill="#472877"/><circle cx="157.4" cy="515.7" r="5.6" fill="#443880"/><circle cx="396.1" cy="374.6" r="5.6" fill="#482273"/><circle cx="818.9" cy="371.5" r="5.6" fill="#47196b"/><circle cx="947.9" cy="248.1" r="5.6" fill="#461365"/><circle cx="879.5" cy="271.7" r="5.6" fill="#471769"/><circle cx="990.9" cy="348.3" r="5.6" fill="#462c7a"/><circle cx="415.4" cy="384.3" r="5.6" fill="#471e6f"/><circle cx="640.0" cy="274.9" r="5.6" fill="#471769"/><circle cx="338.5" cy="597.3" r="5.6" fill="#435689"/><circle cx="294.5" cy="454.8" r="5.6" fill="#423f84"/><circle cx="202.2" cy="628.2" r="5.6" fill="#467689"/><circle cx="942.1" cy="379.3" r="5.6" fill="#450b5e"/><circle cx="681.5" cy="342.0" r="5.6" fill="#450c5e"/><circle cx="1063.9" cy="436.3" r="5.6" fill="#471d6e"/><circle cx="275.1" cy="540.7" r="5.6" fill="#424e88"/><circle cx="679.9" cy="247.6" r="5.6" fill="#450d60"/><circle cx="671.3" cy="256.6" r="5.6" fill="#461163"/><circle cx="239.2" cy="578.5" r="5.6" fill="#414a88"/><circle cx="939.4" cy="234.4" r="5.6" fill="#45085b"/><circle cx="487.2" cy="396.7" r="5.6" fill="#433d83"/><circle cx="998.6" cy="319.7" r="5.6" fill="#471f70"/><circle cx="1073.7" cy="402.5" r="5.6" fill="#462d7a"/><circle cx="651.1" cy="355.2" r="5.6" fill="#45075a"/><circle cx="615.9" cy="290.0" r="5.6" fill="#461365"/><circle cx="838.1" cy="337.0" r="5.6" fill="#47196a"/><circle cx="208.9" cy="486.9" r="5.6" fill="#414988"/><circle cx="691.9" cy="320.1" r="5.6" fill="#461264"/><circle cx="506.6" cy="343.7" r="5.6" fill="#461567"/><circle cx="928.8" cy="221.2" r="5.6" fill="#440154"/><circle cx="828.3" cy="335.2" r="5.6" fill="#450b5e"/><circle cx="379.3" cy="494.3" r="5.6" fill="#462c7a"/><circle cx="950.0" cy="207.6" r="5.6" fill="#461567"/><circle cx="938.3" cy="341.8" r="5.6" fill="#482072"/><circle cx="208.6" cy="563.8" r="5.6" fill="#435689"/><circle cx="275.0" cy="626.2" r="5.6" fill="#435d89"/><circle cx="427.9" cy="368.1" r="5.6" fill="#472877"/><circle cx="614.5" cy="302.1" r="5.6" fill="#461264"/><circle cx="979.4" cy="231.3" r="5.6" fill="#471769"/><circle cx="490.5" cy="341.3" r="5.6" fill="#471a6b"/><circle cx="866.8" cy="287.1" r="5.6" fill="#471c6d"/><circle cx="1013.3" cy="379.1" r="5.6" fill="#482374"/><circle cx="1078.4" cy="421.8" r="5.6" fill="#472a78"/><circle cx="838.3" cy="188.5" r="5.6" fill="#45095c"/><circle cx="255.8" cy="525.3" r="5.6" fill="#414587"/><circle cx="971.5" cy="425.7" r="5.6" fill="#472978"/><circle cx="521.4" cy="325.1" r="5.6" fill="#450c5f"/><circle cx="814.0" cy="327.5" r="5.6" fill="#460f62"/><circle cx="866.0" cy="344.3" r="5.6" fill="#471b6c"/><circle cx="823.3" cy="278.6" r="5.6" fill="#47186a"/><circle cx="502.4" cy="391.2" r="5.6" fill="#482172"/><circle cx="967.3" cy="467.6" r="5.6" fill="#482173"/><circle cx="282.7" cy="557.3" r="5.6" fill="#414387"/><circle cx="470.8" cy="359.3" r="5.6" fill="#462c7a"/><circle cx="444.4" cy="436.8" r="5.6" fill="#482475"/><circle cx="943.4" cy="263.3" r="5.6" fill="#461769"/><circle cx="1058.5" cy="364.0" r="5.6" fill="#471f70"/><circle cx="458.3" cy="308.6" r="5.6" fill="#440456"/><circle cx="685.6" cy="280.7" r="5.6" fill="#450e60"/><circle cx="463.8" cy="351.6" r="5.6" fill="#482172"/><circle cx="270.3" cy="633.5" r="5.6" fill="#477989"/><circle cx="924.4" cy="210.7" r="5.6" fill="#440154"/><circle cx="238.3" cy="519.0" r="5.6" fill="#424f89"/><circle cx="945.6" cy="188.4" r="5.6" fill="#461062"/><circle cx="358.8" cy="584.6" r="5.6" fill="#446489"/><circle cx="953.2" cy="254.3" r="5.6" fill="#440557"/><circle cx="324.6" cy="556.9" r="5.6" fill="#467689"/><circle cx="330.7" cy="634.1" r="5.6" fill="#435989"/><circle cx="621.7" cy="292.4" r="5.6" fill="#450759"/><circle cx="388.9" cy="399.1" r="5.6" fill="#450b5e"/><circle cx="488.8" cy="363.8" r="5.6" fill="#461667"/><circle cx="826.1" cy="190.7" r="5.6" fill="#450b5d"/><circle cx="767.5" cy="327.7" r="5.6" fill="#45085b"/><circle cx="811.0" cy="379.7" r="5.6" fill="#461365"/><circle cx="976.1" cy="248.8" r="5.6" fill="#482273"/><circle cx="451.2" cy="406.7" r="5.6" fill="#482273"/><circle cx="696.2" cy="267.9" r="5.6" fill="#460f62"/><circle cx="870.9" cy="326.9" r="5.6" fill="#460f61"/><circle cx="869.9" cy="279.0" r="5.6" fill="#462c79"/><circle cx="811.5" cy="276.2" r="5.6" fill="#450a5c"/><circle cx="816.6" cy="359.4" r="5.6" fill="#47186a"/><circle cx="567.6" cy="317.0" r="5.6" fill="#471c6d"/><circle cx="482.0" cy="269.2" r="5.6" fill="#47186a"/><circle cx="707.7" cy="270.8" r="5.6" fill="#450c5f"/><circle cx="361.7" cy="613.8" r="5.6" fill="#445f89"/><circle cx="807.1" cy="361.1" r="5.6" fill="#45075a"/><circle cx="159.1" cy="452.6" r="5.6" fill="#414a88"/><circle cx="453.1" cy="310.1" r="5.6" fill="#450a5d"/><circle cx="429.9" cy="303.4" r="5.6" fill="#461466"/><circle cx="469.1" cy="325.8" r="5.6" fill="#450c5e"/><circle cx="292.2" cy="561.0" r="5.6" fill="#424d88"/><circle cx="442.2" cy="316.6" r="5.6" fill="#45085b"/><circle cx="979.3" cy="460.4" r="5.6" fill="#47186a"/><circle cx="893.2" cy="243.0" r="5.6" fill="#440154"/><circle cx="481.9" cy="341.3" r="5.6" fill="#440154"/><circle cx="428.6" cy="344.0" r="5.6" fill="#450d5f"/><circle cx="1013.5" cy="401.1" r="5.6" fill="#472978"/><circle cx="261.3" cy="610.6" r="5.6" fill="#446189"/><circle cx="978.6" cy="295.2" r="5.6" fill="#472b79"/><circle cx="652.3" cy="349.6" r="5.6" fill="#450d5f"/><circle cx="747.2" cy="334.7" r="5.6" fill="#461264"/><circle cx="577.5" cy="300.5" r="5.6" fill="#471d6f"/><circle cx="987.5" cy="437.6" r="5.6" fill="#461567"/><circle cx="1081.7" cy="461.2" r="5.6" fill="#482172"/><circle cx="970.1" cy="433.1" r="5.6" fill="#45327d"/><circle cx="393.8" cy="388.2" r="5.6" fill="#471b6d"/><circle cx="951.2" cy="281.8" r="5.6" fill="#461163"/><circle cx="872.3" cy="262.5" r="5.6" fill="#440154"/><circle cx="639.1" cy="359.0" r="5.6" fill="#45095c"/><circle cx="813.6" cy="261.7" r="5.6" fill="#45085a"/><circle cx="362.4" cy="506.5" r="5.6" fill="#445e89"/><circle cx="998.9" cy="358.8" r="5.6" fill="#472877"/><circle cx="1079.7" cy="571.8" r="5.6" fill="#433b82"/><circle cx="879.5" cy="225.8" r="5.6" fill="#450658"/><circle cx="1006.7" cy="416.4" r="5.6" fill="#45307c"/><circle cx="460.2" cy="402.2" r="5.6" fill="#440154"/><circle cx="346.4" cy="468.0" r="5.6" fill="#446189"/><circle cx="145.6" cy="509.3" r="5.6" fill="#435989"/><circle cx="204.5" cy="522.6" r="5.6" fill="#472b79"/><circle cx="946.9" cy="290.8" r="5.6" fill="#450c5f"/><circle cx="575.6" cy="358.5" r="5.6" fill="#461264"/><circle cx="982.3" cy="375.8" r="5.6" fill="#462d7a"/><circle cx="392.0" cy="381.1" r="5.6" fill="#471769"/><circle cx="888.9" cy="259.7" r="5.6" fill="#471869"/><circle cx="939.9" cy="192.4" r="5.6" fill="#482071"/><circle cx="488.9" cy="301.9" r="5.6" fill="#461062"/><circle cx="966.7" cy="256.9" r="5.6" fill="#482576"/><circle cx="751.6" cy="226.1" r="5.6" fill="#450e60"/><circle cx="923.0" cy="243.9" r="5.6" fill="#461365"/><circle cx="440.8" cy="289.2" r="5.6" fill="#440558"/><circle cx="168.3" cy="526.7" r="5.6" fill="#414487"/><circle cx="1065.5" cy="427.1" r="5.6" fill="#471c6e"/><circle cx="815.2" cy="307.9" r="5.6" fill="#450c5e"/><circle cx="842.6" cy="340.2" r="5.6" fill="#461163"/><circle cx="692.7" cy="263.8" r="5.6" fill="#450a5c"/><circle cx="216.0" cy="586.8" r="5.6" fill="#424d88"/><circle cx="1062.4" cy="477.9" r="5.6" fill="#45347e"/><circle cx="819.8" cy="264.0" r="5.6" fill="#461163"/><circle cx="283.9" cy="638.7" r="5.6" fill="#435789"/><circle cx="969.7" cy="435.9" r="5.6" fill="#443880"/><circle cx="235.3" cy="595.3" r="5.6" fill="#414487"/><circle cx="290.5" cy="530.3" r="5.6" fill="#467789"/><circle cx="939.1" cy="308.7" r="5.6" fill="#471c6d"/><circle cx="970.6" cy="304.1" r="5.6" fill="#472978"/><circle cx="892.4" cy="237.6" r="5.6" fill="#461062"/><circle cx="383.9" cy="621.9" r="5.6" fill="#446589"/><circle cx="218.6" cy="572.9" r="5.6" fill="#467589"/><circle cx="412.9" cy="445.8" r="5.6" fill="#414687"/><circle cx="1065.9" cy="532.2" r="5.6" fill="#472978"/><circle cx="889.4" cy="218.9" r="5.6" fill="#45095b"/><circle cx="502.2" cy="356.7" r="5.6" fill="#472978"/><circle cx="734.0" cy="239.2" r="5.6" fill="#461667"/><circle cx="921.0" cy="176.1" r="5.6" fill="#482172"/><circle cx="751.3" cy="391.7" r="5.6" fill="#461466"/><circle cx="332.8" cy="490.6" r="5.6" fill="#435b89"/><circle cx="817.1" cy="214.6" r="5.6" fill="#45085b"/><circle cx="310.1" cy="613.9" r="5.6" fill="#424d88"/><circle cx="679.3" cy="249.7" r="5.6" fill="#450d5f"/><circle cx="473.6" cy="393.6" r="5.6" fill="#460f61"/><circle cx="265.8" cy="525.4" r="5.6" fill="#425489"/><circle cx="832.1" cy="226.8" r="5.6" fill="#450e60"/><circle cx="328.5" cy="623.4" r="5.6" fill="#498389"/><circle cx="195.3" cy="622.2" r="5.6" fill="#445f89"/><circle cx="920.8" cy="188.1" r="5.6" fill="#440457"/><circle cx="426.0" cy="354.2" r="5.6" fill="#440457"/><circle cx="838.2" cy="335.0" r="5.6" fill="#450659"/><circle cx="253.3" cy="509.1" r="5.6" fill="#461365"/><circle cx="418.8" cy="520.4" r="5.6" fill="#424c88"/><circle cx="1049.7" cy="471.3" r="5.6" fill="#433a81"/><circle cx="734.7" cy="326.0" r="5.6" fill="#461063"/><circle cx="294.1" cy="594.2" r="5.6" fill="#44357f"/><circle cx="645.1" cy="274.3" r="5.6" fill="#440356"/><circle cx="415.9" cy="521.9" r="5.6" fill="#424085"/><circle cx="446.1" cy="376.9" r="5.6" fill="#482676"/><circle cx="209.0" cy="467.5" r="5.6" fill="#423f84"/><circle cx="450.7" cy="309.2" r="5.6" fill="#450d5f"/><circle cx="994.7" cy="470.2" r="5.6" fill="#471d6e"/><circle cx="207.2" cy="578.3" r="5.6" fill="#435789"/><circle cx="514.2" cy="336.7" r="5.6" fill="#461264"/><circle cx="620.0" cy="300.3" r="5.6" fill="#471769"/><circle cx="495.1" cy="360.3" r="5.6" fill="#482172"/><circle cx="285.5" cy="584.8" r="5.6" fill="#446089"/><circle cx="314.9" cy="448.1" r="5.6" fill="#45317c"/><circle cx="494.5" cy="373.8" r="5.6" fill="#461163"/><circle cx="769.5" cy="295.5" r="5.6" fill="#440154"/><circle cx="805.2" cy="349.0" r="5.6" fill="#450e60"/><circle cx="756.4" cy="332.8" r="5.6" fill="#460f61"/><circle cx="903.3" cy="228.8" r="5.6" fill="#450c5e"/><circle cx="977.6" cy="362.5" r="5.6" fill="#471e6f"/><circle cx="206.8" cy="591.0" r="5.6" fill="#446189"/><circle cx="1058.4" cy="337.6" r="5.6" fill="#461667"/><circle cx="501.8" cy="375.2" r="5.6" fill="#44367f"/><circle cx="909.6" cy="221.6" r="5.6" fill="#450e60"/><circle cx="807.5" cy="311.8" r="5.6" fill="#450e60"/><circle cx="251.4" cy="453.8" r="5.6" fill="#471b6d"/><circle cx="950.9" cy="300.5" r="5.6" fill="#471869"/><circle cx="346.8" cy="452.6" r="5.6" fill="#424085"/><circle cx="160.1" cy="563.1" r="5.6" fill="#414487"/><circle cx="413.3" cy="342.7" r="5.6" fill="#440558"/><circle cx="155.5" cy="539.9" r="5.6" fill="#435689"/><circle cx="665.0" cy="349.3" r="5.6" fill="#461062"/><circle cx="251.8" cy="549.0" r="5.6" fill="#425189"/><circle cx="362.8" cy="442.4" r="5.6" fill="#433b82"/><circle cx="396.0" cy="397.2" r="5.6" fill="#482071"/><circle cx="515.3" cy="307.3" r="5.6" fill="#440154"/><circle cx="322.7" cy="578.6" r="5.6" fill="#457089"/><circle cx="293.0" cy="589.0" r="5.6" fill="#456889"/><circle cx="671.0" cy="350.6" r="5.6" fill="#461163"/><circle cx="1067.6" cy="512.3" r="5.6" fill="#472978"/><circle cx="629.3" cy="366.4" r="5.6" fill="#450e60"/><circle cx="396.7" cy="604.1" r="5.6" fill="#482273"/><circle cx="352.8" cy="445.2" r="5.6" fill="#435689"/><circle cx="317.7" cy="606.6" r="5.6" fill="#467489"/><circle cx="206.8" cy="573.4" r="5.6" fill="#425589"/><circle cx="803.0" cy="327.0" r="5.6" fill="#471869"/><circle cx="1072.4" cy="426.5" r="5.6" fill="#471f70"/><circle cx="889.8" cy="382.1" r="5.6" fill="#440154"/><circle cx="762.4" cy="278.3" r="5.6" fill="#461163"/><circle cx="146.8" cy="493.0" r="5.6" fill="#414888"/><circle cx="1011.0" cy="454.2" r="5.6" fill="#461466"/><circle cx="906.0" cy="191.5" r="5.6" fill="#440154"/><circle cx="873.5" cy="372.5" r="5.6" fill="#450e60"/><circle cx="977.2" cy="366.0" r="5.6" fill="#472877"/><circle cx="481.6" cy="295.9" r="5.6" fill="#450d5f"/><circle cx="444.6" cy="332.8" r="5.6" fill="#450d5f"/><circle cx="467.9" cy="293.1" r="5.6" fill="#440154"/><circle cx="940.3" cy="232.4" r="5.6" fill="#47186a"/><circle cx="445.0" cy="377.3" r="5.6" fill="#461768"/><circle cx="987.7" cy="439.6" r="5.6" fill="#461466"/><circle cx="1067.1" cy="341.1" r="5.6" fill="#461768"/><circle cx="164.3" cy="492.9" r="5.6" fill="#425089"/><circle cx="250.2" cy="553.2" r="5.6" fill="#45307c"/><circle cx="330.2" cy="603.3" r="5.6" fill="#445f89"/><circle cx="216.1" cy="578.3" r="5.6" fill="#445f89"/><circle cx="883.0" cy="217.8" r="5.6" fill="#450a5c"/><circle cx="642.3" cy="274.1" r="5.6" fill="#461264"/><circle cx="415.9" cy="371.0" r="5.6" fill="#45085a"/><circle cx="968.4" cy="264.3" r="5.6" fill="#482273"/><circle cx="1077.1" cy="428.4" r="5.6" fill="#45307c"/><circle cx="689.0" cy="264.4" r="5.6" fill="#45095c"/><circle cx="351.8" cy="453.7" r="5.6" fill="#435789"/><circle cx="435.7" cy="437.3" r="5.6" fill="#433b82"/><circle cx="651.1" cy="334.1" r="5.6" fill="#460f61"/><circle cx="1065.2" cy="575.1" r="5.6" fill="#482172"/><circle cx="441.8" cy="304.1" r="5.6" fill="#440457"/><circle cx="267.0" cy="501.4" r="5.6" fill="#414387"/><circle cx="932.9" cy="387.4" r="5.6" fill="#482273"/><circle cx="229.5" cy="618.8" r="5.6" fill="#435789"/><circle cx="942.1" cy="310.0" r="5.6" fill="#471f71"/><circle cx="594.6" cy="295.2" r="5.6" fill="#450b5d"/><circle cx="378.4" cy="445.6" r="5.6" fill="#471e6f"/><circle cx="527.9" cy="314.4" r="5.6" fill="#461062"/><circle cx="234.2" cy="628.7" r="5.6" fill="#446089"/><circle cx="1001.9" cy="444.3" r="5.6" fill="#47186a"/><circle cx="1017.5" cy="264.9" r="5.6" fill="#482172"/><circle cx="1075.2" cy="466.2" r="5.6" fill="#462c7a"/><circle cx="1071.6" cy="389.7" r="5.6" fill="#433b82"/><circle cx="557.5" cy="359.6" r="5.6" fill="#461365"/><circle cx="170.5" cy="580.2" r="5.6" fill="#44357f"/><circle cx="277.2" cy="626.7" r="5.6" fill="#488189"/><circle cx="832.5" cy="371.7" r="5.6" fill="#461668"/><circle cx="232.8" cy="519.0" r="5.6" fill="#446089"/><circle cx="740.4" cy="349.5" r="5.6" fill="#450b5e"/><circle cx="685.5" cy="256.5" r="5.6" fill="#450c5f"/><circle cx="360.1" cy="595.7" r="5.6" fill="#467689"/><circle cx="1055.4" cy="405.2" r="5.6" fill="#471d6e"/><circle cx="928.1" cy="217.0" r="5.6" fill="#450c5e"/><circle cx="921.1" cy="393.8" r="5.6" fill="#482475"/><circle cx="265.9" cy="521.2" r="5.6" fill="#435a89"/><circle cx="1070.1" cy="463.8" r="5.6" fill="#44357f"/><circle cx="169.7" cy="475.1" r="5.6" fill="#443880"/><circle cx="551.9" cy="359.8" r="5.6" fill="#440558"/><circle cx="142.0" cy="544.3" r="5.6" fill="#45337d"/><circle cx="504.2" cy="379.2" r="5.6" fill="#462b79"/><circle cx="1014.2" cy="343.3" r="5.6" fill="#482374"/><circle cx="836.7" cy="220.6" r="5.6" fill="#460e61"/><circle cx="996.6" cy="315.4" r="5.6" fill="#472b79"/><circle cx="477.8" cy="377.8" r="5.6" fill="#482173"/><circle cx="198.7" cy="541.1" r="5.6" fill="#414787"/><circle cx="947.3" cy="246.8" r="5.6" fill="#461264"/><circle cx="973.0" cy="331.0" r="5.6" fill="#482273"/><circle cx="759.5" cy="369.2" r="5.6" fill="#461164"/><circle cx="764.9" cy="353.4" r="5.6" fill="#461365"/><circle cx="762.5" cy="296.3" r="5.6" fill="#450e60"/><circle cx="971.3" cy="378.7" r="5.6" fill="#45337d"/><circle cx="925.3" cy="403.0" r="5.6" fill="#472877"/><circle cx="872.1" cy="390.2" r="5.6" fill="#45095b"/><circle cx="985.0" cy="350.0" r="5.6" fill="#471d6e"/><circle cx="1020.7" cy="293.2" r="5.6" fill="#462d7a"/><circle cx="947.0" cy="391.8" r="5.6" fill="#472877"/><circle cx="911.0" cy="216.9" r="5.6" fill="#460e61"/><circle cx="445.1" cy="423.9" r="5.6" fill="#425289"/><circle cx="952.3" cy="216.9" r="5.6" fill="#482273"/><circle cx="217.1" cy="634.3" r="5.6" fill="#414a88"/><circle cx="596.3" cy="374.1" r="5.6" fill="#450d60"/><circle cx="192.6" cy="498.6" r="5.6" fill="#414a88"/><circle cx="345.5" cy="467.7" r="5.6" fill="#414787"/><circle cx="969.4" cy="370.3" r="5.6" fill="#462f7b"/><circle cx="776.5" cy="287.1" r="5.6" fill="#461163"/><circle cx="393.4" cy="632.0" r="5.6" fill="#456e89"/><circle cx="243.5" cy="573.3" r="5.6" fill="#414888"/><circle cx="439.6" cy="406.1" r="5.6" fill="#472a78"/><circle cx="1006.0" cy="366.3" r="5.6" fill="#45307c"/><circle cx="389.1" cy="356.1" r="5.6" fill="#45095b"/><circle cx="539.7" cy="329.0" r="5.6" fill="#461163"/><circle cx="400.4" cy="589.1" r="5.6" fill="#445f89"/><circle cx="941.2" cy="372.3" r="5.6" fill="#450658"/><circle cx="604.5" cy="362.6" r="5.6" fill="#461062"/><circle cx="900.0" cy="220.1" r="5.6" fill="#440558"/><circle cx="201.7" cy="559.2" r="5.6" fill="#467389"/><circle cx="1013.5" cy="383.9" r="5.6" fill="#433981"/><circle cx="1067.7" cy="468.6" r="5.6" fill="#462c7a"/><circle cx="481.6" cy="341.6" r="5.6" fill="#482273"/><circle cx="275.5" cy="583.1" r="5.6" fill="#435e89"/><circle cx="837.8" cy="357.9" r="5.6" fill="#460f61"/><circle cx="949.9" cy="269.1" r="5.6" fill="#482273"/><circle cx="329.6" cy="445.0" r="5.6" fill="#462e7b"/><circle cx="1056.0" cy="406.0" r="5.6" fill="#472777"/><circle cx="1047.2" cy="401.5" r="5.6" fill="#482575"/><circle cx="514.4" cy="321.7" r="5.6" fill="#471f71"/><circle cx="339.7" cy="495.9" r="5.6" fill="#456989"/><circle cx="361.3" cy="462.9" r="5.6" fill="#435889"/><circle cx="202.5" cy="614.2" r="5.6" fill="#425389"/><circle cx="586.0" cy="337.0" r="5.6" fill="#450558"/><circle cx="944.5" cy="264.9" r="5.6" fill="#471a6c"/><circle cx="842.2" cy="222.0" r="5.6" fill="#461668"/><circle cx="1006.3" cy="416.0" r="5.6" fill="#462e7b"/><circle cx="938.1" cy="313.6" r="5.6" fill="#461466"/><circle cx="408.2" cy="577.8" r="5.6" fill="#456a89"/><circle cx="437.8" cy="413.5" r="5.6" fill="#433981"/><circle cx="757.6" cy="274.0" r="5.6" fill="#461466"/><circle cx="1069.0" cy="434.1" r="5.6" fill="#433a81"/><circle cx="428.7" cy="309.4" r="5.6" fill="#471769"/><circle cx="498.1" cy="372.0" r="5.6" fill="#414587"/><circle cx="412.4" cy="546.4" r="5.6" fill="#424b88"/><circle cx="946.9" cy="246.2" r="5.6" fill="#450d60"/><circle cx="666.0" cy="254.3" r="5.6" fill="#450a5c"/><circle cx="970.9" cy="470.3" r="5.6" fill="#461567"/><circle cx="695.9" cy="278.8" r="5.6" fill="#45075a"/><circle cx="398.5" cy="338.0" r="5.6" fill="#471c6d"/><circle cx="865.3" cy="335.8" r="5.6" fill="#461466"/><circle cx="289.3" cy="546.4" r="5.6" fill="#457089"/><circle cx="973.3" cy="408.1" r="5.6" fill="#45327d"/><circle cx="683.9" cy="344.7" r="5.6" fill="#450e60"/><circle cx="250.7" cy="506.9" r="5.6" fill="#414487"/><circle cx="634.9" cy="351.6" r="5.6" fill="#450658"/><circle cx="765.4" cy="327.3" r="5.6" fill="#461567"/><circle cx="817.6" cy="206.9" r="5.6" fill="#450c5f"/><circle cx="765.7" cy="326.6" r="5.6" fill="#460e60"/><circle cx="974.8" cy="247.0" r="5.6" fill="#472777"/><circle cx="767.8" cy="346.2" r="5.6" fill="#440457"/><circle cx="1076.5" cy="555.6" r="5.6" fill="#414888"/><circle cx="815.4" cy="329.2" r="5.6" fill="#45075a"/><circle cx="877.5" cy="244.0" r="5.6" fill="#461668"/><circle cx="412.8" cy="423.1" r="5.6" fill="#482475"/><circle cx="687.0" cy="290.3" r="5.6" fill="#450658"/><circle cx="999.5" cy="397.8" r="5.6" fill="#472777"/><circle cx="979.1" cy="317.5" r="5.6" fill="#482575"/><circle cx="996.8" cy="335.2" r="5.6" fill="#462e7a"/><circle cx="403.0" cy="583.2" r="5.6" fill="#446089"/><circle cx="905.0" cy="284.1" r="5.6" fill="#482374"/><circle cx="211.1" cy="578.9" r="5.6" fill="#446289"/><circle cx="923.9" cy="378.0" r="5.6" fill="#471c6d"/><circle cx="196.3" cy="618.0" r="5.6" fill="#456e89"/><circle cx="808.0" cy="296.3" r="5.6" fill="#450a5c"/><circle cx="745.6" cy="225.6" r="5.6" fill="#440255"/><circle cx="255.3" cy="528.1" r="5.6" fill="#414b88"/><circle cx="309.7" cy="584.8" r="5.6" fill="#456d89"/><circle cx="424.2" cy="393.6" r="5.6" fill="#461062"/><circle cx="890.8" cy="385.0" r="5.6" fill="#450c5f"/><circle cx="409.6" cy="475.9" r="5.6" fill="#414587"/><circle cx="966.3" cy="412.5" r="5.6" fill="#472978"/><circle cx="962.1" cy="452.8" r="5.6" fill="#472978"/><circle cx="465.6" cy="377.9" r="5.6" fill="#45347e"/><circle cx="435.9" cy="332.4" r="5.6" fill="#461668"/><circle cx="867.6" cy="295.2" r="5.6" fill="#461768"/><circle cx="176.3" cy="447.3" r="5.6" fill="#462e7b"/><circle cx="395.9" cy="574.9" r="5.6" fill="#425389"/><circle cx="1047.6" cy="425.2" r="5.6" fill="#482274"/><circle cx="939.6" cy="397.2" r="5.6" fill="#460f62"/><circle cx="868.6" cy="226.2" r="5.6" fill="#460f62"/><circle cx="844.7" cy="214.9" r="5.6" fill="#45085b"/><circle cx="723.9" cy="228.5" r="5.6" fill="#461365"/><circle cx="981.7" cy="423.8" r="5.6" fill="#47196b"/><circle cx="590.0" cy="345.2" r="5.6" fill="#471a6c"/><circle cx="617.8" cy="302.4" r="5.6" fill="#461163"/><circle cx="731.2" cy="211.5" r="5.6" fill="#440558"/><circle cx="325.1" cy="453.6" r="5.6" fill="#443780"/><circle cx="907.9" cy="190.4" r="5.6" fill="#471d6f"/><circle cx="336.5" cy="514.9" r="5.6" fill="#435889"/><circle cx="1011.0" cy="385.6" r="5.6" fill="#462c7a"/><circle cx="1072.0" cy="491.5" r="5.6" fill="#462e7a"/><circle cx="274.4" cy="608.3" r="5.6" fill="#435789"/><circle cx="947.9" cy="342.7" r="5.6" fill="#461264"/><circle cx="973.6" cy="298.8" r="5.6" fill="#462d7a"/><circle cx="1064.0" cy="396.3" r="5.6" fill="#471f70"/><circle cx="383.0" cy="583.1" r="5.6" fill="#482676"/><circle cx="1082.2" cy="510.9" r="5.6" fill="#471a6b"/><circle cx="722.6" cy="276.3" r="5.6" fill="#440457"/><circle cx="430.0" cy="414.5" r="5.6" fill="#414587"/><circle cx="892.6" cy="214.4" r="5.6" fill="#450b5d"/><circle cx="263.6" cy="564.8" r="5.6" fill="#445e89"/><circle cx="862.6" cy="336.2" r="5.6" fill="#471b6c"/><circle cx="680.4" cy="263.2" r="5.6" fill="#461567"/><circle cx="1016.0" cy="272.8" r="5.6" fill="#45337d"/><circle cx="214.0" cy="497.0" r="5.6" fill="#443880"/><circle cx="448.7" cy="289.6" r="5.6" fill="#450c5e"/><circle cx="686.5" cy="292.2" r="5.6" fill="#45085a"/><circle cx="335.7" cy="451.7" r="5.6" fill="#425489"/><circle cx="900.8" cy="271.8" r="5.6" fill="#460f61"/><circle cx="207.1" cy="531.7" r="5.6" fill="#414888"/><circle cx="486.4" cy="377.7" r="5.6" fill="#472a79"/><circle cx="451.3" cy="382.3" r="5.6" fill="#45317c"/><circle cx="687.2" cy="342.3" r="5.6" fill="#450c5f"/><circle cx="391.2" cy="490.1" r="5.6" fill="#414687"/><circle cx="213.1" cy="588.4" r="5.6" fill="#446689"/><circle cx="283.4" cy="595.1" r="5.6" fill="#435b89"/><circle cx="826.3" cy="206.9" r="5.6" fill="#450759"/><circle cx="361.1" cy="87.1" r="5.6" fill="#450c5e"/><circle cx="358.2" cy="118.2" r="5.6" fill="#450c5e"/><circle cx="478.9" cy="159.6" r="5.6" fill="#450c5e"/><circle cx="485.6" cy="186.0" r="5.6" fill="#450c5e"/><circle cx="482.0" cy="204.0" r="5.6" fill="#450c5e"/><circle cx="484.9" cy="216.7" r="5.6" fill="#450c5e"/><circle cx="486.7" cy="222.7" r="5.6" fill="#450c5e"/><circle cx="483.3" cy="227.8" r="5.6" fill="#450c5e"/><circle cx="420.7" cy="188.2" r="5.6" fill="#450c5e"/><circle cx="415.6" cy="204.4" r="5.6" fill="#450c5e"/><circle cx="418.9" cy="207.1" r="5.6" fill="#450c5e"/><circle cx="425.6" cy="212.9" r="5.6" fill="#450c5e"/><circle cx="416.2" cy="224.4" r="5.6" fill="#450c5e"/><circle cx="417.8" cy="228.9" r="5.6" fill="#450c5e"/><circle cx="416.2" cy="232.9" r="5.6" fill="#450c5e"/><circle cx="355.6" cy="224.4" r="5.6" fill="#450c5e"/><circle cx="358.9" cy="233.3" r="5.6" fill="#450c5e"/><circle cx="392.2" cy="238.9" r="5.6" fill="#450c5e"/><circle cx="464.4" cy="233.3" r="5.6" fill="#450c5e"/><circle cx="554.9" cy="180.4" r="5.6" fill="#450c5e"/><circle cx="554.4" cy="204.9" r="5.6" fill="#450c5e"/><circle cx="561.1" cy="211.1" r="5.6" fill="#450c5e"/><circle cx="562.9" cy="221.1" r="5.6" fill="#450c5e"/><circle cx="557.8" cy="231.1" r="5.6" fill="#450c5e"/><circle cx="554.4" cy="236.7" r="5.6" fill="#450c5e"/><circle cx="633.3" cy="134.4" r="5.6" fill="#450c5e"/><circle cx="633.3" cy="160.0" r="5.6" fill="#450c5e"/><circle cx="632.2" cy="182.2" r="5.6" fill="#450c5e"/><circle cx="663.3" cy="162.2" r="5.6" fill="#450c5e"/><circle cx="669.6" cy="209.3" r="5.6" fill="#450c5e"/><circle cx="664.4" cy="220.4" r="5.6" fill="#450c5e"/><circle cx="662.2" cy="226.2" r="5.6" fill="#450c5e"/><circle cx="723.8" cy="54.0" r="5.6" fill="#450c5e"/><circle cx="725.6" cy="105.6" r="5.6" fill="#450c5e"/><circle cx="728.9" cy="106.7" r="5.6" fill="#450c5e"/><circle cx="727.8" cy="113.3" r="5.6" fill="#450c5e"/><circle cx="731.1" cy="120.0" r="5.6" fill="#450c5e"/><circle cx="724.4" cy="124.4" r="5.6" fill="#450c5e"/><circle cx="722.2" cy="131.1" r="5.6" fill="#450c5e"/><circle cx="731.8" cy="143.3" r="5.6" fill="#450c5e"/><circle cx="732.2" cy="152.2" r="5.6" fill="#450c5e"/><circle cx="721.1" cy="154.4" r="5.6" fill="#450c5e"/><circle cx="726.7" cy="168.9" r="5.6" fill="#450c5e"/><circle cx="733.3" cy="173.3" r="5.6" fill="#450c5e"/><circle cx="734.4" cy="178.9" r="5.6" fill="#450c5e"/><circle cx="725.6" cy="182.2" r="5.6" fill="#450c5e"/><circle cx="722.2" cy="195.6" r="5.6" fill="#450c5e"/><circle cx="745.6" cy="190.0" r="5.6" fill="#450c5e"/><circle cx="743.3" cy="195.6" r="5.6" fill="#450c5e"/><circle cx="731.1" cy="195.6" r="5.6" fill="#450c5e"/><circle cx="763.3" cy="220.0" r="5.6" fill="#450c5e"/><circle cx="772.2" cy="232.2" r="5.6" fill="#450c5e"/><circle cx="822.2" cy="73.3" r="5.6" fill="#450c5e"/><circle cx="828.9" cy="80.0" r="5.6" fill="#450c5e"/><circle cx="818.9" cy="78.9" r="5.6" fill="#450c5e"/><circle cx="842.2" cy="76.7" r="5.6" fill="#450c5e"/><circle cx="844.4" cy="84.4" r="5.6" fill="#450c5e"/><circle cx="823.3" cy="87.8" r="5.6" fill="#450c5e"/><circle cx="837.8" cy="87.8" r="5.6" fill="#450c5e"/><circle cx="841.1" cy="93.3" r="5.6" fill="#450c5e"/><circle cx="828.9" cy="97.8" r="5.6" fill="#450c5e"/><circle cx="830.0" cy="102.2" r="5.6" fill="#450c5e"/><circle cx="843.3" cy="103.3" r="5.6" fill="#450c5e"/><circle cx="844.4" cy="113.3" r="5.6" fill="#450c5e"/><circle cx="838.9" cy="116.7" r="5.6" fill="#450c5e"/><circle cx="826.7" cy="117.8" r="5.6" fill="#450c5e"/><circle cx="820.0" cy="121.1" r="5.6" fill="#450c5e"/><circle cx="818.9" cy="125.6" r="5.6" fill="#450c5e"/><circle cx="837.8" cy="127.8" r="5.6" fill="#450c5e"/><circle cx="808.9" cy="120.0" r="5.6" fill="#450c5e"/><circle cx="807.8" cy="140.0" r="5.6" fill="#450c5e"/><circle cx="819.3" cy="147.1" r="5.6" fill="#450c5e"/><circle cx="840.0" cy="144.0" r="5.6" fill="#450c5e"/><circle cx="826.7" cy="160.4" r="5.6" fill="#450c5e"/><circle cx="840.0" cy="164.4" r="5.6" fill="#450c5e"/><circle cx="807.8" cy="155.6" r="5.6" fill="#450c5e"/><circle cx="801.1" cy="164.4" r="5.6" fill="#450c5e"/><circle cx="801.1" cy="173.3" r="5.6" fill="#450c5e"/><circle cx="810.0" cy="178.9" r="5.6" fill="#450c5e"/><circle cx="821.1" cy="173.3" r="5.6" fill="#450c5e"/><circle cx="823.3" cy="178.9" r="5.6" fill="#450c5e"/><circle cx="840.0" cy="178.9" r="5.6" fill="#450c5e"/><circle cx="846.7" cy="186.7" r="5.6" fill="#450c5e"/><circle cx="804.4" cy="190.0" r="5.6" fill="#450c5e"/><circle cx="805.6" cy="196.7" r="5.6" fill="#450c5e"/><circle cx="798.9" cy="206.7" r="5.6" fill="#450c5e"/><circle cx="796.7" cy="212.2" r="5.6" fill="#450c5e"/><circle cx="807.8" cy="213.3" r="5.6" fill="#450c5e"/><circle cx="873.3" cy="153.8" r="5.6" fill="#450c5e"/><circle cx="876.7" cy="170.0" r="5.6" fill="#450c5e"/><circle cx="902.2" cy="188.4" r="5.6" fill="#450c5e"/><circle cx="903.3" cy="200.0" r="5.6" fill="#450c5e"/><circle cx="883.3" cy="192.2" r="5.6" fill="#450c5e"/><circle cx="873.3" cy="195.6" r="5.6" fill="#450c5e"/><circle cx="870.0" cy="200.0" r="5.6" fill="#450c5e"/><circle cx="866.7" cy="208.9" r="5.6" fill="#450c5e"/><circle cx="916.7" cy="156.7" r="5.6" fill="#450c5e"/><circle cx="921.1" cy="163.3" r="5.6" fill="#450c5e"/><circle cx="914.4" cy="171.1" r="5.6" fill="#450c5e"/><circle cx="918.9" cy="180.0" r="5.6" fill="#450c5e"/><circle cx="914.4" cy="192.2" r="5.6" fill="#450c5e"/><circle cx="925.6" cy="168.9" r="5.6" fill="#450c5e"/><circle cx="1006.2" cy="212.9" r="5.6" fill="#482475"/><circle cx="1015.4" cy="217.1" r="5.6" fill="#482475"/><circle cx="1017.8" cy="227.1" r="5.6" fill="#482475"/><circle cx="1016.2" cy="239.5" r="5.6" fill="#482475"/><circle cx="1012.0" cy="246.1" r="5.6" fill="#482475"/><circle cx="1018.7" cy="252.8" r="5.6" fill="#482475"/><circle cx="1019.5" cy="266.1" r="5.6" fill="#482475"/><circle cx="997.9" cy="259.4" r="5.6" fill="#482475"/><circle cx="1007.9" cy="259.4" r="5.6" fill="#482475"/><circle cx="1002.1" cy="271.0" r="5.6" fill="#482475"/><circle cx="1002.9" cy="279.3" r="5.6" fill="#482475"/><circle cx="1019.5" cy="286.0" r="5.6" fill="#482475"/><circle cx="1019.5" cy="292.6" r="5.6" fill="#482475"/><circle cx="1012.9" cy="297.6" r="5.6" fill="#482475"/><circle cx="999.6" cy="291.0" r="5.6" fill="#482475"/><circle cx="996.3" cy="302.6" r="5.6" fill="#482475"/><circle cx="999.6" cy="314.2" r="5.6" fill="#482475"/><circle cx="1016.2" cy="317.5" r="5.6" fill="#482475"/><circle cx="1068.5" cy="251.1" r="5.6" fill="#482475"/><circle cx="1064.3" cy="262.7" r="5.6" fill="#482475"/><circle cx="1056.0" cy="275.2" r="5.6" fill="#482475"/><circle cx="1066.0" cy="276.0" r="5.6" fill="#482475"/><circle cx="1072.6" cy="276.8" r="5.6" fill="#482475"/><circle cx="1066.0" cy="284.3" r="5.6" fill="#482475"/><circle cx="1071.0" cy="291.0" r="5.6" fill="#482475"/><circle cx="1061.8" cy="295.9" r="5.6" fill="#482475"/><circle cx="1074.3" cy="299.3" r="5.6" fill="#482475"/><circle cx="1072.6" cy="307.6" r="5.6" fill="#482475"/><circle cx="1041.1" cy="297.6" r="5.6" fill="#482475"/><circle cx="1049.4" cy="300.9" r="5.6" fill="#482475"/><circle cx="1056.0" cy="309.2" r="5.6" fill="#482475"/><circle cx="1039.4" cy="307.6" r="5.6" fill="#482475"/><circle cx="1066.0" cy="317.5" r="5.6" fill="#482475"/><circle cx="1052.7" cy="319.2" r="5.6" fill="#482475"/><circle cx="1041.1" cy="319.2" r="5.6" fill="#482475"/><circle cx="171.1" cy="320.0" r="5.6" fill="#423e83"/><circle cx="170.7" cy="346.7" r="5.6" fill="#423e83"/><circle cx="168.4" cy="360.7" r="5.6" fill="#482475"/><circle cx="166.7" cy="373.3" r="5.6" fill="#44347e"/><circle cx="164.0" cy="380.0" r="5.6" fill="#471d6e"/><circle cx="175.6" cy="393.3" r="5.6" fill="#450c5e"/><circle cx="167.8" cy="395.6" r="5.6" fill="#423e83"/><circle cx="163.3" cy="403.3" r="5.6" fill="#44347e"/><circle cx="168.9" cy="408.9" r="5.6" fill="#414487"/><circle cx="171.1" cy="414.4" r="5.6" fill="#414487"/><circle cx="162.2" cy="422.2" r="5.6" fill="#461264"/><circle cx="160.0" cy="428.9" r="5.6" fill="#423e83"/><circle cx="170.0" cy="428.9" r="5.6" fill="#414487"/><circle cx="176.7" cy="434.4" r="5.6" fill="#482475"/><circle cx="188.9" cy="424.0" r="5.6" fill="#414487"/><circle cx="198.9" cy="425.6" r="5.6" fill="#423e83"/><circle cx="200.0" cy="433.3" r="5.6" fill="#423e83"/><circle cx="208.9" cy="433.3" r="5.6" fill="#446289"/><circle cx="215.6" cy="424.4" r="5.6" fill="#44347e"/><circle cx="222.2" cy="425.6" r="5.6" fill="#44347e"/><circle cx="218.9" cy="433.3" r="5.6" fill="#423e83"/><circle cx="201.8" cy="382.9" r="5.6" fill="#423e83"/><circle cx="215.1" cy="366.7" r="5.6" fill="#482475"/><circle cx="216.7" cy="396.7" r="5.6" fill="#461264"/><circle cx="231.1" cy="395.1" r="5.6" fill="#471d6e"/><circle cx="237.8" cy="383.3" r="5.6" fill="#471d6e"/><circle cx="245.6" cy="402.2" r="5.6" fill="#482475"/><circle cx="235.6" cy="411.1" r="5.6" fill="#482475"/><circle cx="232.2" cy="417.8" r="5.6" fill="#482475"/><circle cx="240.0" cy="424.4" r="5.6" fill="#482475"/><circle cx="248.9" cy="430.0" r="5.6" fill="#482475"/><circle cx="254.4" cy="392.2" r="5.6" fill="#471d6e"/><circle cx="255.6" cy="404.4" r="5.6" fill="#423e83"/><circle cx="262.2" cy="403.3" r="5.6" fill="#482475"/><circle cx="264.4" cy="386.7" r="5.6" fill="#461264"/><circle cx="273.3" cy="378.9" r="5.6" fill="#44347e"/><circle cx="270.0" cy="354.4" r="5.6" fill="#450c5e"/><circle cx="258.4" cy="362.7" r="5.6" fill="#498688"/><circle cx="253.3" cy="415.6" r="5.6" fill="#44347e"/><circle cx="261.1" cy="417.8" r="5.6" fill="#423e83"/><circle cx="268.9" cy="424.4" r="5.6" fill="#482475"/><circle cx="260.0" cy="431.1" r="5.6" fill="#414487"/><circle cx="271.1" cy="406.7" r="5.6" fill="#423e83"/><circle cx="280.0" cy="416.7" r="5.6" fill="#425289"/><circle cx="286.7" cy="413.3" r="5.6" fill="#482475"/><circle cx="285.6" cy="424.4" r="5.6" fill="#44347e"/><circle cx="281.1" cy="435.6" r="5.6" fill="#44347e"/><circle cx="301.8" cy="393.3" r="5.6" fill="#461264"/><circle cx="304.4" cy="406.7" r="5.6" fill="#461264"/><circle cx="300.0" cy="415.6" r="5.6" fill="#471d6e"/><circle cx="302.2" cy="433.3" r="5.6" fill="#450c5e"/><circle cx="312.2" cy="436.7" r="5.6" fill="#461264"/><circle cx="321.1" cy="271.8" r="5.6" fill="#414487"/><circle cx="353.3" cy="284.9" r="5.6" fill="#450c5e"/><circle cx="312.9" cy="336.0" r="5.6" fill="#471d6e"/><circle cx="323.3" cy="331.6" r="5.6" fill="#482475"/><circle cx="324.4" cy="344.9" r="5.6" fill="#414a88"/><circle cx="315.6" cy="351.1" r="5.6" fill="#471d6e"/><circle cx="323.3" cy="355.6" r="5.6" fill="#472a79"/><circle cx="315.6" cy="361.1" r="5.6" fill="#482475"/><circle cx="315.6" cy="371.1" r="5.6" fill="#44347e"/><circle cx="325.6" cy="375.6" r="5.6" fill="#461264"/><circle cx="330.0" cy="375.6" r="5.6" fill="#482475"/><circle cx="316.7" cy="382.2" r="5.6" fill="#482475"/><circle cx="323.3" cy="387.8" r="5.6" fill="#482475"/><circle cx="325.6" cy="395.6" r="5.6" fill="#472a79"/><circle cx="320.0" cy="403.3" r="5.6" fill="#44347e"/><circle cx="321.1" cy="413.3" r="5.6" fill="#414a88"/><circle cx="316.7" cy="421.1" r="5.6" fill="#425289"/><circle cx="326.7" cy="422.2" r="5.6" fill="#414487"/><circle cx="321.1" cy="431.1" r="5.6" fill="#446289"/><circle cx="325.6" cy="430.0" r="5.6" fill="#414487"/><circle cx="348.9" cy="362.2" r="5.6" fill="#450c5e"/><circle cx="367.1" cy="358.9" r="5.6" fill="#461264"/><circle cx="366.7" cy="377.8" r="5.6" fill="#450c5e"/><circle cx="358.9" cy="387.8" r="5.6" fill="#44347e"/><circle cx="367.1" cy="387.8" r="5.6" fill="#461264"/><circle cx="370.0" cy="397.8" r="5.6" fill="#472a79"/><circle cx="351.1" cy="404.4" r="5.6" fill="#471d6e"/><circle cx="355.6" cy="398.9" r="5.6" fill="#44347e"/><circle cx="364.4" cy="410.0" r="5.6" fill="#461264"/><circle cx="376.7" cy="413.3" r="5.6" fill="#435c89"/><circle cx="356.7" cy="417.8" r="5.6" fill="#446289"/><circle cx="351.1" cy="428.9" r="5.6" fill="#425289"/><circle cx="357.8" cy="433.3" r="5.6" fill="#446289"/><circle cx="344.4" cy="427.8" r="5.6" fill="#471d6e"/><circle cx="334.4" cy="437.8" r="5.6" fill="#482475"/><circle cx="366.7" cy="437.8" r="5.6" fill="#482475"/><circle cx="370.0" cy="328.9" r="5.6" fill="#461264"/><circle cx="404.0" cy="295.1" r="5.6" fill="#461264"/><circle cx="406.7" cy="313.3" r="5.6" fill="#471d6e"/><circle cx="403.3" cy="318.9" r="5.6" fill="#471d6e"/><circle cx="398.9" cy="327.8" r="5.6" fill="#461264"/><circle cx="385.6" cy="335.6" r="5.6" fill="#461264"/><circle cx="392.2" cy="338.9" r="5.6" fill="#461264"/><circle cx="382.2" cy="424.4" r="5.6" fill="#482475"/><circle cx="390.0" cy="424.4" r="5.6" fill="#482475"/><circle cx="381.1" cy="431.1" r="5.6" fill="#472a79"/><circle cx="405.6" cy="384.4" r="5.6" fill="#467389"/><circle cx="404.4" cy="395.6" r="5.6" fill="#467389"/><circle cx="406.7" cy="406.7" r="5.6" fill="#446289"/><circle cx="397.8" cy="415.6" r="5.6" fill="#446289"/><circle cx="429.3" cy="256.0" r="5.6" fill="#460f61"/><circle cx="463.8" cy="260.4" r="5.6" fill="#460f61"/><circle cx="486.7" cy="248.4" r="5.6" fill="#460f61"/><circle cx="501.1" cy="243.3" r="5.6" fill="#460f61"/><circle cx="553.3" cy="244.4" r="5.6" fill="#460f61"/><circle cx="557.8" cy="250.0" r="5.6" fill="#460f61"/><circle cx="555.6" cy="261.1" r="5.6" fill="#460f61"/><circle cx="551.1" cy="260.0" r="5.6" fill="#460f61"/><circle cx="593.3" cy="266.7" r="5.6" fill="#460f61"/><circle cx="597.8" cy="277.8" r="5.6" fill="#460f61"/><circle cx="615.6" cy="268.9" r="5.6" fill="#460f61"/><circle cx="616.7" cy="275.6" r="5.6" fill="#460f61"/><circle cx="653.3" cy="248.9" r="5.6" fill="#460f61"/><circle cx="664.4" cy="242.2" r="5.6" fill="#460f61"/><circle cx="673.3" cy="242.2" r="5.6" fill="#460f61"/><circle cx="552.2" cy="280.0" r="5.6" fill="#460f61"/><circle cx="548.9" cy="284.4" r="5.6" fill="#460f61"/><circle cx="556.7" cy="297.8" r="5.6" fill="#460f61"/><circle cx="528.9" cy="382.2" r="5.6" fill="#460f61"/><circle cx="517.8" cy="378.9" r="5.6" fill="#460f61"/><circle cx="501.1" cy="397.8" r="5.6" fill="#460f61"/><circle cx="506.7" cy="415.6" r="5.6" fill="#460f61"/><circle cx="488.9" cy="430.0" r="5.6" fill="#44347e"/><circle cx="475.6" cy="438.9" r="5.6" fill="#460f61"/><circle cx="528.9" cy="403.3" r="5.6" fill="#460f61"/><circle cx="541.1" cy="405.6" r="5.6" fill="#460f61"/><circle cx="531.1" cy="422.2" r="5.6" fill="#460f61"/><circle cx="527.8" cy="435.6" r="5.6" fill="#460f61"/><circle cx="566.7" cy="398.9" r="5.6" fill="#460f61"/><circle cx="575.6" cy="393.3" r="5.6" fill="#460f61"/><circle cx="576.7" cy="405.6" r="5.6" fill="#460f61"/><circle cx="573.3" cy="416.7" r="5.6" fill="#460f61"/><circle cx="593.3" cy="415.6" r="5.6" fill="#460f61"/><circle cx="628.9" cy="410.0" r="5.6" fill="#460f61"/><circle cx="628.9" cy="431.1" r="5.6" fill="#460f61"/><circle cx="595.6" cy="386.7" r="5.6" fill="#460f61"/><circle cx="677.8" cy="366.7" r="5.6" fill="#460f61"/><circle cx="671.1" cy="383.3" r="5.6" fill="#460f61"/><circle cx="662.2" cy="392.2" r="5.6" fill="#460f61"/><circle cx="668.9" cy="396.7" r="5.6" fill="#460f61"/><circle cx="715.6" cy="377.8" r="5.6" fill="#460f61"/><circle cx="715.6" cy="394.4" r="5.6" fill="#460f61"/><circle cx="628.9" cy="377.8" r="5.6" fill="#460f61"/><circle cx="642.2" cy="381.1" r="5.6" fill="#460f61"/><circle cx="633.3" cy="384.4" r="5.6" fill="#460f61"/><circle cx="796.7" cy="248.9" r="5.6" fill="#460f61"/><circle cx="796.7" cy="275.6" r="5.6" fill="#460f61"/><circle cx="837.8" cy="392.2" r="5.6" fill="#460f61"/><circle cx="823.3" cy="406.2" r="5.6" fill="#460f61"/><circle cx="811.1" cy="382.2" r="5.6" fill="#460f61"/><circle cx="863.3" cy="421.1" r="5.6" fill="#460f61"/><circle cx="900.0" cy="414.4" r="5.6" fill="#460f61"/><circle cx="920.0" cy="435.6" r="5.6" fill="#460f61"/><circle cx="931.1" cy="412.2" r="5.6" fill="#460f61"/><circle cx="862.2" cy="393.3" r="5.6" fill="#460f61"/><circle cx="1039.8" cy="323.8" r="5.6" fill="#482475"/><circle cx="1043.2" cy="347.1" r="5.6" fill="#482475"/><circle cx="1049.8" cy="348.7" r="5.6" fill="#482475"/><circle cx="1036.5" cy="362.0" r="5.6" fill="#482475"/><circle cx="1027.4" cy="434.2" r="5.6" fill="#482475"/><circle cx="1029.9" cy="399.3" r="5.6" fill="#482475"/><circle cx="1024.9" cy="395.2" r="5.6" fill="#482475"/><circle cx="1033.2" cy="372.8" r="5.6" fill="#482475"/><circle cx="1024.9" cy="371.1" r="5.6" fill="#482475"/><circle cx="1033.2" cy="367.8" r="5.6" fill="#482475"/><circle cx="1038.2" cy="374.4" r="5.6" fill="#482475"/><circle cx="1035.7" cy="386.1" r="5.6" fill="#482475"/><circle cx="1031.5" cy="394.4" r="5.6" fill="#482475"/><circle cx="1031.5" cy="401.8" r="5.6" fill="#482475"/><circle cx="1063.1" cy="377.8" r="5.6" fill="#450c5e"/><circle cx="1074.7" cy="412.6" r="5.6" fill="#450c5e"/><circle cx="1074.7" cy="422.6" r="5.6" fill="#45085b"/><circle cx="1073.0" cy="391.0" r="5.6" fill="#44347e"/><circle cx="351.1" cy="528.9" r="5.6" fill="#45085b"/><circle cx="292.2" cy="487.8" r="5.6" fill="#450c5e"/><circle cx="176.7" cy="448.9" r="5.6" fill="#461264"/><circle cx="201.1" cy="447.8" r="5.6" fill="#461264"/><circle cx="311.1" cy="457.8" r="5.6" fill="#450c5e"/><circle cx="312.2" cy="444.4" r="5.6" fill="#450c5e"/><circle cx="390.0" cy="496.7" r="5.6" fill="#460f61"/><circle cx="395.6" cy="517.8" r="5.6" fill="#460f61"/><circle cx="397.8" cy="592.2" r="5.6" fill="#461264"/><circle cx="340.0" cy="560.0" r="5.6" fill="#461264"/><circle cx="338.9" cy="568.9" r="5.6" fill="#461264"/><circle cx="356.7" cy="580.0" r="5.6" fill="#5fbf7b"/><circle cx="361.1" cy="598.9" r="5.6" fill="#6ccd71"/><circle cx="352.2" cy="557.8" r="5.6" fill="#50a580"/><circle cx="226.7" cy="588.9" r="5.6" fill="#4d9a84"/><circle cx="281.1" cy="617.8" r="5.6" fill="#50a580"/><circle cx="281.1" cy="482.2" r="5.6" fill="#4b8e87"/><circle cx="346.7" cy="478.9" r="5.6" fill="#498688"/><circle cx="384.4" cy="520.0" r="5.6" fill="#498688"/><circle cx="391.1" cy="552.2" r="5.6" fill="#487e89"/><circle cx="288.9" cy="523.3" r="5.6" fill="#487e89"/><circle cx="364.4" cy="502.2" r="5.6" fill="#487e89"/><circle cx="286.7" cy="608.9" r="5.6" fill="#498688"/><circle cx="342.2" cy="606.7" r="5.6" fill="#4b8e87"/><circle cx="315.6" cy="626.7" r="5.6" fill="#498688"/><circle cx="222.2" cy="608.9" r="5.6" fill="#4b8e87"/><circle cx="444.4" cy="455.6" r="5.6" fill="#414487"/><circle cx="459.6" cy="458.2" r="5.6" fill="#44347e"/><circle cx="484.4" cy="446.2" r="5.6" fill="#482475"/><circle cx="481.1" cy="460.0" r="5.6" fill="#44347e"/><circle cx="483.3" cy="467.8" r="5.6" fill="#414a88"/><circle cx="481.1" cy="476.2" r="5.6" fill="#487e89"/><circle cx="483.3" cy="501.1" r="5.6" fill="#488189"/><circle cx="655.1" cy="479.1" r="5.6" fill="#45085b"/><circle cx="651.8" cy="616.7" r="5.6" fill="#45085b"/><circle cx="423.3" cy="457.8" r="5.6" fill="#487e89"/><circle cx="428.9" cy="464.4" r="5.6" fill="#446289"/><circle cx="428.9" cy="471.1" r="5.6" fill="#446289"/><circle cx="425.6" cy="480.0" r="5.6" fill="#423e83"/><circle cx="432.2" cy="480.0" r="5.6" fill="#482475"/><circle cx="432.2" cy="486.7" r="5.6" fill="#482475"/><circle cx="434.4" cy="498.2" r="5.6" fill="#461264"/><circle cx="426.7" cy="505.6" r="5.6" fill="#482475"/><circle cx="431.1" cy="505.6" r="5.6" fill="#482475"/><circle cx="422.2" cy="513.3" r="5.6" fill="#482475"/><circle cx="422.7" cy="518.9" r="5.6" fill="#498688"/><circle cx="420.0" cy="541.1" r="5.6" fill="#461264"/><circle cx="422.7" cy="567.1" r="5.6" fill="#498688"/><circle cx="426.2" cy="584.9" r="5.6" fill="#414a88"/><circle cx="420.0" cy="600.0" r="5.6" fill="#414a88"/><circle cx="435.6" cy="443.3" r="5.6" fill="#482475"/><circle cx="739.6" cy="463.3" r="5.6" fill="#45085b"/><circle cx="744.4" cy="466.7" r="5.6" fill="#45085b"/><circle cx="841.6" cy="464.9" r="5.6" fill="#450c5e"/><circle cx="861.6" cy="461.8" r="5.6" fill="#482475"/><circle cx="912.2" cy="444.9" r="5.6" fill="#471d6e"/><circle cx="921.1" cy="441.1" r="5.6" fill="#471d6e"/><circle cx="920.7" cy="458.2" r="5.6" fill="#471d6e"/><circle cx="914.9" cy="495.1" r="5.6" fill="#471d6e"/><circle cx="950.0" cy="510.0" r="5.6" fill="#472a79"/><circle cx="953.3" cy="510.7" r="5.6" fill="#472a79"/><circle cx="981.1" cy="519.6" r="5.6" fill="#482475"/><circle cx="983.3" cy="506.7" r="5.6" fill="#482475"/><circle cx="977.8" cy="494.4" r="5.6" fill="#472a79"/><circle cx="983.3" cy="495.6" r="5.6" fill="#482475"/><circle cx="983.3" cy="483.3" r="5.6" fill="#471d6e"/><circle cx="998.9" cy="491.6" r="5.6" fill="#471d6e"/><circle cx="1007.8" cy="484.4" r="5.6" fill="#482475"/><circle cx="1012.2" cy="516.0" r="5.6" fill="#471d6e"/><circle cx="1007.3" cy="527.8" r="5.6" fill="#472a79"/><circle cx="1011.8" cy="540.0" r="5.6" fill="#482475"/><circle cx="988.2" cy="546.7" r="5.6" fill="#471d6e"/><circle cx="997.8" cy="574.0" r="5.6" fill="#471d6e"/><circle cx="997.8" cy="590.0" r="5.6" fill="#482475"/><circle cx="997.8" cy="595.1" r="5.6" fill="#482475"/><circle cx="997.8" cy="616.7" r="5.6" fill="#482475"/><circle cx="956.7" cy="580.4" r="5.6" fill="#472a79"/><circle cx="950.0" cy="443.3" r="5.6" fill="#471d6e"/><circle cx="951.1" cy="457.8" r="5.6" fill="#471d6e"/><circle cx="947.8" cy="463.3" r="5.6" fill="#471d6e"/><circle cx="953.3" cy="468.9" r="5.6" fill="#471d6e"/><circle cx="957.8" cy="476.7" r="5.6" fill="#471d6e"/><circle cx="966.7" cy="476.7" r="5.6" fill="#471d6e"/><circle cx="975.6" cy="481.1" r="5.6" fill="#471d6e"/><circle cx="1006.7" cy="473.3" r="5.6" fill="#472a79"/><circle cx="1018.9" cy="508.9" r="5.6" fill="#482475"/><circle cx="1037.3" cy="467.3" r="5.6" fill="#482475"/><circle cx="1035.3" cy="517.1" r="5.6" fill="#471d6e"/><circle cx="1037.3" cy="538.5" r="5.6" fill="#471d6e"/><circle cx="1038.4" cy="553.0" r="5.6" fill="#482475"/><circle cx="1033.2" cy="572.1" r="5.6" fill="#471d6e"/><circle cx="1047.7" cy="481.9" r="5.6" fill="#471d6e"/><circle cx="1088.2" cy="479.4" r="5.6" fill="#472a79"/><circle cx="1087.1" cy="557.6" r="5.6" fill="#471d6e"/><circle cx="1088.2" cy="538.9" r="5.6" fill="#471d6e"/><circle cx="1061.2" cy="632.3" r="5.6" fill="#472a79"/><circle cx="1061.2" cy="659.3" r="5.6" fill="#472a79"/><circle cx="1060.2" cy="617.8" r="5.6" fill="#446289"/><circle cx="1051.9" cy="591.8" r="5.6" fill="#482475"/><circle cx="1072.6" cy="496.4" r="5.6" fill="#446289"/><circle cx="1071.6" cy="527.5" r="5.6" fill="#446289"/><circle cx="1060.2" cy="553.4" r="5.6" fill="#446289"/><circle cx="1060.2" cy="573.2" r="5.6" fill="#446289"/><circle cx="1080.9" cy="523.4" r="5.6" fill="#425289"/><circle cx="1072.6" cy="454.9" r="5.6" fill="#45085b"/><circle cx="207.7" cy="648.4" r="5.6" fill="#414a88"/><circle cx="212.4" cy="636.6" r="5.6" fill="#414a88"/><circle cx="211.3" cy="640.1" r="5.6" fill="#414a88"/><circle cx="212.4" cy="676.9" r="5.6" fill="#425289"/><circle cx="214.8" cy="689.2" r="5.6" fill="#423e83"/><circle cx="239.0" cy="674.0" r="5.6" fill="#467389"/><circle cx="252.7" cy="636.1" r="5.6" fill="#477a89"/><circle cx="233.8" cy="641.3" r="5.6" fill="#425289"/><circle cx="238.5" cy="642.5" r="5.6" fill="#414487"/><circle cx="270.5" cy="641.3" r="5.6" fill="#425289"/><circle cx="271.7" cy="650.8" r="5.6" fill="#425289"/><circle cx="283.6" cy="643.7" r="5.6" fill="#446289"/><circle cx="283.6" cy="652.0" r="5.6" fill="#446289"/><circle cx="283.6" cy="660.3" r="5.6" fill="#425289"/><circle cx="301.3" cy="644.9" r="5.6" fill="#467389"/><circle cx="304.9" cy="652.0" r="5.6" fill="#6ccd71"/><circle cx="275.3" cy="673.3" r="5.6" fill="#6ccd71"/><circle cx="285.5" cy="682.3" r="5.6" fill="#456989"/><circle cx="291.9" cy="694.0" r="5.6" fill="#477a89"/><circle cx="298.5" cy="701.8" r="5.6" fill="#b4e84b"/><circle cx="309.6" cy="692.3" r="5.6" fill="#6ccd71"/><circle cx="309.6" cy="703.0" r="5.6" fill="#62c47a"/><circle cx="309.6" cy="712.0" r="5.6" fill="#76d769"/><circle cx="304.9" cy="662.7" r="5.6" fill="#446289"/><circle cx="312.0" cy="661.5" r="5.6" fill="#446289"/><circle cx="304.9" cy="672.1" r="5.6" fill="#425289"/><circle cx="304.9" cy="674.5" r="5.6" fill="#414a88"/><circle cx="319.1" cy="660.3" r="5.6" fill="#4b8e87"/><circle cx="321.5" cy="667.4" r="5.6" fill="#498688"/><circle cx="322.7" cy="674.5" r="5.6" fill="#498688"/><circle cx="326.2" cy="680.4" r="5.6" fill="#498688"/><circle cx="328.6" cy="686.4" r="5.6" fill="#498688"/><circle cx="325.0" cy="694.7" r="5.6" fill="#498688"/><circle cx="326.2" cy="655.6" r="5.6" fill="#425289"/><circle cx="327.4" cy="656.7" r="5.6" fill="#446289"/><circle cx="312.0" cy="641.3" r="5.6" fill="#4b8e87"/><circle cx="312.0" cy="636.6" r="5.6" fill="#4b8e87"/><circle cx="338.1" cy="648.4" r="5.6" fill="#446289"/><circle cx="341.6" cy="678.1" r="5.6" fill="#414a88"/><circle cx="342.8" cy="686.4" r="5.6" fill="#414a88"/><circle cx="339.3" cy="692.3" r="5.6" fill="#425289"/><circle cx="340.4" cy="698.2" r="5.6" fill="#425289"/><circle cx="339.3" cy="704.1" r="5.6" fill="#425289"/><circle cx="341.6" cy="714.3" r="5.6" fill="#467389"/><circle cx="349.9" cy="643.7" r="5.6" fill="#435c89"/><circle cx="352.3" cy="648.4" r="5.6" fill="#446289"/><circle cx="359.4" cy="635.4" r="5.6" fill="#467389"/><circle cx="357.0" cy="660.8" r="5.6" fill="#50a580"/><circle cx="354.7" cy="671.0" r="5.6" fill="#58b27e"/><circle cx="358.2" cy="679.3" r="5.6" fill="#76d769"/><circle cx="370.1" cy="691.6" r="5.6" fill="#58b27e"/><circle cx="370.8" cy="713.2" r="5.6" fill="#414a88"/><circle cx="393.8" cy="716.7" r="5.6" fill="#58b27e"/><circle cx="374.8" cy="655.6" r="5.6" fill="#425289"/><circle cx="376.0" cy="661.5" r="5.6" fill="#425289"/><circle cx="383.1" cy="662.7" r="5.6" fill="#425289"/><circle cx="383.1" cy="648.4" r="5.6" fill="#414487"/><circle cx="389.0" cy="639.0" r="5.6" fill="#467389"/><circle cx="390.2" cy="646.1" r="5.6" fill="#498688"/><circle cx="390.2" cy="653.2" r="5.6" fill="#4b8e87"/><circle cx="391.4" cy="660.3" r="5.6" fill="#4b8e87"/><circle cx="314.4" cy="736.6" r="5.6" fill="#50a580"/><circle cx="277.6" cy="752.7" r="5.6" fill="#76d769"/><circle cx="308.4" cy="749.9" r="5.6" fill="#6ccd71"/><circle cx="303.0" cy="759.9" r="5.6" fill="#bee947"/><circle cx="279.3" cy="771.7" r="5.6" fill="#86e15e"/><circle cx="280.0" cy="790.2" r="5.6" fill="#a8e650"/><circle cx="315.6" cy="809.6" r="5.6" fill="#b4e84b"/><circle cx="361.8" cy="737.3" r="5.6" fill="#bee947"/><circle cx="367.7" cy="740.9" r="5.6" fill="#a8e650"/><circle cx="374.8" cy="731.4" r="5.6" fill="#414a88"/><circle cx="374.8" cy="736.1" r="5.6" fill="#414a88"/><circle cx="374.8" cy="748.0" r="5.6" fill="#414487"/><circle cx="355.4" cy="747.5" r="5.6" fill="#97e457"/><circle cx="358.2" cy="761.0" r="5.6" fill="#ccea42"/><circle cx="357.0" cy="775.3" r="5.6" fill="#d6eb3e"/><circle cx="360.6" cy="772.9" r="5.6" fill="#d6eb3e"/><circle cx="392.1" cy="772.9" r="5.6" fill="#97e457"/><circle cx="427.0" cy="760.6" r="5.6" fill="#7ddd63"/><circle cx="275.1" cy="849.8" r="5.6" fill="#bee947"/><circle cx="274.2" cy="877.6" r="5.6" fill="#d1ea40"/><circle cx="276.7" cy="897.1" r="5.6" fill="#bee947"/><circle cx="369.1" cy="854.0" r="5.6" fill="#d1ea40"/><circle cx="655.6" cy="703.3" r="5.6" fill="#45085b"/><circle cx="678.4" cy="693.3" r="5.6" fill="#45085b"/><circle cx="663.3" cy="777.8" r="5.6" fill="#45085b"/><circle cx="482.9" cy="1087.8" r="5.6" fill="#450c5e"/><circle cx="656.9" cy="1074.2" r="5.6" fill="#450c5e"/></g>
<path d="M141.9,482.7 L146.7,485.1 L151.4,487.4 L156.2,489.7 L160.9,491.8 L165.7,493.9 L170.4,495.8 L175.2,497.6 L180.0,499.4 L184.7,501.0 L189.5,502.6 L194.2,504.0 L199.0,505.4 L203.8,506.6 L208.5,507.7 L213.3,508.7 L218.0,509.6 L222.8,510.4 L227.5,511.1 L232.3,511.6 L237.1,512.1 L241.8,512.4 L246.6,512.6 L251.3,512.7 L256.1,512.7 L260.9,512.6 L265.6,512.4 L270.4,512.0 L275.1,511.6 L279.9,511.0 L284.6,510.3 L289.4,509.5 L294.2,508.6 L298.9,507.6 L303.7,506.5 L308.4,505.3 L313.2,503.9 L318.0,502.5 L322.7,500.9 L327.5,499.3 L332.2,497.5 L337.0,495.7 L341.7,493.7 L346.5,491.7 L351.3,489.5 L356.0,487.3 L360.8,485.0 L365.5,482.5 L370.3,480.0 L375.1,477.5 L379.8,474.8 L384.6,472.0 L389.3,469.2 L394.1,466.3 L398.8,463.4 L403.6,460.3 L408.4,457.2 L413.1,454.0 L417.9,450.8 L422.6,447.5 L427.4,444.2 L432.2,440.8 L436.9,437.3 L441.7,433.9 L446.4,430.3 L451.2,426.8 L455.9,423.2 L460.7,419.5 L465.5,415.9 L470.2,412.2 L475.0,408.5 L479.7,404.7 L484.5,401.0 L489.3,397.2 L494.0,393.4 L498.8,389.7 L503.5,385.9 L508.3,382.1 L513.0,378.3 L517.8,374.6 L522.6,370.8 L527.3,367.1 L532.1,363.4 L536.8,359.7 L541.6,356.0 L546.4,352.4 L551.1,348.8 L555.9,345.2 L560.6,341.6 L565.4,338.2 L570.1,334.7 L574.9,331.3 L579.7,327.9 L584.4,324.6 L589.2,321.4 L593.9,318.2 L598.7,315.1 L603.5,312.1 L608.2,309.1 L613.0,306.2 L617.7,303.3 L622.5,300.6 L627.2,297.9 L632.0,295.3 L636.8,292.7 L641.5,290.3 L646.3,288.0 L651.0,285.7 L655.8,283.5 L660.6,281.5 L665.3,279.5 L670.1,277.6 L674.8,275.8 L679.6,274.2 L684.3,272.6 L689.1,271.1 L693.9,269.8 L698.6,268.5 L703.4,267.4 L708.1,266.3 L712.9,265.4 L717.7,264.6 L722.4,263.9 L727.2,263.3 L731.9,262.8 L736.7,262.4 L741.4,262.2 L746.2,262.0 L751.0,262.0 L755.7,262.1 L760.5,262.3 L765.2,262.6 L770.0,263.0 L774.8,263.6 L779.5,264.2 L784.3,265.0 L789.0,265.9 L793.8,266.8 L798.5,267.9 L803.3,269.1 L808.1,270.4 L812.8,271.9 L817.6,273.4 L822.3,275.0 L827.1,276.7 L831.9,278.6 L836.6,280.5 L841.4,282.5 L846.1,284.6 L850.9,286.8 L855.6,289.1 L860.4,291.5 L865.2,294.0 L869.9,296.6 L874.7,299.2 L879.4,301.9 L884.2,304.7 L889.0,307.6 L893.7,310.6 L898.5,313.6 L903.2,316.7 L908.0,319.8 L912.7,323.0 L917.5,326.3 L922.3,329.6 L927.0,333.0 L931.8,336.4 L936.5,339.9 L941.3,343.4 L946.1,347.0 L950.8,350.6 L955.6,354.2 L960.3,357.9 L965.1,361.5 L969.8,365.3 L974.6,369.0 L979.4,372.7 L984.1,376.5 L988.9,380.3 L993.6,384.0 L998.4,387.8 L1003.2,391.6 L1007.9,395.4 L1012.7,399.1 L1017.4,402.9 L1022.2,406.6 L1026.9,410.3 L1031.7,414.0 L1036.5,417.7 L1041.2,421.4 L1046.0,425.0 L1050.7,428.6 L1055.5,432.1 L1060.3,435.6 L1065.0,439.1 L1069.8,442.5 L1074.5,445.9 L1079.3,449.2 L1084.0,452.4 L1088.8,455.6" fill="none" stroke="#fa1e0c" stroke-width="8.2" stroke-linecap="butt"/>
<rect x="95.5" y="3.3" width="1039.1" height="1135.4" fill="none" stroke="#333" stroke-width="1.5"/>
<line x1="87.5" y1="1134.15" x2="95.5" y2="1134.15" stroke="#333" stroke-width="1.5"/><line x1="87.5" y1="765.25" x2="95.5" y2="765.25" stroke="#333" stroke-width="1.5"/><line x1="87.5" y1="396.35" x2="95.5" y2="396.35" stroke="#333" stroke-width="1.5"/><line x1="87.5" y1="27.45" x2="95.5" y2="27.45" stroke="#333" stroke-width="1.5"/><line x1="128.70" y1="1138.7" x2="128.70" y2="1146.7" stroke="#333" stroke-width="1.5"/><line x1="376.80" y1="1138.7" x2="376.80" y2="1146.7" stroke="#333" stroke-width="1.5"/><line x1="624.90" y1="1138.7" x2="624.90" y2="1146.7" stroke="#333" stroke-width="1.5"/><line x1="873.00" y1="1138.7" x2="873.00" y2="1146.7" stroke="#333" stroke-width="1.5"/><line x1="1121.10" y1="1138.7" x2="1121.10" y2="1146.7" stroke="#333" stroke-width="1.5"/>
<text transform="translate(81.50,1143.35) scale(1,1.085)" font-size="22.8" fill="#4d4d4d" text-anchor="end">60</text>
<text transform="translate(81.50,774.45) scale(1,1.085)" font-size="22.8" fill="#4d4d4d" text-anchor="end">80</text>
<text transform="translate(81.50,405.55) scale(1,1.085)" font-size="22.8" fill="#4d4d4d" text-anchor="end">100</text>
<text transform="translate(81.50,36.65) scale(1,1.085)" font-size="22.8" fill="#4d4d4d" text-anchor="end">120</text>
<text transform="translate(128.70,1169.9) scale(1,1.085)" font-size="22.8" fill="#4d4d4d" text-anchor="middle">0</text>
<text transform="translate(376.80,1169.9) scale(1,1.085)" font-size="22.8" fill="#4d4d4d" text-anchor="middle">3</text>
<text transform="translate(624.90,1169.9) scale(1,1.085)" font-size="22.8" fill="#4d4d4d" text-anchor="middle">6</text>
<text transform="translate(873.00,1169.9) scale(1,1.085)" font-size="22.8" fill="#4d4d4d" text-anchor="middle">9</text>
<text transform="translate(1121.10,1169.9) scale(1,1.085)" font-size="22.8" fill="#4d4d4d" text-anchor="middle">12</text>
<text x="615.7" y="1201.2" font-size="28.4" fill="#000" text-anchor="middle">Month of Year</text>
<text transform="translate(23.4,570.0) rotate(-90)" font-size="28.4" fill="#000" text-anchor="middle">Mean O<tspan font-size="20" dy="5.5">2</tspan><tspan dy="-5.5"> Saturation in 10m Below Mixed Layer</tspan></text>
<defs><linearGradient id="vg" x1="0" y1="0" x2="0" y2="1"><stop offset="0.000" stop-color="#440154"/><stop offset="0.025" stop-color="#450a5c"/><stop offset="0.050" stop-color="#461264"/><stop offset="0.075" stop-color="#471b6d"/><stop offset="0.100" stop-color="#482475"/><stop offset="0.125" stop-color="#462c7a"/><stop offset="0.150" stop-color="#44347e"/><stop offset="0.175" stop-color="#433c82"/><stop offset="0.200" stop-color="#414487"/><stop offset="0.225" stop-color="#424b88"/><stop offset="0.250" stop-color="#425289"/><stop offset="0.275" stop-color="#435a89"/><stop offset="0.300" stop-color="#446289"/><stop offset="0.325" stop-color="#456a89"/><stop offset="0.350" stop-color="#467389"/><stop offset="0.375" stop-color="#477989"/><stop offset="0.400" stop-color="#487e89"/><stop offset="0.425" stop-color="#498289"/><stop offset="0.450" stop-color="#498688"/><stop offset="0.475" stop-color="#4a8a88"/><stop offset="0.500" stop-color="#4b8e87"/><stop offset="0.525" stop-color="#4c9485"/><stop offset="0.550" stop-color="#4d9a84"/><stop offset="0.575" stop-color="#4f9f82"/><stop offset="0.600" stop-color="#50a580"/><stop offset="0.625" stop-color="#54ab7f"/><stop offset="0.650" stop-color="#58b27e"/><stop offset="0.675" stop-color="#5bb87c"/><stop offset="0.700" stop-color="#5fbf7b"/><stop offset="0.725" stop-color="#64c679"/><stop offset="0.750" stop-color="#6ccd71"/><stop offset="0.775" stop-color="#74d56a"/><stop offset="0.800" stop-color="#7ddd63"/><stop offset="0.825" stop-color="#89e15d"/><stop offset="0.850" stop-color="#97e457"/><stop offset="0.875" stop-color="#a6e651"/><stop offset="0.900" stop-color="#b4e84b"/><stop offset="0.925" stop-color="#c0e946"/><stop offset="0.950" stop-color="#ccea42"/><stop offset="0.975" stop-color="#d8eb3d"/><stop offset="1.000" stop-color="#e4ec38"/></linearGradient></defs>
<rect x="1177.9" y="479.8" width="45.1" height="223.59999999999997" fill="url(#vg)"/>
<line x1="1177.9" y1="514.1" x2="1186.9" y2="514.1" stroke="#fff" stroke-width="1.2"/>
<line x1="1214.0" y1="514.1" x2="1223.0" y2="514.1" stroke="#fff" stroke-width="1.2"/>
<text transform="translate(1237.6,523.00) scale(1,1.085)" font-size="22.8" fill="#000">100</text>
<line x1="1177.9" y1="552.5" x2="1186.9" y2="552.5" stroke="#fff" stroke-width="1.2"/>
<line x1="1214.0" y1="552.5" x2="1223.0" y2="552.5" stroke="#fff" stroke-width="1.2"/>
<text transform="translate(1237.6,561.40) scale(1,1.085)" font-size="22.8" fill="#000">200</text>
<line x1="1177.9" y1="590.6" x2="1186.9" y2="590.6" stroke="#fff" stroke-width="1.2"/>
<line x1="1214.0" y1="590.6" x2="1223.0" y2="590.6" stroke="#fff" stroke-width="1.2"/>
<text transform="translate(1237.6,599.50) scale(1,1.085)" font-size="22.8" fill="#000">300</text>
<line x1="1177.9" y1="628.7" x2="1186.9" y2="628.7" stroke="#fff" stroke-width="1.2"/>
<line x1="1214.0" y1="628.7" x2="1223.0" y2="628.7" stroke="#fff" stroke-width="1.2"/>
<text transform="translate(1237.6,637.60) scale(1,1.085)" font-size="22.8" fill="#000">400</text>
<line x1="1177.9" y1="667.0" x2="1186.9" y2="667.0" stroke="#fff" stroke-width="1.2"/>
<line x1="1214.0" y1="667.0" x2="1223.0" y2="667.0" stroke="#fff" stroke-width="1.2"/>
<text transform="translate(1237.6,675.90) scale(1,1.085)" font-size="22.8" fill="#000">500</text>
<text x="1177.8" y="462.2" font-size="28.6" fill="#000">ML Depth [m]</text>
</svg></body></html>
